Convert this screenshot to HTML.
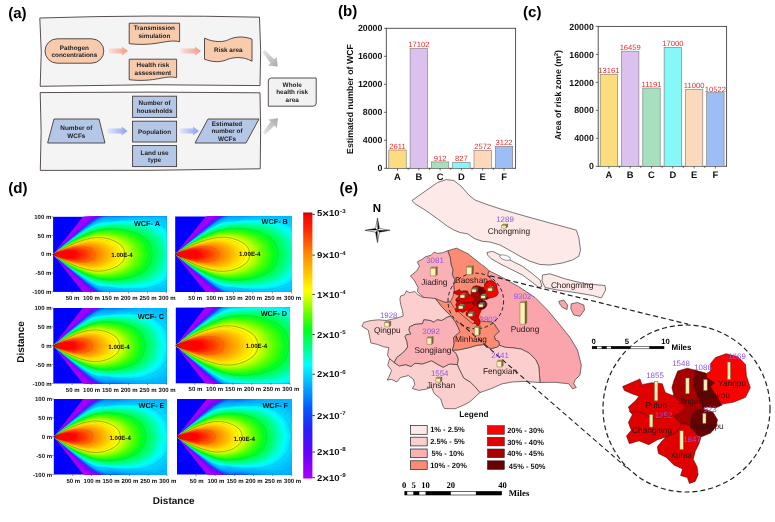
<!DOCTYPE html>
<html><head><meta charset="utf-8"><style>html,body{margin:0;padding:0;background:#fff}svg{display:block;will-change:transform;text-rendering:geometricPrecision}</style></head><body>
<svg width="775" height="522" viewBox="0 0 775 522" font-family="Liberation Sans, sans-serif">
<rect width="775" height="522" fill="#fff"/>
<path d="M412.0,200.5 425.0,191.3 437.5,182.5 446.3,179.6 453.8,180.5 461.3,186.3 468.8,195.0 475.0,200.0 485.0,203.8 500.0,208.8 512.5,212.5 530.0,217.5 550.0,223.0 565.0,227.0 576.3,230.2 578.8,237.5 580.5,250.0 578.8,256.3 572.5,260.0 562.5,263.0 550.0,265.0 540.0,264.5 530.0,261.3 520.0,256.3 510.0,250.5 500.0,245.0 490.0,242.0 482.5,241.3 475.0,238.8 467.5,233.8 460.0,232.5 453.8,230.0 447.5,226.3 437.5,218.8 425.0,210.0 415.0,203.8Z" fill="#fde9e8" stroke="#383030" stroke-width="0.65" stroke-linejoin="round"/>
<path d="M487.0,252.5 492.5,251.3 500.0,255.0 510.0,260.0 522.5,266.3 532.5,273.8 540.0,280.0 542.0,286.3 538.8,287.5 532.5,282.5 522.5,275.0 510.0,268.8 500.0,263.8 491.3,258.8 487.5,255.0Z" fill="#fde9e8" stroke="#383030" stroke-width="0.65" stroke-linejoin="round"/>
<ellipse cx="505" cy="257.6" rx="5.6" ry="2.3" transform="rotate(17 505 257.6)" fill="#fff" stroke="#3a3a3a" stroke-width="0.5"/>
<path d="M542.5,275.0 550.0,273.8 565.0,278.8 585.0,283.8 605.0,285.5 605.6,290.0 601.4,298.0 592.6,295.5 575.0,292.5 557.5,290.0 545.0,287.5 542.0,281.0Z" fill="#fde9e8" stroke="#383030" stroke-width="0.65" stroke-linejoin="round"/>
<path d="M558.8,301.3 563.8,300.0 567.5,305.0 567.0,309.5 562.5,307.5 559.5,303.8Z" fill="#f9a5ab" stroke="#383030" stroke-width="0.65" stroke-linejoin="round"/>
<path d="M571.3,303.8 577.5,302.5 583.8,305.0 584.5,310.0 580.0,316.3 573.8,315.0 570.8,308.8Z" fill="#f9a5ab" stroke="#383030" stroke-width="0.65" stroke-linejoin="round"/>
<path d="M489.0,270.8 502.5,277.5 520.0,287.5 535.0,297.5 547.5,310.0 560.0,325.0 570.0,337.5 577.5,350.0 581.3,365.0 580.0,375.0 575.0,380.0 573.8,383.8 576.3,387.5 572.5,388.8 568.8,383.8 555.0,382.3 540.0,382.5 539.4,373.6 538.7,365.9 535.5,359.4 529.0,353.0 521.3,349.1 512.3,347.8 504.5,347.2 499.4,345.2 498.7,341.4 495.5,340.1 494.2,336.2 496.8,333.6 499.4,331.0 496.8,328.5 494.8,324.6 491.6,322.0 480.0,321.3 470.0,322.0 455.0,312.0 452.0,300.0 455.0,288.0 487.7,274.0Z" fill="#f9a5ab" stroke="#383030" stroke-width="0.65" stroke-linejoin="round"/>
<path d="M445.0,300.0 452.0,288.0 472.0,298.0 484.0,322.0 472.0,327.0 455.0,314.0Z" fill="#fb8c73" />
<path d="M447.7,250.8 451.6,249.5 456.8,248.2 461.9,250.8 468.4,254.0 474.8,259.2 481.3,264.4 486.5,268.2 489.0,270.8 487.7,274.0 490.3,278.5 496.0,285.0 496.0,292.0 470.0,295.0 454.2,292.0 453.5,283.7 454.8,279.8 452.3,274.7 452.9,269.5 451.0,264.4 450.3,257.9 448.4,252.7Z" fill="#fb8c73" stroke="#383030" stroke-width="0.65" stroke-linejoin="round"/>
<path d="M447.7,250.8 442.6,252.7 437.4,253.4 434.2,252.1 431.0,255.3 425.8,256.6 421.3,259.8 417.4,261.8 419.4,266.3 416.8,270.8 412.9,274.0 410.3,276.0 413.5,279.2 416.1,283.7 418.1,287.6 417.4,291.5 420.6,294.7 424.5,297.9 431.0,298.5 436.8,299.8 438.7,301.8 445.2,302.4 450.3,301.8 452.9,296.6 454.2,290.2 453.5,283.7 454.8,279.8 452.3,274.7 452.9,269.5 451.0,264.4 450.3,257.9 448.4,252.7Z" fill="#f9b1b6" stroke="#383030" stroke-width="0.65" stroke-linejoin="round"/>
<path d="M400.6,296.0 404.5,294.7 406.4,290.8 409.6,292.7 414.8,291.5 418.0,294.7 422.5,297.3 429.0,297.9 435.4,298.5 438.0,301.8 441.9,306.9 447.0,312.1 450.9,316.0 447.0,317.3 441.9,320.5 436.7,319.8 434.1,322.4 430.3,320.5 423.8,319.8 422.5,323.7 414.8,324.4 409.6,326.9 409.0,330.2 410.9,334.0 406.4,334.7 405.1,336.6 407.0,341.8 407.7,346.9 405.7,350.0 401.9,353.6 396.8,357.5 394.2,362.6 389.7,358.8 387.5,355.0 388.8,347.6 383.8,346.9 377.4,344.4 370.9,343.0 369.6,336.6 368.3,330.2 361.9,326.3 363.8,322.4 370.9,320.5 378.6,319.8 386.4,320.5 395.4,318.5 399.3,317.3 403.2,316.0 402.5,310.8 400.6,304.4 399.9,299.2Z" fill="#fccfcf" stroke="#383030" stroke-width="0.65" stroke-linejoin="round"/>
<path d="M394.2,362.6 399.4,365.9 405.8,364.6 411.0,366.5 414.8,363.3 422.6,363.9 431.6,360.7 438.1,364.6 443.2,367.2 449.7,363.9 457.4,364.6 460.0,370.4 463.9,378.1 470.3,382.0 475.5,387.2 480.0,392.5 470.3,401.4 465.0,404.5 455.0,408.8 444.5,408.5 443.2,406.5 440.6,398.8 434.2,393.6 431.6,387.2 426.5,389.1 418.7,390.4 412.3,388.5 414.8,384.6 413.5,379.4 408.4,375.5 400.6,377.5 396.8,382.0 391.6,379.4 387.1,380.1 389.0,376.8 391.6,370.4 387.7,365.2 389.7,358.8Z" fill="#fccfcf" stroke="#383030" stroke-width="0.65" stroke-linejoin="round"/>
<path d="M452.3,350.4 459.4,349.7 468.4,347.8 477.4,345.2 483.9,344.6 486.5,347.2 491.6,348.5 496.8,347.2 499.4,345.2 504.5,347.2 512.3,347.8 521.3,349.1 529.0,353.0 535.5,359.4 538.7,365.9 539.4,373.6 540.0,382.5 523.9,381.4 512.3,382.0 501.9,383.9 491.6,388.5 480.0,392.5 475.5,387.2 470.3,382.0 463.9,378.1 460.0,370.4 457.4,364.6 458.1,358.8 456.1,353.6Z" fill="#fccfcf" stroke="#383030" stroke-width="0.65" stroke-linejoin="round"/>
<path d="M409.6,326.9 414.8,324.4 422.5,323.7 423.8,319.8 430.3,320.5 434.1,322.4 436.7,319.8 441.9,320.5 447.0,317.3 450.9,316.0 455.5,322.0 458.1,327.2 460.0,331.7 456.8,334.9 453.5,337.5 454.2,343.9 452.3,350.4 456.1,353.6 458.1,358.8 457.4,364.6 449.7,363.9 443.2,367.2 438.1,364.6 431.6,360.7 422.6,363.9 414.8,363.3 411.0,366.5 405.8,364.6 399.4,365.9 394.2,362.6 396.8,357.5 401.9,353.6 405.7,350.0 407.7,346.9 407.0,341.8 405.1,336.6 406.4,334.7 410.9,334.0 409.0,330.2Z" fill="#f9b1b6" stroke="#383030" stroke-width="0.65" stroke-linejoin="round"/>
<path d="M435.4,298.5 445.2,302.4 450.3,301.8 455.0,308.8 465.0,317.5 472.6,323.8 480.0,321.3 491.6,322.0 494.8,324.6 496.8,328.5 499.4,331.0 496.8,333.6 494.2,336.2 495.5,340.1 498.7,341.4 499.4,345.2 496.8,347.2 491.6,348.5 486.5,347.2 483.9,344.6 477.4,345.2 468.4,347.8 459.4,349.7 452.3,350.4 454.2,343.9 453.5,337.5 456.8,334.9 460.0,331.7 458.1,327.2 455.5,322.0 450.9,316.0 447.0,312.1 441.9,306.9 438.0,301.8Z" fill="#fb8c73" stroke="#383030" stroke-width="0.65" stroke-linejoin="round"/>
<defs><g id="ctr">
<path d="M622.6,386.6 631.3,382.7 640.0,378.9 641.9,384.7 651.6,382.7 662.3,383.7 665.2,392.4 671.9,395.3 673.9,395.3 679.7,401.1 685.5,406.9 677.7,414.7 668.1,416.6 658.4,418.5 648.7,416.6 639.0,411.8 630.3,411.8 628.4,406.9 635.2,401.1 639.0,396.3 631.3,393.4 624.5,390.5Z" fill="#e00000" stroke="#4a0000" stroke-width="0.55" stroke-linejoin="round" vector-effect="non-scaling-stroke"/>
<path d="M629.4,410.8 630.3,411.8 639.0,411.8 648.7,416.6 658.4,418.5 668.1,416.6 677.7,414.7 674.8,416.6 677.7,420.5 681.6,423.4 678.7,430.2 673.9,434.0 666.1,436.9 657.4,439.8 648.7,444.7 639.0,440.8 629.4,443.7 626.5,436.0 631.3,430.2 628.4,422.4 632.3,414.7Z" fill="#e00000" stroke="#4a0000" stroke-width="0.55" stroke-linejoin="round" vector-effect="non-scaling-stroke"/>
<path d="M666.1,436.9 673.9,434.0 678.7,430.2 681.6,423.4 687.4,424.4 691.3,427.3 696.1,434.0 701.0,436.9 699.0,443.7 695.2,451.4 693.2,459.2 697.1,466.9 698.1,474.7 695.2,481.4 689.4,483.4 687.4,477.6 680.6,475.6 682.6,468.9 673.9,465.0 666.1,457.3 658.4,453.4 657.4,446.6 661.3,441.8Z" fill="#e00000" stroke="#4a0000" stroke-width="0.55" stroke-linejoin="round" vector-effect="non-scaling-stroke"/>
<path d="M710.6,363.4 715.5,357.6 726.1,353.7 737.7,356.6 745.5,364.4 746.4,376.0 750.3,387.6 745.5,397.3 733.9,402.1 722.3,404.0 719.4,401.1 714.5,393.4 710.6,386.6 714.5,382.7 706.8,377.9 705.8,374.0 710.6,371.1Z" fill="#ff0000" stroke="#4a0000" stroke-width="0.55" stroke-linejoin="round" vector-effect="non-scaling-stroke"/>
<path d="M673.9,380.8 677.7,371.1 687.4,368.2 695.2,370.2 695.2,376.0 693.2,383.7 697.1,393.4 701.0,403.1 702.9,408.9 695.2,410.8 693.2,412.7 690.3,419.5 691.3,427.3 687.4,424.4 681.6,423.4 677.7,420.5 674.8,416.6 677.7,414.7 685.5,406.9 679.7,401.1 673.9,395.3 671.9,387.6Z" fill="#a60000" stroke="#4a0000" stroke-width="0.55" stroke-linejoin="round" vector-effect="non-scaling-stroke"/>
<path d="M695.2,370.2 705.8,373.1 706.8,377.9 714.5,382.7 710.6,386.6 714.5,393.4 719.4,401.1 722.3,405.0 715.5,407.9 706.8,406.9 702.9,408.9 701.0,403.1 697.1,393.4 693.2,383.7 695.2,376.0Z" fill="#6a0000" stroke="#4a0000" stroke-width="0.55" stroke-linejoin="round" vector-effect="non-scaling-stroke"/>
<path d="M695.2,410.8 702.9,408.9 712.6,411.8 717.4,419.5 716.4,426.3 710.6,433.1 701.0,436.9 696.1,434.0 691.3,427.3 690.3,419.5 693.2,412.7Z" fill="#6a0000" stroke="#4a0000" stroke-width="0.55" stroke-linejoin="round" vector-effect="non-scaling-stroke"/>
</g></defs>
<use href="#ctr" transform="translate(235.83,156.81) scale(0.35)"/>
<circle cx="475.8" cy="301" r="27.8" fill="none" stroke="#222" stroke-width="1.0" stroke-dasharray="3.6,2.6"/>
<circle cx="686.5" cy="408.5" r="83.5" fill="none" stroke="#222" stroke-width="1.2" stroke-dasharray="5.0,3.0"/>
<path d="M490,275.8 L688,324.2" fill="none" stroke="#222" stroke-width="1.2" stroke-dasharray="5.0,3.0"/>
<path d="M460,322.9 L626.5,467.6" fill="none" stroke="#222" stroke-width="1.2" stroke-dasharray="5.0,3.0"/>
<path d="M430.3,268.2 L431.90000000000003,266.9 L437.3,266.9 L435.7,268.2Z" fill="#b7a86a" stroke="#4a4220" stroke-width="0.35" stroke-linejoin="round"/>
<path d="M435.7,268.2 L437.3,266.9 L437.3,274.5 L435.7,275.8Z" fill="#7d6f38" stroke="#4a4220" stroke-width="0.35" stroke-linejoin="round"/>
<rect x="430.3" y="268.2" width="5.4" height="7.6" fill="#fdf0b6" stroke="#4a4220" stroke-width="0.35" stroke-linejoin="round"/>
<path d="M466.4,267.2 L468.0,265.9 L473.4,265.9 L471.79999999999995,267.2Z" fill="#b7a86a" stroke="#4a4220" stroke-width="0.35" stroke-linejoin="round"/>
<path d="M471.79999999999995,267.2 L473.4,265.9 L473.4,273.29999999999995 L471.79999999999995,274.59999999999997Z" fill="#7d6f38" stroke="#4a4220" stroke-width="0.35" stroke-linejoin="round"/>
<rect x="466.4" y="267.2" width="5.4" height="7.4" fill="#fdf0b6" stroke="#4a4220" stroke-width="0.35" stroke-linejoin="round"/>
<path d="M384.6,322.6 L386.20000000000005,321.3 L390.80000000000007,321.3 L389.20000000000005,322.6Z" fill="#b7a86a" stroke="#4a4220" stroke-width="0.35" stroke-linejoin="round"/>
<path d="M389.20000000000005,322.6 L390.80000000000007,321.3 L390.80000000000007,325.5 L389.20000000000005,326.8Z" fill="#7d6f38" stroke="#4a4220" stroke-width="0.35" stroke-linejoin="round"/>
<rect x="384.6" y="322.6" width="4.6" height="4.2" fill="#fdf0b6" stroke="#4a4220" stroke-width="0.35" stroke-linejoin="round"/>
<path d="M427.0,338.0 L428.6,336.7 L433.20000000000005,336.7 L431.6,338.0Z" fill="#b7a86a" stroke="#4a4220" stroke-width="0.35" stroke-linejoin="round"/>
<path d="M431.6,338.0 L433.20000000000005,336.7 L433.20000000000005,343.09999999999997 L431.6,344.4Z" fill="#7d6f38" stroke="#4a4220" stroke-width="0.35" stroke-linejoin="round"/>
<rect x="427.0" y="338.0" width="4.6" height="6.4" fill="#fdf0b6" stroke="#4a4220" stroke-width="0.35" stroke-linejoin="round"/>
<path d="M435.8,378.4 L437.40000000000003,377.09999999999997 L442.00000000000006,377.09999999999997 L440.40000000000003,378.4Z" fill="#b7a86a" stroke="#4a4220" stroke-width="0.35" stroke-linejoin="round"/>
<path d="M440.40000000000003,378.4 L442.00000000000006,377.09999999999997 L442.00000000000006,380.9 L440.40000000000003,382.2Z" fill="#7d6f38" stroke="#4a4220" stroke-width="0.35" stroke-linejoin="round"/>
<rect x="435.8" y="378.4" width="4.6" height="3.8" fill="#fdf0b6" stroke="#4a4220" stroke-width="0.35" stroke-linejoin="round"/>
<path d="M497.0,361.4 L498.6,360.09999999999997 L503.20000000000005,360.09999999999997 L501.6,361.4Z" fill="#b7a86a" stroke="#4a4220" stroke-width="0.35" stroke-linejoin="round"/>
<path d="M501.6,361.4 L503.20000000000005,360.09999999999997 L503.20000000000005,365.7 L501.6,367.0Z" fill="#7d6f38" stroke="#4a4220" stroke-width="0.35" stroke-linejoin="round"/>
<rect x="497.0" y="361.4" width="4.6" height="5.6" fill="#fdf0b6" stroke="#4a4220" stroke-width="0.35" stroke-linejoin="round"/>
<path d="M474.4,327.4 L476.0,326.09999999999997 L480.4,326.09999999999997 L478.79999999999995,327.4Z" fill="#b7a86a" stroke="#4a4220" stroke-width="0.35" stroke-linejoin="round"/>
<path d="M478.79999999999995,327.4 L480.4,326.09999999999997 L480.4,334.09999999999997 L478.79999999999995,335.4Z" fill="#7d6f38" stroke="#4a4220" stroke-width="0.35" stroke-linejoin="round"/>
<rect x="474.4" y="327.4" width="4.4" height="8.0" fill="#fdf0b6" stroke="#4a4220" stroke-width="0.35" stroke-linejoin="round"/>
<path d="M520.0,302.6 L521.8,301.20000000000005 L526.8,301.20000000000005 L525.0,302.6Z" fill="#b7a86a" stroke="#4a4220" stroke-width="0.35" stroke-linejoin="round"/>
<path d="M525.0,302.6 L526.8,301.20000000000005 L526.8,322.80000000000007 L525.0,324.20000000000005Z" fill="#7d6f38" stroke="#4a4220" stroke-width="0.35" stroke-linejoin="round"/>
<rect x="520.0" y="302.6" width="5.0" height="21.6" fill="#fdf0b6" stroke="#4a4220" stroke-width="0.35" stroke-linejoin="round"/>
<path d="M501.5,225.4 L503.1,224.1 L507.70000000000005,224.1 L506.1,225.4Z" fill="#b7a86a" stroke="#4a4220" stroke-width="0.35" stroke-linejoin="round"/>
<path d="M506.1,225.4 L507.70000000000005,224.1 L507.70000000000005,226.7 L506.1,228.0Z" fill="#7d6f38" stroke="#4a4220" stroke-width="0.35" stroke-linejoin="round"/>
<rect x="501.5" y="225.4" width="4.6" height="2.6" fill="#fdf0b6" stroke="#4a4220" stroke-width="0.35" stroke-linejoin="round"/>
<path d="M460.1,295.0 L462.1,293.2 L466.70000000000005,293.2 L464.70000000000005,295.0Z" fill="#8f8962" stroke="#4a4220" stroke-width="0.35" stroke-linejoin="round"/>
<path d="M464.70000000000005,295.0 L466.70000000000005,293.2 L466.70000000000005,296.2 L464.70000000000005,298.0Z" fill="#5e5838" stroke="#4a4220" stroke-width="0.35" stroke-linejoin="round"/>
<rect x="460.1" y="295.0" width="4.6" height="3.0" fill="#fdf0b6" stroke="#4a4220" stroke-width="0.35" stroke-linejoin="round"/>
<path d="M471.6,289.2 L473.6,287.4 L478.20000000000005,287.4 L476.20000000000005,289.2Z" fill="#8f8962" stroke="#4a4220" stroke-width="0.35" stroke-linejoin="round"/>
<path d="M476.20000000000005,289.2 L478.20000000000005,287.4 L478.20000000000005,290.4 L476.20000000000005,292.2Z" fill="#5e5838" stroke="#4a4220" stroke-width="0.35" stroke-linejoin="round"/>
<rect x="471.6" y="289.2" width="4.6" height="3.0" fill="#fdf0b6" stroke="#4a4220" stroke-width="0.35" stroke-linejoin="round"/>
<path d="M487.7,288.1 L489.7,286.3 L494.3,286.3 L492.3,288.1Z" fill="#8f8962" stroke="#4a4220" stroke-width="0.35" stroke-linejoin="round"/>
<path d="M492.3,288.1 L494.3,286.3 L494.3,289.3 L492.3,291.1Z" fill="#5e5838" stroke="#4a4220" stroke-width="0.35" stroke-linejoin="round"/>
<rect x="487.7" y="288.1" width="4.6" height="3.0" fill="#fdf0b6" stroke="#4a4220" stroke-width="0.35" stroke-linejoin="round"/>
<path d="M480.8,295.5 L482.8,293.7 L487.40000000000003,293.7 L485.40000000000003,295.5Z" fill="#8f8962" stroke="#4a4220" stroke-width="0.35" stroke-linejoin="round"/>
<path d="M485.40000000000003,295.5 L487.40000000000003,293.7 L487.40000000000003,296.7 L485.40000000000003,298.5Z" fill="#5e5838" stroke="#4a4220" stroke-width="0.35" stroke-linejoin="round"/>
<rect x="480.8" y="295.5" width="4.6" height="3.0" fill="#fdf0b6" stroke="#4a4220" stroke-width="0.35" stroke-linejoin="round"/>
<path d="M478.5,304.2 L480.5,302.4 L485.1,302.4 L483.1,304.2Z" fill="#8f8962" stroke="#4a4220" stroke-width="0.35" stroke-linejoin="round"/>
<path d="M483.1,304.2 L485.1,302.4 L485.1,305.4 L483.1,307.2Z" fill="#5e5838" stroke="#4a4220" stroke-width="0.35" stroke-linejoin="round"/>
<rect x="478.5" y="304.2" width="4.6" height="3.0" fill="#fdf0b6" stroke="#4a4220" stroke-width="0.35" stroke-linejoin="round"/>
<path d="M458.4,305.9 L460.4,304.09999999999997 L465.0,304.09999999999997 L463.0,305.9Z" fill="#8f8962" stroke="#4a4220" stroke-width="0.35" stroke-linejoin="round"/>
<path d="M463.0,305.9 L465.0,304.09999999999997 L465.0,307.09999999999997 L463.0,308.9Z" fill="#5e5838" stroke="#4a4220" stroke-width="0.35" stroke-linejoin="round"/>
<rect x="458.4" y="305.9" width="4.6" height="3.0" fill="#fdf0b6" stroke="#4a4220" stroke-width="0.35" stroke-linejoin="round"/>
<path d="M468.1,313.4 L470.1,311.59999999999997 L474.70000000000005,311.59999999999997 L472.70000000000005,313.4Z" fill="#8f8962" stroke="#4a4220" stroke-width="0.35" stroke-linejoin="round"/>
<path d="M472.70000000000005,313.4 L474.70000000000005,311.59999999999997 L474.70000000000005,314.59999999999997 L472.70000000000005,316.4Z" fill="#5e5838" stroke="#4a4220" stroke-width="0.35" stroke-linejoin="round"/>
<rect x="468.1" y="313.4" width="4.6" height="3.0" fill="#fdf0b6" stroke="#4a4220" stroke-width="0.35" stroke-linejoin="round"/>
<text x="505" y="221.73" font-size="7.9" font-weight="normal" text-anchor="middle" fill="#9155e6" font-family="Liberation Sans" >1289</text>
<text x="508.9" y="234.47" font-size="8.3" font-weight="normal" text-anchor="middle" fill="#2a1414" font-family="Liberation Sans" >Chongming</text>
<text x="572.1" y="288.47" font-size="8.3" font-weight="normal" text-anchor="middle" fill="#2a1414" font-family="Liberation Sans" >Chongming</text>
<text x="435" y="263.13" font-size="7.9" font-weight="normal" text-anchor="middle" fill="#9155e6" font-family="Liberation Sans" >3081</text>
<text x="434.3" y="284.57" font-size="8.3" font-weight="normal" text-anchor="middle" fill="#2a1414" font-family="Liberation Sans" >Jiading</text>
<text x="471.5" y="282.77" font-size="8.3" font-weight="normal" text-anchor="middle" fill="#2a1414" font-family="Liberation Sans" >Baoshan</text>
<text x="522.5" y="298.63" font-size="7.9" font-weight="normal" text-anchor="middle" fill="#9155e6" font-family="Liberation Sans" >9302</text>
<text x="525" y="331.77" font-size="8.3" font-weight="normal" text-anchor="middle" fill="#2a1414" font-family="Liberation Sans" >Pudong</text>
<text x="388.7" y="318.43" font-size="7.9" font-weight="normal" text-anchor="middle" fill="#9155e6" font-family="Liberation Sans" >1928</text>
<text x="387.3" y="333.37" font-size="8.3" font-weight="normal" text-anchor="middle" fill="#2a1414" font-family="Liberation Sans" >Qingpu</text>
<text x="431.1" y="334.33" font-size="7.9" font-weight="normal" text-anchor="middle" fill="#9155e6" font-family="Liberation Sans" >3092</text>
<text x="433" y="353.17" font-size="8.3" font-weight="normal" text-anchor="middle" fill="#2a1414" font-family="Liberation Sans" >Songjiang</text>
<text x="488.3" y="321.83" font-size="7.9" font-weight="normal" text-anchor="middle" fill="#9155e6" font-family="Liberation Sans" >3802</text>
<text x="471" y="341.77" font-size="8.3" font-weight="normal" text-anchor="middle" fill="#2a1414" font-family="Liberation Sans" >Minhang</text>
<text x="500" y="357.73" font-size="7.9" font-weight="normal" text-anchor="middle" fill="#9155e6" font-family="Liberation Sans" >2441</text>
<text x="500" y="374.47" font-size="8.3" font-weight="normal" text-anchor="middle" fill="#2a1414" font-family="Liberation Sans" >Fengxian</text>
<text x="439.7" y="375.83" font-size="7.9" font-weight="normal" text-anchor="middle" fill="#9155e6" font-family="Liberation Sans" >1554</text>
<text x="441" y="387.97" font-size="8.3" font-weight="normal" text-anchor="middle" fill="#2a1414" font-family="Liberation Sans" >Jinshan</text>
<text x="377" y="212.2" font-size="11.5" font-weight="bold" text-anchor="middle" fill="#000" font-family="Liberation Sans" >N</text>
<path d="M377.5,218.10000000000002 L379.4,228.4 L390.1,230.3 L379.4,232.20000000000002 L377.5,242.70000000000002 L375.6,232.20000000000002 L364.9,230.3 L375.6,228.4Z" fill="#fff" stroke="#000" stroke-width="0.45"/>
<path d="M377.5,218.10000000000002 L377.5,230.3 L379.4,228.4Z M390.1,230.3 L377.5,230.3 L379.4,232.20000000000002Z M377.5,242.70000000000002 L377.5,230.3 L375.6,232.20000000000002Z M364.9,230.3 L377.5,230.3 L375.6,228.4Z" fill="#000"/>
<use href="#ctr"/>
<rect x="654.3" y="381.2" width="3.6" height="19.6" fill="#fdf0b6" stroke="#7a5a30" stroke-width="0.5"/>
<rect x="649.3" y="414.5" width="3.6" height="12.6" fill="#fdf0b6" stroke="#7a5a30" stroke-width="0.5"/>
<rect x="679.8" y="430.8" width="3.6" height="18.8" fill="#fdf0b6" stroke="#7a5a30" stroke-width="0.5"/>
<rect x="702.8" y="413.2" width="3.2" height="10.2" fill="#fdf0b6" stroke="#7a5a30" stroke-width="0.5"/>
<rect x="685.6" y="378" width="3.6" height="15.8" fill="#fdf0b6" stroke="#7a5a30" stroke-width="0.5"/>
<rect x="703.6" y="379.5" width="3.6" height="11" fill="#fdf0b6" stroke="#7a5a30" stroke-width="0.5"/>
<rect x="727.3" y="362" width="3.2" height="17.6" fill="#fdf0b6" stroke="#7a5a30" stroke-width="0.5"/>
<text x="656" y="407.97" font-size="8.3" font-weight="normal" text-anchor="middle" fill="#2a1414" font-family="Liberation Sans" >Putuo</text>
<text x="652" y="432.97" font-size="8.3" font-weight="normal" text-anchor="middle" fill="#2a1414" font-family="Liberation Sans" >Changning</text>
<text x="681" y="457.97" font-size="8.3" font-weight="normal" text-anchor="middle" fill="#2a1414" font-family="Liberation Sans" >Xuhui</text>
<text x="706.8" y="429.47" font-size="8.3" font-weight="normal" text-anchor="middle" fill="#2a1414" font-family="Liberation Sans" >Huangpu</text>
<text x="691" y="404.27" font-size="8.3" font-weight="normal" text-anchor="middle" fill="#2a1414" font-family="Liberation Sans" >Jingan</text>
<text x="713.5" y="398.47" font-size="8.3" font-weight="normal" text-anchor="middle" fill="#2a1414" font-family="Liberation Sans" >Hongkou</text>
<text x="732" y="385.97" font-size="8.3" font-weight="normal" text-anchor="middle" fill="#2a1414" font-family="Liberation Sans" >Yangpu</text>
<text x="655" y="378.33" font-size="7.9" font-weight="normal" text-anchor="middle" fill="#9155e6" font-family="Liberation Sans" >1855</text>
<text x="681" y="365.83" font-size="7.9" font-weight="normal" text-anchor="middle" fill="#9155e6" font-family="Liberation Sans" >1548</text>
<text x="703" y="369.63" font-size="7.9" font-weight="normal" text-anchor="middle" fill="#9155e6" font-family="Liberation Sans" >1086</text>
<text x="737" y="358.83" font-size="7.9" font-weight="normal" text-anchor="middle" fill="#9155e6" font-family="Liberation Sans" >1669</text>
<text x="710" y="411.83" font-size="7.9" font-weight="normal" text-anchor="middle" fill="#9155e6" font-family="Liberation Sans" >923</text>
<text x="663.5" y="417.83" font-size="7.9" font-weight="normal" text-anchor="middle" fill="#9155e6" font-family="Liberation Sans" >1252</text>
<text x="692" y="442.33" font-size="7.9" font-weight="normal" text-anchor="middle" fill="#9155e6" font-family="Liberation Sans" >1847</text>
<rect x="592.2" y="346.3" width="71.8" height="2.5" fill="#fff" stroke="#000" stroke-width="0.5"/>
<rect x="592.2" y="346.3" width="4.8" height="2.5" fill="#000"/>
<rect x="601.7" y="346.3" width="5.0" height="2.5" fill="#000"/>
<rect x="611" y="346.3" width="19.7" height="2.5" fill="#000"/>
<rect x="649.3" y="346.3" width="14.7" height="2.5" fill="#000"/>
<text x="593.6" y="344.36" font-size="7.7" font-weight="bold" text-anchor="middle" fill="#000" font-family="Liberation Sans" >0</text>
<text x="626.9" y="344.36" font-size="7.7" font-weight="bold" text-anchor="middle" fill="#000" font-family="Liberation Sans" >5</text>
<text x="665.5" y="344.36" font-size="7.7" font-weight="bold" text-anchor="middle" fill="#000" font-family="Liberation Sans" >10</text>
<text x="671.5" y="350.4" font-size="8.0" font-weight="bold" text-anchor="start" fill="#000" font-family="Liberation Sans" >Miles</text>
<text x="459.3" y="417.3" font-size="8.2" font-weight="bold" text-anchor="start" fill="#111" font-family="Liberation Sans" >Legend</text>
<rect x="410.4" y="425.6" width="16.8" height="8.7" fill="#fde9e8" stroke="#222" stroke-width="0.7"/>
<text x="430.2" y="432.2" font-size="7.5" font-weight="bold" text-anchor="start" fill="#111" font-family="Liberation Sans" >1% - 2.5%</text>
<rect x="410.4" y="437.2" width="16.8" height="8.7" fill="#fccfcf" stroke="#222" stroke-width="0.7"/>
<text x="430.2" y="444.2" font-size="7.5" font-weight="bold" text-anchor="start" fill="#111" font-family="Liberation Sans" >2.5% - 5%</text>
<rect x="410.4" y="449.0" width="16.8" height="8.7" fill="#f9b1b6" stroke="#222" stroke-width="0.7"/>
<text x="431.4" y="456.2" font-size="7.5" font-weight="bold" text-anchor="start" fill="#111" font-family="Liberation Sans" >5% - 10%</text>
<rect x="410.4" y="460.8" width="16.8" height="8.7" fill="#fb8c73" stroke="#222" stroke-width="0.7"/>
<text x="430.2" y="468.2" font-size="7.5" font-weight="bold" text-anchor="start" fill="#111" font-family="Liberation Sans" >10% - 20%</text>
<rect x="487.4" y="425.6" width="17" height="8.7" fill="#ff0000" stroke="#222" stroke-width="0.5"/>
<text x="507.2" y="432.6" font-size="7.5" font-weight="bold" text-anchor="start" fill="#111" font-family="Liberation Sans" >20% - 30%</text>
<rect x="487.4" y="437.2" width="17" height="8.7" fill="#e00000" stroke="#222" stroke-width="0.5"/>
<text x="507.2" y="444.6" font-size="7.5" font-weight="bold" text-anchor="start" fill="#111" font-family="Liberation Sans" >30% - 40%</text>
<rect x="487.4" y="449.0" width="17" height="8.7" fill="#a60000" stroke="#222" stroke-width="0.5"/>
<text x="507.2" y="455.9" font-size="7.5" font-weight="bold" text-anchor="start" fill="#111" font-family="Liberation Sans" >40% - 45%</text>
<rect x="487.4" y="460.8" width="17" height="8.7" fill="#6a0000" stroke="#222" stroke-width="0.5"/>
<text x="508.8" y="468.6" font-size="7.5" font-weight="bold" text-anchor="start" fill="#111" font-family="Liberation Sans" >45% - 50%</text>
<rect x="404.8" y="491.4" width="96.8" height="3.6" fill="#fff" stroke="#000" stroke-width="0.6"/>
<rect x="404.8" y="491.4" width="2.4" height="3.6" fill="#000"/>
<rect x="413.3" y="491.4" width="6.0" height="3.6" fill="#000"/>
<rect x="425.6" y="491.4" width="25.2" height="3.6" fill="#000"/>
<rect x="475.9" y="491.4" width="25.7" height="3.6" fill="#000"/>
<text x="404.2" y="487.6" font-size="8.6" font-weight="bold" text-anchor="middle" fill="#000" font-family="Liberation Serif" >0</text>
<text x="413.6" y="487.6" font-size="8.6" font-weight="bold" text-anchor="middle" fill="#000" font-family="Liberation Serif" >5</text>
<text x="425.6" y="487.6" font-size="8.6" font-weight="bold" text-anchor="middle" fill="#000" font-family="Liberation Serif" >10</text>
<text x="450.8" y="487.6" font-size="8.6" font-weight="bold" text-anchor="middle" fill="#000" font-family="Liberation Serif" >20</text>
<text x="502.6" y="487.6" font-size="8.6" font-weight="bold" text-anchor="middle" fill="#000" font-family="Liberation Serif" >40</text>
<text x="508.8" y="496.1" font-size="8.8" font-weight="bold" text-anchor="start" fill="#000" font-family="Liberation Serif" >Miles</text>
<defs>
<linearGradient id="gr" x1="0" x2="1" y1="0" y2="0"><stop offset="0" stop-color="#fbe3dc"/><stop offset="1" stop-color="#ee9a88"/></linearGradient>
<linearGradient id="gb" x1="0" x2="1" y1="0" y2="0"><stop offset="0" stop-color="#e3e8fb"/><stop offset="1" stop-color="#8c9ff0"/></linearGradient>
<linearGradient id="gg1" x1="0" x2="1" y1="0" y2="1"><stop offset="0" stop-color="#e9e9e9"/><stop offset="1" stop-color="#a8a8a8"/></linearGradient>
<linearGradient id="gg2" x1="0" x2="1" y1="1" y2="0"><stop offset="0" stop-color="#e9e9e9"/><stop offset="1" stop-color="#a8a8a8"/></linearGradient>
</defs>
<path d="M39.8,18 Q150,14.5 259.5,17.2 Q261.5,50 260,85.6 Q150,83.5 40.2,86.3 Q42.5,52 39.8,18 Z" fill="#f4f4f4" stroke="#453c3a" stroke-width="0.9"/>
<path d="M40.2,92.6 Q150,91.5 260,92.8 Q261.2,130 260.2,168.8 Q150,171 40.3,170.4 Q42,131 40.2,92.6 Z" fill="#f4f4f4" stroke="#453c3a" stroke-width="0.9"/>
<rect x="45" y="38.8" width="58.8" height="24.4" rx="12.2" fill="#f8cbad" stroke="#453c3a" stroke-width="0.9"/>
<text x="74.4" y="49.89" font-size="6.4" font-weight="bold" text-anchor="middle" fill="#222" font-family="Liberation Sans" >Pathogen</text>
<text x="74.4" y="57.49" font-size="6.4" font-weight="bold" text-anchor="middle" fill="#222" font-family="Liberation Sans" >concentrations</text>
<path d="M108.6,48.6 L122.0,48.6 L122.0,46.5 L128.0,51 L122.0,55.5 L122.0,53.4 L108.6,53.4 Z" fill="url(#gr)"/>
<path d="M180.5,48.6 L195.0,48.6 L195.0,46.5 L201,51 L195.0,55.5 L195.0,53.4 L180.5,53.4 Z" fill="url(#gr)"/>
<path d="M107.5,128.6 L121.6,128.6 L121.6,126.5 L127.6,131 L121.6,135.5 L121.6,133.4 L107.5,133.4 Z" fill="url(#gb)"/>
<path d="M179.5,128.6 L193.0,128.6 L193.0,126.5 L199,131 L193.0,135.5 L193.0,133.4 L179.5,133.4 Z" fill="url(#gb)"/>
<path d="M129.2,23.2 L179.6,23.2 L179.6,41.7 C167.0,38.7 156.92,46.7 129.2,43.7 Z" fill="#f8cbad" stroke="#453c3a" stroke-width="0.9"/>
<text x="154.4" y="30.49" font-size="6.4" font-weight="bold" text-anchor="middle" fill="#222" font-family="Liberation Sans" >Transmission</text>
<text x="154.4" y="38.19" font-size="6.4" font-weight="bold" text-anchor="middle" fill="#222" font-family="Liberation Sans" >simulation</text>
<path d="M129.2,59.2 L176.6,59.2 L176.6,77.7 C164.75,74.7 155.26999999999998,82.7 129.2,79.7 Z" fill="#f8cbad" stroke="#453c3a" stroke-width="0.9"/>
<text x="152.9" y="66.89" font-size="6.4" font-weight="bold" text-anchor="middle" fill="#222" font-family="Liberation Sans" >Health risk</text>
<text x="152.9" y="74.59" font-size="6.4" font-weight="bold" text-anchor="middle" fill="#222" font-family="Liberation Sans" >assessment</text>
<path d="M204.5,38.2 C214.5,42.7 223.5,42.2 228.5,39.7 C235.5,36.2 244.5,36.2 252,39.2 L252,61.2 C243,56.2 234,57.2 228,59.2 C221,62.7 212,62.2 204.5,59.2 Z" fill="#f8cbad" stroke="#453c3a" stroke-width="0.9"/>
<text x="228.3" y="52.49" font-size="6.4" font-weight="bold" text-anchor="middle" fill="#222" font-family="Liberation Sans" >Risk area</text>
<path d="M262.5,52.2 L264.8,49.9 L274.2,59.3 L276.6,56.9 L277.8,66.6 L268.1,65.4 L270.5,63.0 Z" fill="url(#gg1)"/>
<path d="M262.9,132.4 L265.2,134.7 L274.4,125.5 L276.8,127.9 L278.0,118.2 L268.3,119.4 L270.7,121.8 Z" fill="url(#gg2)"/>
<path d="M271.5,78 L316.2,78 L316.2,103 Q316.2,106.2 313,106.2 L268.3,106.2 L268.3,81.2 Q268.3,78 271.5,78 Z" fill="#f2f2f2" stroke="#453c3a" stroke-width="0.9"/>
<text x="292.2" y="86.69" font-size="6.4" font-weight="bold" text-anchor="middle" fill="#222" font-family="Liberation Sans" >Whole</text>
<text x="292.2" y="94.49" font-size="6.4" font-weight="bold" text-anchor="middle" fill="#222" font-family="Liberation Sans" >health risk</text>
<text x="292.2" y="102.29" font-size="6.4" font-weight="bold" text-anchor="middle" fill="#222" font-family="Liberation Sans" >area</text>
<path d="M54,119 L99,119 L105,143 L47.6,143 Z" fill="#b4c7e7" stroke="#453c3a" stroke-width="0.9"/>
<text x="76.3" y="129.89" font-size="6.4" font-weight="bold" text-anchor="middle" fill="#222" font-family="Liberation Sans" >Number of</text>
<text x="76.3" y="137.59" font-size="6.4" font-weight="bold" text-anchor="middle" fill="#222" font-family="Liberation Sans" >WCFs</text>
<rect x="132.6" y="96.2" width="44" height="21.200000000000003" fill="#b4c7e7" stroke="#453c3a" stroke-width="0.9"/>
<text x="154.6" y="105.39" font-size="6.4" font-weight="bold" text-anchor="middle" fill="#222" font-family="Liberation Sans" >Number of</text>
<text x="154.6" y="113.09" font-size="6.4" font-weight="bold" text-anchor="middle" fill="#222" font-family="Liberation Sans" >households</text>
<rect x="132.6" y="121.2" width="44" height="20.799999999999997" fill="#b4c7e7" stroke="#453c3a" stroke-width="0.9"/>
<text x="154.6" y="134.19" font-size="6.4" font-weight="bold" text-anchor="middle" fill="#222" font-family="Liberation Sans" >Population</text>
<rect x="132.6" y="145.6" width="44" height="21.0" fill="#b4c7e7" stroke="#453c3a" stroke-width="0.9"/>
<text x="154.6" y="154.69" font-size="6.4" font-weight="bold" text-anchor="middle" fill="#222" font-family="Liberation Sans" >Land use</text>
<text x="154.6" y="162.39" font-size="6.4" font-weight="bold" text-anchor="middle" fill="#222" font-family="Liberation Sans" >type</text>
<path d="M208,119 L259,119 L246,143 L195,143 Z" fill="#b4c7e7" stroke="#453c3a" stroke-width="0.9"/>
<text x="227" y="125.79" font-size="6.4" font-weight="bold" text-anchor="middle" fill="#222" font-family="Liberation Sans" >Estimated</text>
<text x="227" y="133.49" font-size="6.4" font-weight="bold" text-anchor="middle" fill="#222" font-family="Liberation Sans" >number of</text>
<text x="227" y="141.19" font-size="6.4" font-weight="bold" text-anchor="middle" fill="#222" font-family="Liberation Sans" >WCFs</text>
<rect x="386.3" y="28.3" width="129.3" height="140.0" fill="#fff" stroke="#444" stroke-width="0.9"/>
<line x1="383.90000000000003" y1="28.3" x2="386.3" y2="28.3" stroke="#333" stroke-width="0.7"/>
<text x="382.4" y="31.45" font-size="8.8" font-weight="bold" text-anchor="end" fill="#111" font-family="Liberation Sans" >20000</text>
<line x1="383.90000000000003" y1="56.3" x2="386.3" y2="56.3" stroke="#333" stroke-width="0.7"/>
<text x="382.4" y="59.45" font-size="8.8" font-weight="bold" text-anchor="end" fill="#111" font-family="Liberation Sans" >16000</text>
<line x1="383.90000000000003" y1="84.3" x2="386.3" y2="84.3" stroke="#333" stroke-width="0.7"/>
<text x="382.4" y="87.45" font-size="8.8" font-weight="bold" text-anchor="end" fill="#111" font-family="Liberation Sans" >12000</text>
<line x1="383.90000000000003" y1="112.3" x2="386.3" y2="112.3" stroke="#333" stroke-width="0.7"/>
<text x="382.4" y="115.45" font-size="8.8" font-weight="bold" text-anchor="end" fill="#111" font-family="Liberation Sans" >8000</text>
<line x1="383.90000000000003" y1="140.3" x2="386.3" y2="140.3" stroke="#333" stroke-width="0.7"/>
<text x="382.4" y="143.45" font-size="8.8" font-weight="bold" text-anchor="end" fill="#111" font-family="Liberation Sans" >4000</text>
<line x1="383.90000000000003" y1="168.3" x2="386.3" y2="168.3" stroke="#333" stroke-width="0.7"/>
<text x="382.4" y="171.45" font-size="8.8" font-weight="bold" text-anchor="end" fill="#111" font-family="Liberation Sans" >0</text>
<rect x="388.80" y="150.02" width="17.4" height="18.28" fill="#fbdc7e" stroke="#777" stroke-width="0.6"/>
<text x="397.5" y="148.82" font-size="7.6" font-weight="normal" text-anchor="middle" fill="#e03030" font-family="Liberation Sans" >2611</text>
<text x="397.5" y="179.6" font-size="9.4" font-weight="bold" text-anchor="middle" fill="#111" font-family="Liberation Sans" >A</text>
<line x1="397.50" y1="168.3" x2="397.50" y2="170.5" stroke="#333" stroke-width="0.7"/>
<line x1="408.15" y1="168.3" x2="408.15" y2="169.9" stroke="#333" stroke-width="0.7"/>
<rect x="410.10" y="48.59" width="17.4" height="119.71" fill="#dcc0ee" stroke="#777" stroke-width="0.6"/>
<text x="418.8" y="47.39" font-size="7.6" font-weight="normal" text-anchor="middle" fill="#e03030" font-family="Liberation Sans" >17102</text>
<text x="418.8" y="179.6" font-size="9.4" font-weight="bold" text-anchor="middle" fill="#111" font-family="Liberation Sans" >B</text>
<line x1="418.80" y1="168.3" x2="418.80" y2="170.5" stroke="#333" stroke-width="0.7"/>
<line x1="429.45" y1="168.3" x2="429.45" y2="169.9" stroke="#333" stroke-width="0.7"/>
<rect x="431.40" y="161.92" width="17.4" height="6.38" fill="#a6e0bc" stroke="#777" stroke-width="0.6"/>
<text x="440.1" y="160.72" font-size="7.6" font-weight="normal" text-anchor="middle" fill="#e03030" font-family="Liberation Sans" >912</text>
<text x="440.1" y="179.6" font-size="9.4" font-weight="bold" text-anchor="middle" fill="#111" font-family="Liberation Sans" >C</text>
<line x1="440.10" y1="168.3" x2="440.10" y2="170.5" stroke="#333" stroke-width="0.7"/>
<line x1="450.75" y1="168.3" x2="450.75" y2="169.9" stroke="#333" stroke-width="0.7"/>
<rect x="452.70" y="162.51" width="17.4" height="5.79" fill="#86f8f8" stroke="#777" stroke-width="0.6"/>
<text x="461.4" y="161.31" font-size="7.6" font-weight="normal" text-anchor="middle" fill="#e03030" font-family="Liberation Sans" >827</text>
<text x="461.4" y="179.6" font-size="9.4" font-weight="bold" text-anchor="middle" fill="#111" font-family="Liberation Sans" >D</text>
<line x1="461.40" y1="168.3" x2="461.40" y2="170.5" stroke="#333" stroke-width="0.7"/>
<line x1="472.05" y1="168.3" x2="472.05" y2="169.9" stroke="#333" stroke-width="0.7"/>
<rect x="474.00" y="150.30" width="17.4" height="18.00" fill="#fdd9bb" stroke="#777" stroke-width="0.6"/>
<text x="482.7" y="149.1" font-size="7.6" font-weight="normal" text-anchor="middle" fill="#e03030" font-family="Liberation Sans" >2572</text>
<text x="482.7" y="179.6" font-size="9.4" font-weight="bold" text-anchor="middle" fill="#111" font-family="Liberation Sans" >E</text>
<line x1="482.70" y1="168.3" x2="482.70" y2="170.5" stroke="#333" stroke-width="0.7"/>
<line x1="493.35" y1="168.3" x2="493.35" y2="169.9" stroke="#333" stroke-width="0.7"/>
<rect x="495.30" y="146.45" width="17.4" height="21.85" fill="#9cbef4" stroke="#777" stroke-width="0.6"/>
<text x="504.0" y="145.25" font-size="7.6" font-weight="normal" text-anchor="middle" fill="#e03030" font-family="Liberation Sans" >3122</text>
<text x="504.0" y="179.6" font-size="9.4" font-weight="bold" text-anchor="middle" fill="#111" font-family="Liberation Sans" >F</text>
<line x1="504.00" y1="168.3" x2="504.00" y2="170.5" stroke="#333" stroke-width="0.7"/>
<text transform="translate(353.2,99) rotate(-90)" font-size="8.8" font-weight="bold" text-anchor="middle" fill="#111" font-family="Liberation Sans">Estimated number of WCF</text>
<rect x="598.2" y="26.4" width="128.39999999999998" height="139.9" fill="#fff" stroke="#444" stroke-width="0.9"/>
<line x1="595.8000000000001" y1="26.4" x2="598.2" y2="26.4" stroke="#333" stroke-width="0.7"/>
<text x="593.8" y="29.55" font-size="8.8" font-weight="bold" text-anchor="end" fill="#111" font-family="Liberation Sans" >20000</text>
<line x1="595.8000000000001" y1="54.379999999999995" x2="598.2" y2="54.379999999999995" stroke="#333" stroke-width="0.7"/>
<text x="593.8" y="57.53" font-size="8.8" font-weight="bold" text-anchor="end" fill="#111" font-family="Liberation Sans" >16000</text>
<line x1="595.8000000000001" y1="82.36" x2="598.2" y2="82.36" stroke="#333" stroke-width="0.7"/>
<text x="593.8" y="85.51" font-size="8.8" font-weight="bold" text-anchor="end" fill="#111" font-family="Liberation Sans" >12000</text>
<line x1="595.8000000000001" y1="110.34" x2="598.2" y2="110.34" stroke="#333" stroke-width="0.7"/>
<text x="593.8" y="113.49" font-size="8.8" font-weight="bold" text-anchor="end" fill="#111" font-family="Liberation Sans" >8000</text>
<line x1="595.8000000000001" y1="138.32" x2="598.2" y2="138.32" stroke="#333" stroke-width="0.7"/>
<text x="593.8" y="141.47" font-size="8.8" font-weight="bold" text-anchor="end" fill="#111" font-family="Liberation Sans" >4000</text>
<line x1="595.8000000000001" y1="166.3" x2="598.2" y2="166.3" stroke="#333" stroke-width="0.7"/>
<text x="593.8" y="169.45" font-size="8.8" font-weight="bold" text-anchor="end" fill="#111" font-family="Liberation Sans" >0</text>
<rect x="600.20" y="74.24" width="17.4" height="92.06" fill="#fbdc7e" stroke="#777" stroke-width="0.6"/>
<text x="608.9" y="73.04" font-size="7.6" font-weight="normal" text-anchor="middle" fill="#e03030" font-family="Liberation Sans" >13161</text>
<text x="608.9" y="177.6" font-size="9.4" font-weight="bold" text-anchor="middle" fill="#111" font-family="Liberation Sans" >A</text>
<line x1="608.90" y1="166.3" x2="608.90" y2="168.5" stroke="#333" stroke-width="0.7"/>
<line x1="619.55" y1="166.3" x2="619.55" y2="167.9" stroke="#333" stroke-width="0.7"/>
<rect x="621.50" y="51.17" width="17.4" height="115.13" fill="#dcc0ee" stroke="#777" stroke-width="0.6"/>
<text x="630.2" y="49.97" font-size="7.6" font-weight="normal" text-anchor="middle" fill="#e03030" font-family="Liberation Sans" >16459</text>
<text x="630.2" y="177.6" font-size="9.4" font-weight="bold" text-anchor="middle" fill="#111" font-family="Liberation Sans" >B</text>
<line x1="630.20" y1="166.3" x2="630.20" y2="168.5" stroke="#333" stroke-width="0.7"/>
<line x1="640.85" y1="166.3" x2="640.85" y2="167.9" stroke="#333" stroke-width="0.7"/>
<rect x="642.80" y="88.02" width="17.4" height="78.28" fill="#a6e0bc" stroke="#777" stroke-width="0.6"/>
<text x="651.5" y="86.82" font-size="7.6" font-weight="normal" text-anchor="middle" fill="#e03030" font-family="Liberation Sans" >11191</text>
<text x="651.5" y="177.6" font-size="9.4" font-weight="bold" text-anchor="middle" fill="#111" font-family="Liberation Sans" >C</text>
<line x1="651.50" y1="166.3" x2="651.50" y2="168.5" stroke="#333" stroke-width="0.7"/>
<line x1="662.15" y1="166.3" x2="662.15" y2="167.9" stroke="#333" stroke-width="0.7"/>
<rect x="664.10" y="47.39" width="17.4" height="118.92" fill="#86f8f8" stroke="#777" stroke-width="0.6"/>
<text x="672.8" y="46.19" font-size="7.6" font-weight="normal" text-anchor="middle" fill="#e03030" font-family="Liberation Sans" >17000</text>
<text x="672.8" y="177.6" font-size="9.4" font-weight="bold" text-anchor="middle" fill="#111" font-family="Liberation Sans" >D</text>
<line x1="672.80" y1="166.3" x2="672.80" y2="168.5" stroke="#333" stroke-width="0.7"/>
<line x1="683.45" y1="166.3" x2="683.45" y2="167.9" stroke="#333" stroke-width="0.7"/>
<rect x="685.40" y="89.36" width="17.4" height="76.95" fill="#fdd9bb" stroke="#777" stroke-width="0.6"/>
<text x="694.1" y="88.16" font-size="7.6" font-weight="normal" text-anchor="middle" fill="#e03030" font-family="Liberation Sans" >11000</text>
<text x="694.1" y="177.6" font-size="9.4" font-weight="bold" text-anchor="middle" fill="#111" font-family="Liberation Sans" >E</text>
<line x1="694.10" y1="166.3" x2="694.10" y2="168.5" stroke="#333" stroke-width="0.7"/>
<line x1="704.75" y1="166.3" x2="704.75" y2="167.9" stroke="#333" stroke-width="0.7"/>
<rect x="706.70" y="92.70" width="17.4" height="73.60" fill="#9cbef4" stroke="#777" stroke-width="0.6"/>
<text x="715.4" y="91.5" font-size="7.6" font-weight="normal" text-anchor="middle" fill="#e03030" font-family="Liberation Sans" >10522</text>
<text x="715.4" y="177.6" font-size="9.4" font-weight="bold" text-anchor="middle" fill="#111" font-family="Liberation Sans" >F</text>
<line x1="715.40" y1="166.3" x2="715.40" y2="168.5" stroke="#333" stroke-width="0.7"/>
<text transform="translate(560.7,95) rotate(-90)" font-size="8.8" font-weight="bold" text-anchor="middle" fill="#111" font-family="Liberation Sans">Area of risk zone (m<tspan font-size="5.5" dy="-3">2</tspan><tspan dy="3">)</tspan></text>
<defs><g id="plume">
<path d="M0.0,0.0 0.5,-0.6 5.4,-6.9 10.4,-13.2 15.3,-19.5 20.2,-25.8 25.2,-32.0 30.1,-38.3 35.1,-44.6 40.0,-50.8 52.2,-66.3 64.4,-81.7 76.6,-97.0 88.8,-112.4 101.0,-127.7 113.2,-137.2 125.4,-135.8 137.6,-135.2 149.8,-135.3 162.0,-136.5 174.2,-140.4 186.4,-145.8 198.6,-150.5 210.8,-154.9 223.0,-160.1 235.2,-168.5 247.4,-181.7 259.6,-200.4 271.8,-247.8 284.0,-340.6 296.2,-409.6 308.4,-429.3 320.6,-446.2 332.8,-463.1 345.0,-480.0 345.0,480.0 332.8,463.1 320.6,446.2 308.4,429.3 296.2,409.6 284.0,340.6 271.8,247.8 259.6,200.4 247.4,181.7 235.2,168.5 223.0,160.1 210.8,154.9 198.6,150.5 186.4,145.8 174.2,140.4 162.0,136.5 149.8,135.3 137.6,135.2 125.4,135.8 113.2,137.2 101.0,127.7 88.8,112.4 76.6,97.0 64.4,81.7 52.2,66.3 40.0,50.8 35.1,44.6 30.1,38.3 25.2,32.0 20.2,25.8 15.3,19.5 10.4,13.2 5.4,6.9 0.5,0.6Z" fill="#ab00fa"/>
<path d="M0.0,0.0 0.5,-0.6 5.4,-6.8 10.4,-12.9 15.3,-19.0 20.2,-25.2 25.2,-31.3 30.1,-37.4 35.1,-43.5 40.0,-49.6 52.2,-64.6 64.4,-79.6 76.6,-94.5 88.8,-109.4 101.0,-124.2 113.2,-132.1 125.4,-132.6 137.6,-132.8 149.8,-133.5 162.0,-134.9 174.2,-139.5 186.4,-144.9 198.6,-149.2 210.8,-153.5 223.0,-158.4 235.2,-166.6 247.4,-179.6 259.6,-198.0 271.8,-222.4 284.0,-320.4 296.2,-401.1 308.4,-420.6 320.6,-437.1 332.8,-453.6 345.0,-470.2 345.0,470.2 332.8,453.6 320.6,437.1 308.4,420.6 296.2,401.1 284.0,320.4 271.8,222.4 259.6,198.0 247.4,179.6 235.2,166.6 223.0,158.4 210.8,153.5 198.6,149.2 186.4,144.9 174.2,139.5 162.0,134.9 149.8,133.5 137.6,132.8 125.4,132.6 113.2,132.1 101.0,124.2 88.8,109.4 76.6,94.5 64.4,79.6 52.2,64.6 40.0,49.6 35.1,43.5 30.1,37.4 25.2,31.3 20.2,25.2 15.3,19.0 10.4,12.9 5.4,6.8 0.5,0.6Z" fill="#a800fb"/>
<path d="M0.0,0.0 0.5,-0.6 5.4,-6.6 10.4,-12.5 15.3,-18.5 20.2,-24.4 25.2,-30.3 30.1,-36.2 35.1,-42.1 40.0,-48.0 52.2,-62.5 64.4,-76.9 76.6,-91.3 88.8,-105.6 101.0,-119.8 113.2,-127.4 125.4,-129.6 137.6,-130.6 149.8,-131.9 162.0,-133.7 174.2,-138.6 186.4,-143.8 198.6,-147.9 210.8,-151.9 223.0,-156.7 235.2,-164.6 247.4,-177.4 259.6,-195.6 271.8,-218.6 284.0,-305.5 296.2,-391.7 308.4,-411.0 320.6,-427.1 332.8,-443.2 345.0,-459.3 345.0,459.3 332.8,443.2 320.6,427.1 308.4,411.0 296.2,391.7 284.0,305.5 271.8,218.6 259.6,195.6 247.4,177.4 235.2,164.6 223.0,156.7 210.8,151.9 198.6,147.9 186.4,143.8 174.2,138.6 162.0,133.7 149.8,131.9 137.6,130.6 125.4,129.6 113.2,127.4 101.0,119.8 88.8,105.6 76.6,91.3 64.4,76.9 52.2,62.5 40.0,48.0 35.1,42.1 30.1,36.2 25.2,30.3 20.2,24.4 15.3,18.5 10.4,12.5 5.4,6.6 0.5,0.6Z" fill="#a500fc"/>
<path d="M0.0,0.0 0.5,-0.6 5.4,-6.3 10.4,-12.1 15.3,-17.8 20.2,-23.5 25.2,-29.2 30.1,-34.9 35.1,-40.6 40.0,-46.2 52.2,-60.2 64.4,-74.1 76.6,-87.9 88.8,-101.7 101.0,-115.3 113.2,-123.6 125.4,-127.0 137.6,-128.5 149.8,-130.4 162.0,-132.6 174.2,-137.8 186.4,-142.7 198.6,-146.5 210.8,-150.4 223.0,-154.8 235.2,-162.6 247.4,-175.1 259.6,-193.1 271.8,-215.9 284.0,-293.4 296.2,-380.2 308.4,-399.7 320.6,-415.3 332.8,-430.9 345.0,-446.4 345.0,446.4 332.8,430.9 320.6,415.3 308.4,399.7 296.2,380.2 284.0,293.4 271.8,215.9 259.6,193.1 247.4,175.1 235.2,162.6 223.0,154.8 210.8,150.4 198.6,146.5 186.4,142.7 174.2,137.8 162.0,132.6 149.8,130.4 137.6,128.5 125.4,127.0 113.2,123.6 101.0,115.3 88.8,101.7 76.6,87.9 64.4,74.1 52.2,60.2 40.0,46.2 35.1,40.6 30.1,34.9 25.2,29.2 20.2,23.5 15.3,17.8 10.4,12.1 5.4,6.3 0.5,0.6Z" fill="#a200fc"/>
<path d="M0.0,0.0 0.5,-0.6 5.4,-6.1 10.4,-11.7 15.3,-17.2 20.2,-22.7 25.2,-28.2 30.1,-33.7 35.1,-39.2 40.0,-44.7 52.2,-58.2 64.4,-71.7 76.6,-85.0 88.8,-98.4 101.0,-111.6 113.2,-120.5 125.4,-124.5 137.6,-126.6 149.8,-128.7 162.0,-131.6 174.2,-136.9 186.4,-141.5 198.6,-145.1 210.8,-148.7 223.0,-153.0 235.2,-160.5 247.4,-172.8 259.6,-190.5 271.8,-213.4 284.0,-282.8 296.2,-363.0 308.4,-383.9 320.6,-398.6 332.8,-413.3 345.0,-428.0 345.0,428.0 332.8,413.3 320.6,398.6 308.4,383.9 296.2,363.0 284.0,282.8 271.8,213.4 259.6,190.5 247.4,172.8 235.2,160.5 223.0,153.0 210.8,148.7 198.6,145.1 186.4,141.5 174.2,136.9 162.0,131.6 149.8,128.7 137.6,126.6 125.4,124.5 113.2,120.5 101.0,111.6 88.8,98.4 76.6,85.0 64.4,71.7 52.2,58.2 40.0,44.7 35.1,39.2 30.1,33.7 25.2,28.2 20.2,22.7 15.3,17.2 10.4,11.7 5.4,6.1 0.5,0.6Z" fill="#9f00fd"/>
<path d="M0.0,0.0 0.5,-0.5 5.4,-6.0 10.4,-11.3 15.3,-16.7 20.2,-22.1 25.2,-27.5 30.1,-32.8 35.1,-38.2 40.0,-43.5 52.2,-56.7 64.4,-69.7 76.6,-82.8 88.8,-95.7 101.0,-108.6 113.2,-117.7 125.4,-122.2 137.6,-124.6 149.8,-127.0 162.0,-130.7 174.2,-136.1 186.4,-140.2 198.6,-143.7 210.8,-147.1 223.0,-151.0 235.2,-158.3 247.4,-170.3 259.6,-187.9 271.8,-210.8 284.0,-272.8 296.2,-338.7 308.4,-359.3 320.6,-372.7 332.8,-386.1 345.0,-399.4 345.0,399.4 332.8,386.1 320.6,372.7 308.4,359.3 296.2,338.7 284.0,272.8 271.8,210.8 259.6,187.9 247.4,170.3 235.2,158.3 223.0,151.0 210.8,147.1 198.6,143.7 186.4,140.2 174.2,136.1 162.0,130.7 149.8,127.0 137.6,124.6 125.4,122.2 113.2,117.7 101.0,108.6 88.8,95.7 76.6,82.8 64.4,69.7 52.2,56.7 40.0,43.5 35.1,38.2 30.1,32.8 25.2,27.5 20.2,22.1 15.3,16.7 10.4,11.3 5.4,6.0 0.5,0.5Z" fill="#9d00fe"/>
<path d="M0.0,0.0 0.5,-0.5 5.4,-5.8 10.4,-11.1 15.3,-16.3 20.2,-21.6 25.2,-26.8 30.1,-32.1 35.1,-37.3 40.0,-42.5 52.2,-55.3 64.4,-68.1 76.6,-80.8 88.8,-93.4 101.0,-106.0 113.2,-115.2 125.4,-120.0 137.6,-122.9 149.8,-125.4 162.0,-129.9 174.2,-135.1 186.4,-139.0 198.6,-142.2 210.8,-145.3 223.0,-149.0 235.2,-155.9 247.4,-167.7 259.6,-185.1 271.8,-207.7 284.0,-263.0 296.2,-319.7 308.4,-337.1 320.6,-349.7 332.8,-362.3 345.0,-374.8 345.0,374.8 332.8,362.3 320.6,349.7 308.4,337.1 296.2,319.7 284.0,263.0 271.8,207.7 259.6,185.1 247.4,167.7 235.2,155.9 223.0,149.0 210.8,145.3 198.6,142.2 186.4,139.0 174.2,135.1 162.0,129.9 149.8,125.4 137.6,122.9 125.4,120.0 113.2,115.2 101.0,106.0 88.8,93.4 76.6,80.8 64.4,68.1 52.2,55.3 40.0,42.5 35.1,37.3 30.1,32.1 25.2,26.8 20.2,21.6 15.3,16.3 10.4,11.1 5.4,5.8 0.5,0.5Z" fill="#9a00fe"/>
<path d="M0.0,0.0 0.5,-0.5 5.4,-5.7 10.4,-10.8 15.3,-16.0 20.2,-21.1 25.2,-26.3 30.1,-31.4 35.1,-36.5 40.0,-41.6 52.2,-54.1 64.4,-66.6 76.6,-79.0 88.8,-91.4 101.0,-103.7 113.2,-112.9 125.4,-118.0 137.6,-121.4 149.8,-124.1 162.0,-129.1 174.2,-134.0 186.4,-137.7 198.6,-140.7 210.8,-143.5 223.0,-146.8 235.2,-153.3 247.4,-165.1 259.6,-182.2 271.8,-204.6 284.0,-229.8 296.2,-305.1 308.4,-320.8 320.6,-332.7 332.8,-344.6 345.0,-279.5 345.0,279.5 332.8,344.6 320.6,332.7 308.4,320.8 296.2,305.1 284.0,229.8 271.8,204.6 259.6,182.2 247.4,165.1 235.2,153.3 223.0,146.8 210.8,143.5 198.6,140.7 186.4,137.7 174.2,134.0 162.0,129.1 149.8,124.1 137.6,121.4 125.4,118.0 113.2,112.9 101.0,103.7 88.8,91.4 76.6,79.0 64.4,66.6 52.2,54.1 40.0,41.6 35.1,36.5 30.1,31.4 25.2,26.3 20.2,21.1 15.3,16.0 10.4,10.8 5.4,5.7 0.5,0.5Z" fill="#9700ff"/>
<path d="M0.0,0.0 0.5,-0.5 5.4,-5.6 10.4,-10.6 15.3,-15.7 20.2,-20.7 25.2,-25.7 30.1,-30.8 35.1,-35.8 40.0,-40.8 52.2,-53.1 64.4,-65.3 76.6,-77.4 88.8,-89.5 101.0,-101.5 113.2,-110.7 125.4,-116.1 137.6,-119.9 149.8,-123.0 162.0,-128.3 174.2,-132.9 186.4,-136.3 198.6,-139.0 210.8,-141.6 223.0,-144.4 235.2,-150.5 247.4,-162.1 259.6,-179.1 271.8,-201.3 284.0,-225.9 296.2,-292.3 308.4,-306.9 320.6,-318.0 332.8,-267.3 345.0,-272.2 345.0,272.2 332.8,267.3 320.6,318.0 308.4,306.9 296.2,292.3 284.0,225.9 271.8,201.3 259.6,179.1 247.4,162.1 235.2,150.5 223.0,144.4 210.8,141.6 198.6,139.0 186.4,136.3 174.2,132.9 162.0,128.3 149.8,123.0 137.6,119.9 125.4,116.1 113.2,110.7 101.0,101.5 88.8,89.5 76.6,77.4 64.4,65.3 52.2,53.1 40.0,40.8 35.1,35.8 30.1,30.8 25.2,25.7 20.2,20.7 15.3,15.7 10.4,10.6 5.4,5.6 0.5,0.5Z" fill="#9201ff"/>
<path d="M0.0,0.0 0.5,-0.5 5.4,-5.5 10.4,-10.4 15.3,-15.4 20.2,-20.3 25.2,-25.3 30.1,-30.2 35.1,-35.1 40.0,-40.0 52.2,-52.1 64.4,-64.1 76.6,-76.0 88.8,-87.8 101.0,-99.6 113.2,-108.7 125.4,-114.3 137.6,-118.4 149.8,-122.0 162.0,-127.4 174.2,-131.7 186.4,-134.9 198.6,-137.4 210.8,-139.7 223.0,-141.8 235.2,-147.5 247.4,-158.7 259.6,-175.9 271.8,-197.9 284.0,-222.5 296.2,-280.2 308.4,-251.8 320.6,-256.1 332.8,-261.6 345.0,-266.7 345.0,266.7 332.8,261.6 320.6,256.1 308.4,251.8 296.2,280.2 284.0,222.5 271.8,197.9 259.6,175.9 247.4,158.7 235.2,147.5 223.0,141.8 210.8,139.7 198.6,137.4 186.4,134.9 174.2,131.7 162.0,127.4 149.8,122.0 137.6,118.4 125.4,114.3 113.2,108.7 101.0,99.6 88.8,87.8 76.6,76.0 64.4,64.1 52.2,52.1 40.0,40.0 35.1,35.1 30.1,30.2 25.2,25.3 20.2,20.3 15.3,15.4 10.4,10.4 5.4,5.5 0.5,0.5Z" fill="#8d01ff"/>
<path d="M0.0,0.0 0.5,-0.5 5.4,-5.4 10.4,-10.3 15.3,-15.1 20.2,-20.0 25.2,-24.8 30.1,-29.7 35.1,-34.5 40.0,-39.3 52.2,-51.2 64.4,-62.9 76.6,-74.6 88.8,-86.2 101.0,-97.7 113.2,-106.8 125.4,-112.6 137.6,-116.8 149.8,-121.2 162.0,-126.6 174.2,-130.5 186.4,-133.5 198.6,-135.7 210.8,-137.4 223.0,-139.2 235.2,-144.7 247.4,-155.2 259.6,-172.5 271.8,-194.4 284.0,-218.9 296.2,-238.2 308.4,-245.3 320.6,-251.1 332.8,-256.3 345.0,-260.5 345.0,260.5 332.8,256.3 320.6,251.1 308.4,245.3 296.2,238.2 284.0,218.9 271.8,194.4 259.6,172.5 247.4,155.2 235.2,144.7 223.0,139.2 210.8,137.4 198.6,135.7 186.4,133.5 174.2,130.5 162.0,126.6 149.8,121.2 137.6,116.8 125.4,112.6 113.2,106.8 101.0,97.7 88.8,86.2 76.6,74.6 64.4,62.9 52.2,51.2 40.0,39.3 35.1,34.5 30.1,29.7 25.2,24.8 20.2,20.0 15.3,15.1 10.4,10.3 5.4,5.4 0.5,0.5Z" fill="#8802ff"/>
<path d="M0.0,0.0 0.5,-0.5 5.4,-5.3 10.4,-10.1 15.3,-14.9 20.2,-19.7 25.2,-24.5 30.1,-29.2 35.1,-34.0 40.0,-38.7 52.2,-50.3 64.4,-61.9 76.6,-73.4 88.8,-84.7 101.0,-96.0 113.2,-105.1 125.4,-111.1 137.6,-115.4 149.8,-120.3 162.0,-125.6 174.2,-129.2 186.4,-132.0 198.6,-133.9 210.8,-135.0 223.0,-136.7 235.2,-142.1 247.4,-151.9 259.6,-168.6 271.8,-190.6 284.0,-214.8 296.2,-233.7 308.4,-240.7 320.6,-246.0 332.8,-250.4 345.0,-254.1 345.0,254.1 332.8,250.4 320.6,246.0 308.4,240.7 296.2,233.7 284.0,214.8 271.8,190.6 259.6,168.6 247.4,151.9 235.2,142.1 223.0,136.7 210.8,135.0 198.6,133.9 186.4,132.0 174.2,129.2 162.0,125.6 149.8,120.3 137.6,115.4 125.4,111.1 113.2,105.1 101.0,96.0 88.8,84.7 76.6,73.4 64.4,61.9 52.2,50.3 40.0,38.7 35.1,34.0 30.1,29.2 25.2,24.5 20.2,19.7 15.3,14.9 10.4,10.1 5.4,5.3 0.5,0.5Z" fill="#8303ff"/>
<path d="M0.0,0.0 0.5,-0.5 5.4,-5.2 10.4,-10.0 15.3,-14.7 20.2,-19.4 25.2,-24.1 30.1,-28.8 35.1,-33.4 40.0,-38.1 52.2,-49.6 64.4,-60.9 76.6,-72.2 88.8,-83.4 101.0,-94.4 113.2,-103.4 125.4,-109.8 137.6,-114.1 149.8,-119.5 162.0,-124.6 174.2,-127.9 186.4,-130.4 198.6,-132.0 210.8,-132.5 223.0,-134.4 235.2,-139.8 247.4,-148.9 259.6,-164.3 271.8,-186.6 284.0,-210.6 296.2,-229.5 308.4,-235.8 320.6,-240.4 332.8,-244.3 345.0,-247.5 345.0,247.5 332.8,244.3 320.6,240.4 308.4,235.8 296.2,229.5 284.0,210.6 271.8,186.6 259.6,164.3 247.4,148.9 235.2,139.8 223.0,134.4 210.8,132.5 198.6,132.0 186.4,130.4 174.2,127.9 162.0,124.6 149.8,119.5 137.6,114.1 125.4,109.8 113.2,103.4 101.0,94.4 88.8,83.4 76.6,72.2 64.4,60.9 52.2,49.6 40.0,38.1 35.1,33.4 30.1,28.8 25.2,24.1 20.2,19.4 15.3,14.7 10.4,10.0 5.4,5.2 0.5,0.5Z" fill="#7d04ff"/>
<path d="M0.0,0.0 0.5,-0.5 5.4,-5.2 10.4,-9.8 15.3,-14.5 20.2,-19.1 25.2,-23.8 30.1,-28.4 35.1,-33.0 40.0,-37.6 52.2,-48.9 64.4,-60.0 76.6,-71.1 88.8,-82.1 101.0,-93.0 113.2,-101.9 125.4,-108.5 137.6,-113.1 149.8,-118.7 162.0,-123.4 174.2,-126.6 186.4,-128.8 198.6,-130.0 210.8,-130.1 223.0,-132.4 235.2,-137.7 247.4,-146.2 259.6,-160.0 271.8,-182.3 284.0,-206.1 296.2,-224.6 308.4,-230.4 320.6,-234.5 332.8,-237.9 345.0,-240.4 345.0,240.4 332.8,237.9 320.6,234.5 308.4,230.4 296.2,224.6 284.0,206.1 271.8,182.3 259.6,160.0 247.4,146.2 235.2,137.7 223.0,132.4 210.8,130.1 198.6,130.0 186.4,128.8 174.2,126.6 162.0,123.4 149.8,118.7 137.6,113.1 125.4,108.5 113.2,101.9 101.0,93.0 88.8,82.1 76.6,71.1 64.4,60.0 52.2,48.9 40.0,37.6 35.1,33.0 30.1,28.4 25.2,23.8 20.2,19.1 15.3,14.5 10.4,9.8 5.4,5.2 0.5,0.5Z" fill="#7805ff"/>
<path d="M0.0,0.0 0.5,-0.5 5.4,-5.1 10.4,-9.7 15.3,-14.3 20.2,-18.9 25.2,-23.5 30.1,-28.0 35.1,-32.6 40.0,-37.1 52.2,-48.2 64.4,-59.2 76.6,-70.2 88.8,-80.9 101.0,-91.6 113.2,-100.5 125.4,-107.1 137.6,-112.2 149.8,-117.9 162.0,-122.3 174.2,-125.2 186.4,-127.2 198.6,-127.7 210.8,-127.9 223.0,-130.5 235.2,-135.7 247.4,-143.8 259.6,-156.2 271.8,-177.5 284.0,-201.4 296.2,-219.5 308.4,-224.8 320.6,-228.3 332.8,-231.0 345.0,-232.7 345.0,232.7 332.8,231.0 320.6,228.3 308.4,224.8 296.2,219.5 284.0,201.4 271.8,177.5 259.6,156.2 247.4,143.8 235.2,135.7 223.0,130.5 210.8,127.9 198.6,127.7 186.4,127.2 174.2,125.2 162.0,122.3 149.8,117.9 137.6,112.2 125.4,107.1 113.2,100.5 101.0,91.6 88.8,80.9 76.6,70.2 64.4,59.2 52.2,48.2 40.0,37.1 35.1,32.6 30.1,28.0 25.2,23.5 20.2,18.9 15.3,14.3 10.4,9.7 5.4,5.1 0.5,0.5Z" fill="#6b0dff"/>
<path d="M0.0,0.0 0.5,-0.5 5.4,-5.0 10.4,-9.6 15.3,-14.1 20.2,-18.7 25.2,-23.2 30.1,-27.7 35.1,-32.2 40.0,-36.6 52.2,-47.6 64.4,-58.5 76.6,-69.2 88.8,-79.8 101.0,-90.3 113.2,-99.4 125.4,-105.8 137.6,-111.3 149.8,-117.1 162.0,-121.1 174.2,-123.8 186.4,-125.4 198.6,-125.3 210.8,-125.9 223.0,-128.7 235.2,-133.8 247.4,-141.5 259.6,-152.9 271.8,-172.0 284.0,-196.3 296.2,-214.1 308.4,-218.9 320.6,-221.7 332.8,-223.5 345.0,-223.8 345.0,223.8 332.8,223.5 320.6,221.7 308.4,218.9 296.2,214.1 284.0,196.3 271.8,172.0 259.6,152.9 247.4,141.5 235.2,133.8 223.0,128.7 210.8,125.9 198.6,125.3 186.4,125.4 174.2,123.8 162.0,121.1 149.8,117.1 137.6,111.3 125.4,105.8 113.2,99.4 101.0,90.3 88.8,79.8 76.6,69.2 64.4,58.5 52.2,47.6 40.0,36.6 35.1,32.2 30.1,27.7 25.2,23.2 20.2,18.7 15.3,14.1 10.4,9.6 5.4,5.0 0.5,0.5Z" fill="#5f15ff"/>
<path d="M0.0,0.0 0.5,-0.5 5.4,-5.0 10.4,-9.5 15.3,-14.0 20.2,-18.5 25.2,-22.9 30.1,-27.4 35.1,-31.8 40.0,-36.2 52.2,-47.1 64.4,-57.8 76.6,-68.4 88.8,-78.9 101.0,-89.3 113.2,-98.3 125.4,-104.6 137.6,-110.6 149.8,-116.2 162.0,-119.9 174.2,-122.3 186.4,-123.6 198.6,-122.9 210.8,-124.0 223.0,-127.0 235.2,-131.9 247.4,-139.3 259.6,-149.9 271.8,-166.5 284.0,-190.9 296.2,-208.3 308.4,-212.4 320.6,-214.4 332.8,-214.8 345.0,-213.6 345.0,213.6 332.8,214.8 320.6,214.4 308.4,212.4 296.2,208.3 284.0,190.9 271.8,166.5 259.6,149.9 247.4,139.3 235.2,131.9 223.0,127.0 210.8,124.0 198.6,122.9 186.4,123.6 174.2,122.3 162.0,119.9 149.8,116.2 137.6,110.6 125.4,104.6 113.2,98.3 101.0,89.3 88.8,78.9 76.6,68.4 64.4,57.8 52.2,47.1 40.0,36.2 35.1,31.8 30.1,27.4 25.2,22.9 20.2,18.5 15.3,14.0 10.4,9.5 5.4,5.0 0.5,0.5Z" fill="#521dff"/>
<path d="M0.0,0.0 0.5,-0.5 5.4,-4.9 10.4,-9.4 15.3,-13.8 20.2,-18.3 25.2,-22.7 30.1,-27.1 35.1,-31.5 40.0,-35.8 52.2,-46.6 64.4,-57.2 76.6,-67.7 88.8,-78.1 101.0,-88.4 113.2,-97.1 125.4,-103.6 137.6,-109.8 149.8,-115.2 162.0,-118.6 174.2,-120.7 186.4,-121.6 198.6,-120.8 210.8,-122.3 223.0,-125.3 235.2,-130.1 247.4,-137.1 259.6,-147.1 271.8,-161.8 284.0,-184.7 296.2,-202.1 308.4,-205.4 320.6,-205.8 332.8,-204.9 345.0,-204.8 345.0,204.8 332.8,204.9 320.6,205.8 308.4,205.4 296.2,202.1 284.0,184.7 271.8,161.8 259.6,147.1 247.4,137.1 235.2,130.1 223.0,125.3 210.8,122.3 198.6,120.8 186.4,121.6 174.2,120.7 162.0,118.6 149.8,115.2 137.6,109.8 125.4,103.6 113.2,97.1 101.0,88.4 88.8,78.1 76.6,67.7 64.4,57.2 52.2,46.6 40.0,35.8 35.1,31.5 30.1,27.1 25.2,22.7 20.2,18.3 15.3,13.8 10.4,9.4 5.4,4.9 0.5,0.5Z" fill="#4525ff"/>
<path d="M0.0,0.0 0.5,-0.4 5.4,-4.9 10.4,-9.3 15.3,-13.7 20.2,-18.1 25.2,-22.5 30.1,-26.8 35.1,-31.2 40.0,-35.5 52.2,-46.2 64.4,-56.7 76.6,-67.2 88.8,-77.4 101.0,-87.5 113.2,-96.0 125.4,-102.7 137.6,-109.0 149.8,-114.1 162.0,-117.3 174.2,-119.1 186.4,-119.3 198.6,-118.8 210.8,-120.7 223.0,-123.7 235.2,-128.3 247.4,-135.0 259.6,-144.4 271.8,-157.8 284.0,-177.5 296.2,-195.2 308.4,-196.9 320.6,-196.4 332.8,-196.7 345.0,-197.7 345.0,197.7 332.8,196.7 320.6,196.4 308.4,196.9 296.2,195.2 284.0,177.5 271.8,157.8 259.6,144.4 247.4,135.0 235.2,128.3 223.0,123.7 210.8,120.7 198.6,118.8 186.4,119.3 174.2,119.1 162.0,117.3 149.8,114.1 137.6,109.0 125.4,102.7 113.2,96.0 101.0,87.5 88.8,77.4 76.6,67.2 64.4,56.7 52.2,46.2 40.0,35.5 35.1,31.2 30.1,26.8 25.2,22.5 20.2,18.1 15.3,13.7 10.4,9.3 5.4,4.9 0.5,0.4Z" fill="#3930ff"/>
<path d="M0.0,0.0 0.5,-0.4 5.4,-4.8 10.4,-9.2 15.3,-13.6 20.2,-18.0 25.2,-22.3 30.1,-26.6 35.1,-31.0 40.0,-35.3 52.2,-45.8 64.4,-56.3 76.6,-66.6 88.8,-76.7 101.0,-86.6 113.2,-94.9 125.4,-101.9 137.6,-108.3 149.8,-112.9 162.0,-115.9 174.2,-117.4 186.4,-117.0 198.6,-117.0 210.8,-119.1 223.0,-122.1 235.2,-126.5 247.4,-132.9 259.6,-141.7 271.8,-154.2 284.0,-170.8 296.2,-186.8 308.4,-188.0 320.6,-188.8 332.8,-190.0 345.0,-191.3 345.0,191.3 332.8,190.0 320.6,188.8 308.4,188.0 296.2,186.8 284.0,170.8 271.8,154.2 259.6,141.7 247.4,132.9 235.2,126.5 223.0,122.1 210.8,119.1 198.6,117.0 186.4,117.0 174.2,117.4 162.0,115.9 149.8,112.9 137.6,108.3 125.4,101.9 113.2,94.9 101.0,86.6 88.8,76.7 76.6,66.6 64.4,56.3 52.2,45.8 40.0,35.3 35.1,31.0 30.1,26.6 25.2,22.3 20.2,18.0 15.3,13.6 10.4,9.2 5.4,4.8 0.5,0.4Z" fill="#2c3dff"/>
<path d="M0.0,0.0 0.5,-0.4 5.4,-4.8 10.4,-9.2 15.3,-13.5 20.2,-17.8 25.2,-22.2 30.1,-26.5 35.1,-30.8 40.0,-35.0 52.2,-45.5 64.4,-55.9 76.6,-66.1 88.8,-76.0 101.0,-85.7 113.2,-94.0 125.4,-101.1 137.6,-107.4 149.8,-111.8 162.0,-114.5 174.2,-115.6 186.4,-114.7 198.6,-115.4 210.8,-117.5 223.0,-120.5 235.2,-124.7 247.4,-130.7 259.6,-139.1 271.8,-150.7 284.0,-165.5 296.2,-178.6 308.4,-180.8 320.6,-182.4 332.8,-183.9 345.0,-185.0 345.0,185.0 332.8,183.9 320.6,182.4 308.4,180.8 296.2,178.6 284.0,165.5 271.8,150.7 259.6,139.1 247.4,130.7 235.2,124.7 223.0,120.5 210.8,117.5 198.6,115.4 186.4,114.7 174.2,115.6 162.0,114.5 149.8,111.8 137.6,107.4 125.4,101.1 113.2,94.0 101.0,85.7 88.8,76.0 76.6,66.1 64.4,55.9 52.2,45.5 40.0,35.0 35.1,30.8 30.1,26.5 25.2,22.2 20.2,17.8 15.3,13.5 10.4,9.2 5.4,4.8 0.5,0.4Z" fill="#1f4aff"/>
<path d="M0.0,0.0 0.5,-0.4 5.4,-4.8 10.4,-9.1 15.3,-13.4 20.2,-17.7 25.2,-22.0 30.1,-26.3 35.1,-30.6 40.0,-34.8 52.2,-45.2 64.4,-55.5 76.6,-65.5 88.8,-75.4 101.0,-84.8 113.2,-93.2 125.4,-100.4 137.6,-106.6 149.8,-110.6 162.0,-113.0 174.2,-113.7 186.4,-112.7 198.6,-113.8 210.8,-116.0 223.0,-118.9 235.2,-122.9 247.4,-128.5 259.6,-136.4 271.8,-147.3 284.0,-160.7 296.2,-172.2 308.4,-174.8 320.6,-176.5 332.8,-177.8 345.0,-178.7 345.0,178.7 332.8,177.8 320.6,176.5 308.4,174.8 296.2,172.2 284.0,160.7 271.8,147.3 259.6,136.4 247.4,128.5 235.2,122.9 223.0,118.9 210.8,116.0 198.6,113.8 186.4,112.7 174.2,113.7 162.0,113.0 149.8,110.6 137.6,106.6 125.4,100.4 113.2,93.2 101.0,84.8 88.8,75.4 76.6,65.5 64.4,55.5 52.2,45.2 40.0,34.8 35.1,30.6 30.1,26.3 25.2,22.0 20.2,17.7 15.3,13.4 10.4,9.1 5.4,4.8 0.5,0.4Z" fill="#1257ff"/>
<path d="M0.0,0.0 0.5,-0.4 5.4,-4.8 10.4,-9.1 15.3,-13.4 20.2,-17.6 25.2,-21.9 30.1,-26.1 35.1,-30.4 40.0,-34.6 52.2,-44.9 64.4,-55.1 76.6,-65.0 88.8,-74.7 101.0,-84.1 113.2,-92.4 125.4,-99.7 137.6,-105.5 149.8,-109.3 162.0,-111.4 174.2,-111.5 186.4,-110.8 198.6,-112.2 210.8,-114.5 223.0,-117.3 235.2,-121.0 247.4,-126.3 259.6,-133.6 271.8,-143.8 284.0,-156.3 296.2,-166.6 308.4,-169.2 320.6,-170.7 332.8,-171.7 345.0,-171.7 345.0,171.7 332.8,171.7 320.6,170.7 308.4,169.2 296.2,166.6 284.0,156.3 271.8,143.8 259.6,133.6 247.4,126.3 235.2,121.0 223.0,117.3 210.8,114.5 198.6,112.2 186.4,110.8 174.2,111.5 162.0,111.4 149.8,109.3 137.6,105.5 125.4,99.7 113.2,92.4 101.0,84.1 88.8,74.7 76.6,65.0 64.4,55.1 52.2,44.9 40.0,34.6 35.1,30.4 30.1,26.1 25.2,21.9 20.2,17.6 15.3,13.4 10.4,9.1 5.4,4.8 0.5,0.4Z" fill="#0963ff"/>
<path d="M0.0,0.0 0.5,-0.4 5.4,-4.7 10.4,-9.0 15.3,-13.3 20.2,-17.5 25.2,-21.8 30.1,-26.0 35.1,-30.2 40.0,-34.4 52.2,-44.6 64.4,-54.7 76.6,-64.5 88.8,-74.1 101.0,-83.4 113.2,-91.7 125.4,-99.0 137.6,-104.5 149.8,-108.0 162.0,-109.8 174.2,-109.2 186.4,-109.2 198.6,-110.8 210.8,-113.0 223.0,-115.6 235.2,-119.1 247.4,-123.9 259.6,-130.7 271.8,-140.3 284.0,-151.8 296.2,-161.3 308.4,-163.6 320.6,-164.7 332.8,-164.9 345.0,-164.3 345.0,164.3 332.8,164.9 320.6,164.7 308.4,163.6 296.2,161.3 284.0,151.8 271.8,140.3 259.6,130.7 247.4,123.9 235.2,119.1 223.0,115.6 210.8,113.0 198.6,110.8 186.4,109.2 174.2,109.2 162.0,109.8 149.8,108.0 137.6,104.5 125.4,99.0 113.2,91.7 101.0,83.4 88.8,74.1 76.6,64.5 64.4,54.7 52.2,44.6 40.0,34.4 35.1,30.2 30.1,26.0 25.2,21.8 20.2,17.5 15.3,13.3 10.4,9.0 5.4,4.7 0.5,0.4Z" fill="#076fff"/>
<path d="M0.0,0.0 0.5,-0.4 5.4,-4.7 10.4,-9.0 15.3,-13.2 20.2,-17.4 25.2,-21.7 30.1,-25.9 35.1,-30.0 40.0,-34.2 52.2,-44.4 64.4,-54.3 76.6,-64.1 88.8,-73.5 101.0,-82.7 113.2,-91.0 125.4,-98.2 137.6,-103.4 149.8,-106.6 162.0,-108.1 174.2,-107.0 186.4,-107.6 198.6,-109.3 210.8,-111.4 223.0,-113.9 235.2,-117.0 247.4,-121.3 259.6,-127.6 271.8,-136.5 284.0,-147.3 296.2,-156.0 308.4,-157.8 320.6,-158.1 332.8,-157.7 345.0,-156.6 345.0,156.6 332.8,157.7 320.6,158.1 308.4,157.8 296.2,156.0 284.0,147.3 271.8,136.5 259.6,127.6 247.4,121.3 235.2,117.0 223.0,113.9 210.8,111.4 198.6,109.3 186.4,107.6 174.2,107.0 162.0,108.1 149.8,106.6 137.6,103.4 125.4,98.2 113.2,91.0 101.0,82.7 88.8,73.5 76.6,64.1 64.4,54.3 52.2,44.4 40.0,34.2 35.1,30.0 30.1,25.9 25.2,21.7 20.2,17.4 15.3,13.2 10.4,9.0 5.4,4.7 0.5,0.4Z" fill="#057aff"/>
<path d="M0.0,0.0 0.5,-0.4 5.4,-4.7 10.4,-8.9 15.3,-13.1 20.2,-17.4 25.2,-21.5 30.1,-25.7 35.1,-29.9 40.0,-34.0 52.2,-44.1 64.4,-54.0 76.6,-63.6 88.8,-73.0 101.0,-82.1 113.2,-90.4 125.4,-97.4 137.6,-102.2 149.8,-105.2 162.0,-106.2 174.2,-105.0 186.4,-106.1 198.6,-107.8 210.8,-109.9 223.0,-112.1 235.2,-114.9 247.4,-118.8 259.6,-124.4 271.8,-132.4 284.0,-142.4 296.2,-150.4 308.4,-151.4 320.6,-151.2 332.8,-150.2 345.0,-148.5 345.0,148.5 332.8,150.2 320.6,151.2 308.4,151.4 296.2,150.4 284.0,142.4 271.8,132.4 259.6,124.4 247.4,118.8 235.2,114.9 223.0,112.1 210.8,109.9 198.6,107.8 186.4,106.1 174.2,105.0 162.0,106.2 149.8,105.2 137.6,102.2 125.4,97.4 113.2,90.4 101.0,82.1 88.8,73.0 76.6,63.6 64.4,54.0 52.2,44.1 40.0,34.0 35.1,29.9 30.1,25.7 25.2,21.5 20.2,17.4 15.3,13.1 10.4,8.9 5.4,4.7 0.5,0.4Z" fill="#0386ff"/>
<path d="M0.0,0.0 0.5,-0.4 5.4,-4.7 10.4,-8.9 15.3,-13.1 20.2,-17.3 25.2,-21.4 30.1,-25.6 35.1,-29.7 40.0,-33.8 52.2,-43.8 64.4,-53.6 76.6,-63.2 88.8,-72.5 101.0,-81.5 113.2,-89.7 125.4,-96.5 137.6,-101.0 149.8,-103.7 162.0,-104.1 174.2,-103.3 186.4,-104.6 198.6,-106.4 210.8,-108.3 223.0,-110.2 235.2,-112.7 247.4,-116.2 259.6,-121.2 271.8,-128.3 284.0,-137.2 296.2,-144.2 308.4,-144.7 320.6,-143.9 332.8,-142.4 345.0,-139.9 345.0,139.9 332.8,142.4 320.6,143.9 308.4,144.7 296.2,144.2 284.0,137.2 271.8,128.3 259.6,121.2 247.4,116.2 235.2,112.7 223.0,110.2 210.8,108.3 198.6,106.4 186.4,104.6 174.2,103.3 162.0,104.1 149.8,103.7 137.6,101.0 125.4,96.5 113.2,89.7 101.0,81.5 88.8,72.5 76.6,63.2 64.4,53.6 52.2,43.8 40.0,33.8 35.1,29.7 30.1,25.6 25.2,21.4 20.2,17.3 15.3,13.1 10.4,8.9 5.4,4.7 0.5,0.4Z" fill="#0192ff"/>
<path d="M0.0,0.0 0.5,-0.4 5.4,-4.6 10.4,-8.8 15.3,-13.0 20.2,-17.2 25.2,-21.3 30.1,-25.4 35.1,-29.5 40.0,-33.6 52.2,-43.6 64.4,-53.3 76.6,-62.8 88.8,-72.0 101.0,-81.0 113.2,-89.1 125.4,-95.5 137.6,-99.8 149.8,-102.1 162.0,-101.9 174.2,-101.7 186.4,-103.2 198.6,-104.9 210.8,-106.6 223.0,-108.3 235.2,-110.5 247.4,-113.6 259.6,-117.9 271.8,-124.1 284.0,-131.8 296.2,-137.8 308.4,-137.7 320.6,-136.3 332.8,-134.0 345.0,-130.7 345.0,130.7 332.8,134.0 320.6,136.3 308.4,137.7 296.2,137.8 284.0,131.8 271.8,124.1 259.6,117.9 247.4,113.6 235.2,110.5 223.0,108.3 210.8,106.6 198.6,104.9 186.4,103.2 174.2,101.7 162.0,101.9 149.8,102.1 137.6,99.8 125.4,95.5 113.2,89.1 101.0,81.0 88.8,72.0 76.6,62.8 64.4,53.3 52.2,43.6 40.0,33.6 35.1,29.5 30.1,25.4 25.2,21.3 20.2,17.2 15.3,13.0 10.4,8.8 5.4,4.6 0.5,0.4Z" fill="#009bff"/>
<path d="M0.0,0.0 0.5,-0.4 5.4,-4.6 10.4,-8.8 15.3,-13.0 20.2,-17.1 25.2,-21.2 30.1,-25.3 35.1,-29.4 40.0,-33.4 52.2,-43.3 64.4,-53.0 76.6,-62.4 88.8,-71.5 101.0,-80.4 113.2,-88.4 125.4,-94.4 137.6,-98.5 149.8,-100.5 162.0,-99.7 174.2,-100.1 186.4,-101.8 198.6,-103.4 210.8,-104.8 223.0,-106.4 235.2,-108.3 247.4,-110.9 259.6,-114.5 271.8,-119.7 284.0,-126.2 296.2,-131.1 308.4,-130.3 320.6,-128.2 332.8,-125.1 345.0,-120.9 345.0,120.9 332.8,125.1 320.6,128.2 308.4,130.3 296.2,131.1 284.0,126.2 271.8,119.7 259.6,114.5 247.4,110.9 235.2,108.3 223.0,106.4 210.8,104.8 198.6,103.4 186.4,101.8 174.2,100.1 162.0,99.7 149.8,100.5 137.6,98.5 125.4,94.4 113.2,88.4 101.0,80.4 88.8,71.5 76.6,62.4 64.4,53.0 52.2,43.3 40.0,33.4 35.1,29.4 30.1,25.3 25.2,21.2 20.2,17.1 15.3,13.0 10.4,8.8 5.4,4.6 0.5,0.4Z" fill="#00a3ff"/>
<path d="M0.0,0.0 0.5,-0.4 5.4,-4.6 10.4,-8.8 15.3,-12.9 20.2,-17.0 25.2,-21.1 30.1,-25.2 35.1,-29.2 40.0,-33.3 52.2,-43.1 64.4,-52.6 76.6,-62.0 88.8,-71.1 101.0,-79.8 113.2,-87.6 125.4,-93.3 137.6,-97.1 149.8,-98.8 162.0,-97.8 174.2,-98.7 186.4,-100.4 198.6,-101.8 210.8,-103.0 223.0,-104.4 235.2,-106.1 247.4,-108.1 259.6,-111.0 271.8,-115.1 284.0,-120.3 296.2,-124.0 308.4,-122.5 320.6,-119.5 332.8,-115.6 345.0,-110.3 345.0,110.3 332.8,115.6 320.6,119.5 308.4,122.5 296.2,124.0 284.0,120.3 271.8,115.1 259.6,111.0 247.4,108.1 235.2,106.1 223.0,104.4 210.8,103.0 198.6,101.8 186.4,100.4 174.2,98.7 162.0,97.8 149.8,98.8 137.6,97.1 125.4,93.3 113.2,87.6 101.0,79.8 88.8,71.1 76.6,62.0 64.4,52.6 52.2,43.1 40.0,33.3 35.1,29.2 30.1,25.2 25.2,21.1 20.2,17.0 15.3,12.9 10.4,8.8 5.4,4.6 0.5,0.4Z" fill="#00acff"/>
<path d="M0.0,0.0 0.5,-0.4 5.4,-4.6 10.4,-8.7 15.3,-12.8 20.2,-16.9 25.2,-21.0 30.1,-25.1 35.1,-29.1 40.0,-33.1 52.2,-42.8 64.4,-52.3 76.6,-61.6 88.8,-70.6 101.0,-79.2 113.2,-86.7 125.4,-92.2 137.6,-95.7 149.8,-96.8 162.0,-96.0 174.2,-97.3 186.4,-98.9 198.6,-100.2 210.8,-101.2 223.0,-102.4 235.2,-103.7 247.4,-105.3 259.6,-107.3 271.8,-110.3 284.0,-114.1 296.2,-116.4 308.4,-114.1 320.6,-110.3 332.8,-105.2 345.0,-98.3 345.0,98.3 332.8,105.2 320.6,110.3 308.4,114.1 296.2,116.4 284.0,114.1 271.8,110.3 259.6,107.3 247.4,105.3 235.2,103.7 223.0,102.4 210.8,101.2 198.6,100.2 186.4,98.9 174.2,97.3 162.0,96.0 149.8,96.8 137.6,95.7 125.4,92.2 113.2,86.7 101.0,79.2 88.8,70.6 76.6,61.6 64.4,52.3 52.2,42.8 40.0,33.1 35.1,29.1 30.1,25.1 25.2,21.0 20.2,16.9 15.3,12.8 10.4,8.7 5.4,4.6 0.5,0.4Z" fill="#00b4ff"/>
<path d="M0.0,0.0 0.5,-0.4 5.4,-4.6 10.4,-8.7 15.3,-12.8 20.2,-16.9 25.2,-20.9 30.1,-24.9 35.1,-28.9 40.0,-32.9 52.2,-42.6 64.4,-52.0 76.6,-61.2 88.8,-70.1 101.0,-78.6 113.2,-85.7 125.4,-91.0 137.6,-94.2 149.8,-94.6 162.0,-94.4 174.2,-95.9 186.4,-97.5 198.6,-98.5 210.8,-99.4 223.0,-100.4 235.2,-101.4 247.4,-102.3 259.6,-103.5 271.8,-105.3 284.0,-107.5 296.2,-108.4 308.4,-105.2 320.6,-100.2 332.8,-93.5 345.0,-85.0 345.0,85.0 332.8,93.5 320.6,100.2 308.4,105.2 296.2,108.4 284.0,107.5 271.8,105.3 259.6,103.5 247.4,102.3 235.2,101.4 223.0,100.4 210.8,99.4 198.6,98.5 186.4,97.5 174.2,95.9 162.0,94.4 149.8,94.6 137.6,94.2 125.4,91.0 113.2,85.7 101.0,78.6 88.8,70.1 76.6,61.2 64.4,52.0 52.2,42.6 40.0,32.9 35.1,28.9 30.1,24.9 25.2,20.9 20.2,16.9 15.3,12.8 10.4,8.7 5.4,4.6 0.5,0.4Z" fill="#00b3ff"/>
<path d="M0.0,0.0 0.5,-0.4 5.4,-4.5 10.4,-8.6 15.3,-12.7 20.2,-16.8 25.2,-20.8 30.1,-24.8 35.1,-28.8 40.0,-32.7 52.2,-42.3 64.4,-51.7 76.6,-60.8 88.8,-69.6 101.0,-77.8 113.2,-84.8 125.4,-89.8 137.6,-92.7 149.8,-92.5 162.0,-93.0 174.2,-94.5 186.4,-96.0 198.6,-96.8 210.8,-97.5 223.0,-98.3 235.2,-99.0 247.4,-99.3 259.6,-99.6 271.8,-100.0 284.0,-100.6 296.2,-99.8 308.4,-95.3 320.6,-88.8 332.8,-80.5 345.0,-68.8 345.0,68.8 332.8,80.5 320.6,88.8 308.4,95.3 296.2,99.8 284.0,100.6 271.8,100.0 259.6,99.6 247.4,99.3 235.2,99.0 223.0,98.3 210.8,97.5 198.6,96.8 186.4,96.0 174.2,94.5 162.0,93.0 149.8,92.5 137.6,92.7 125.4,89.8 113.2,84.8 101.0,77.8 88.8,69.6 76.6,60.8 64.4,51.7 52.2,42.3 40.0,32.7 35.1,28.8 30.1,24.8 25.2,20.8 20.2,16.8 15.3,12.7 10.4,8.6 5.4,4.5 0.5,0.4Z" fill="#00bfff"/>
<path d="M0.0,0.0 0.5,-0.4 5.4,-4.5 10.4,-8.6 15.3,-12.7 20.2,-16.7 25.2,-20.7 30.1,-24.7 35.1,-28.6 40.0,-32.6 52.2,-42.1 64.4,-51.4 76.6,-60.4 88.8,-69.0 101.0,-77.0 113.2,-83.7 125.4,-88.5 137.6,-91.0 149.8,-90.5 162.0,-91.5 174.2,-93.1 186.4,-94.4 198.6,-95.0 210.8,-95.6 223.0,-96.2 235.2,-96.4 247.4,-96.2 259.6,-95.5 271.8,-94.6 284.0,-93.2 296.2,-90.3 308.4,-84.2 320.6,-76.1 332.8,-64.5 345.0,-48.3 345.0,48.3 332.8,64.5 320.6,76.1 308.4,84.2 296.2,90.3 284.0,93.2 271.8,94.6 259.6,95.5 247.4,96.2 235.2,96.4 223.0,96.2 210.8,95.6 198.6,95.0 186.4,94.4 174.2,93.1 162.0,91.5 149.8,90.5 137.6,91.0 125.4,88.5 113.2,83.7 101.0,77.0 88.8,69.0 76.6,60.4 64.4,51.4 52.2,42.1 40.0,32.6 35.1,28.6 30.1,24.7 25.2,20.7 20.2,16.7 15.3,12.7 10.4,8.6 5.4,4.5 0.5,0.4Z" fill="#00cbff"/>
<path d="M0.0,0.0 0.5,-0.4 5.4,-4.5 10.4,-8.6 15.3,-12.6 20.2,-16.6 25.2,-20.6 30.1,-24.6 35.1,-28.5 40.0,-32.4 52.2,-41.8 64.3,-51.0 76.5,-59.9 88.6,-68.3 100.8,-76.0 112.9,-82.6 125.1,-87.1 137.3,-89.1 149.4,-88.8 161.6,-90.1 173.7,-91.6 185.9,-92.8 198.1,-93.2 210.2,-93.6 222.4,-94.0 234.5,-93.9 246.7,-93.0 258.8,-91.4 271.0,-89.0 283.2,-85.3 295.3,-80.1 307.5,-72.5 319.6,-61.3 331.8,-45.7 344.0,-0.0 344.0,0.0 331.8,45.7 319.6,61.3 307.5,72.5 295.3,80.1 283.2,85.3 271.0,89.0 258.8,91.4 246.7,93.0 234.5,93.9 222.4,94.0 210.2,93.6 198.1,93.2 185.9,92.8 173.7,91.6 161.6,90.1 149.4,88.8 137.3,89.1 125.1,87.1 112.9,82.6 100.8,76.0 88.6,68.3 76.5,59.9 64.3,51.0 52.2,41.8 40.0,32.4 35.1,28.5 30.1,24.6 25.2,20.6 20.2,16.6 15.3,12.6 10.4,8.6 5.4,4.5 0.5,0.4Z" fill="#00d7ff"/>
<path d="M0.0,0.0 0.5,-0.4 5.4,-4.5 10.4,-8.5 15.3,-12.5 20.2,-16.5 25.2,-20.5 30.1,-24.4 35.1,-28.3 40.0,-32.2 51.8,-41.3 63.6,-50.1 75.3,-58.6 87.1,-66.5 98.9,-74.0 110.7,-80.4 122.4,-84.9 134.2,-87.1 146.0,-86.9 157.8,-88.2 169.5,-89.7 181.3,-90.8 193.1,-91.3 204.9,-91.5 216.6,-91.7 228.4,-91.7 240.2,-90.8 252.0,-89.2 263.8,-86.5 275.5,-82.4 287.3,-76.8 299.1,-69.4 310.9,-58.6 322.6,-43.8 334.4,-0.0 334.4,0.0 322.6,43.8 310.9,58.6 299.1,69.4 287.3,76.8 275.5,82.4 263.8,86.5 252.0,89.2 240.2,90.8 228.4,91.7 216.6,91.7 204.9,91.5 193.1,91.3 181.3,90.8 169.5,89.7 157.8,88.2 146.0,86.9 134.2,87.1 122.4,84.9 110.7,80.4 98.9,74.0 87.1,66.5 75.3,58.6 63.6,50.1 51.8,41.3 40.0,32.2 35.1,28.3 30.1,24.4 25.2,20.5 20.2,16.5 15.3,12.5 10.4,8.5 5.4,4.5 0.5,0.4Z" fill="#00e3ff"/>
<path d="M0.0,0.0 0.5,-0.4 5.4,-4.5 10.4,-8.5 15.3,-12.5 20.2,-16.5 25.2,-20.4 30.1,-24.3 35.1,-28.2 40.0,-32.0 51.6,-40.9 63.1,-49.4 74.7,-57.6 86.2,-65.3 97.8,-72.4 109.3,-78.7 120.9,-83.1 132.5,-85.0 144.0,-85.2 155.6,-86.6 167.1,-88.1 178.7,-89.0 190.3,-89.5 201.8,-89.6 213.4,-89.6 224.9,-89.4 236.5,-88.6 248.0,-87.0 259.6,-84.3 271.2,-80.3 282.7,-74.9 294.3,-67.7 305.8,-57.2 317.4,-42.7 329.0,-0.0 329.0,0.0 317.4,42.7 305.8,57.2 294.3,67.7 282.7,74.9 271.2,80.3 259.6,84.3 248.0,87.0 236.5,88.6 224.9,89.4 213.4,89.6 201.8,89.6 190.3,89.5 178.7,89.0 167.1,88.1 155.6,86.6 144.0,85.2 132.5,85.0 120.9,83.1 109.3,78.7 97.8,72.4 86.2,65.3 74.7,57.6 63.1,49.4 51.6,40.9 40.0,32.0 35.1,28.2 30.1,24.3 25.2,20.4 20.2,16.5 15.3,12.5 10.4,8.5 5.4,4.5 0.5,0.4Z" fill="#00efff"/>
<path d="M0.0,0.0 0.5,-0.4 5.4,-4.4 10.4,-8.4 15.3,-12.4 20.2,-16.4 25.2,-20.3 30.1,-24.2 35.1,-28.0 40.0,-31.8 51.3,-40.4 62.7,-48.7 74.0,-56.6 85.4,-64.0 96.7,-70.9 108.0,-76.9 119.4,-81.2 130.7,-82.9 142.1,-83.4 153.4,-84.9 164.7,-86.4 176.1,-87.3 187.4,-87.7 198.8,-87.7 210.1,-87.5 221.4,-87.2 232.8,-86.4 244.1,-84.8 255.5,-82.2 266.8,-78.2 278.1,-73.0 289.5,-66.0 300.8,-55.7 312.2,-41.6 323.5,-0.0 323.5,0.0 312.2,41.6 300.8,55.7 289.5,66.0 278.1,73.0 266.8,78.2 255.5,82.2 244.1,84.8 232.8,86.4 221.4,87.2 210.1,87.5 198.8,87.7 187.4,87.7 176.1,87.3 164.7,86.4 153.4,84.9 142.1,83.4 130.7,82.9 119.4,81.2 108.0,76.9 96.7,70.9 85.4,64.0 74.0,56.6 62.7,48.7 51.3,40.4 40.0,31.8 35.1,28.0 30.1,24.2 25.2,20.3 20.2,16.4 15.3,12.4 10.4,8.4 5.4,4.4 0.5,0.4Z" fill="#00fbff"/>
<path d="M0.0,0.0 0.5,-0.4 5.4,-4.4 10.4,-8.4 15.3,-12.4 20.2,-16.3 25.2,-20.2 30.1,-24.1 35.1,-27.9 40.0,-31.7 51.1,-40.0 62.2,-48.0 73.4,-55.5 84.5,-62.7 95.6,-69.3 106.7,-75.1 117.9,-79.3 129.0,-80.9 140.1,-81.7 151.2,-83.3 162.3,-84.7 173.5,-85.5 184.6,-85.9 195.7,-85.8 206.8,-85.5 217.9,-85.0 229.1,-84.2 240.2,-82.6 251.3,-80.1 262.4,-76.2 273.6,-71.1 284.7,-64.2 295.8,-54.2 306.9,-40.5 318.0,-0.0 318.0,0.0 306.9,40.5 295.8,54.2 284.7,64.2 273.6,71.1 262.4,76.2 251.3,80.1 240.2,82.6 229.1,84.2 217.9,85.0 206.8,85.5 195.7,85.8 184.6,85.9 173.5,85.5 162.3,84.7 151.2,83.3 140.1,81.7 129.0,80.9 117.9,79.3 106.7,75.1 95.6,69.3 84.5,62.7 73.4,55.5 62.2,48.0 51.1,40.0 40.0,31.7 35.1,27.9 30.1,24.1 25.2,20.2 20.2,16.3 15.3,12.4 10.4,8.4 5.4,4.4 0.5,0.4Z" fill="#00fff1"/>
<path d="M0.0,0.0 0.5,-0.4 5.4,-4.4 10.4,-8.4 15.3,-12.3 20.2,-16.2 25.2,-20.1 30.1,-23.9 35.1,-27.7 40.0,-31.5 50.9,-39.5 61.8,-47.2 72.7,-54.5 83.6,-61.4 94.5,-67.7 105.4,-73.3 116.3,-77.4 127.2,-78.8 138.1,-80.0 149.0,-81.7 159.9,-83.1 170.8,-83.8 181.7,-84.1 192.6,-84.0 203.6,-83.5 214.5,-82.8 225.4,-82.0 236.3,-80.5 247.2,-78.0 258.1,-74.2 269.0,-69.2 279.9,-62.5 290.8,-52.8 301.7,-39.5 312.6,-0.0 312.6,0.0 301.7,39.5 290.8,52.8 279.9,62.5 269.0,69.2 258.1,74.2 247.2,78.0 236.3,80.5 225.4,82.0 214.5,82.8 203.6,83.5 192.6,84.0 181.7,84.1 170.8,83.8 159.9,83.1 149.0,81.7 138.1,80.0 127.2,78.8 116.3,77.4 105.4,73.3 94.5,67.7 83.6,61.4 72.7,54.5 61.8,47.2 50.9,39.5 40.0,31.5 35.1,27.7 30.1,23.9 25.2,20.1 20.2,16.2 15.3,12.3 10.4,8.4 5.4,4.4 0.5,0.4Z" fill="#00ffdd"/>
<path d="M0.0,0.0 0.5,-0.4 5.4,-4.4 10.4,-8.3 15.3,-12.2 20.2,-16.1 25.2,-20.0 30.1,-23.8 35.1,-27.5 40.0,-31.2 50.7,-39.0 61.4,-46.4 72.1,-53.5 82.7,-60.0 93.4,-66.1 104.1,-71.5 114.8,-75.4 125.5,-76.8 136.2,-78.3 146.9,-80.0 157.5,-81.4 168.2,-82.0 178.9,-82.3 189.6,-82.2 200.3,-81.6 211.0,-80.8 221.6,-79.9 232.3,-78.4 243.0,-75.9 253.7,-72.2 264.4,-67.4 275.1,-60.9 285.8,-51.3 296.4,-38.4 307.1,-0.0 307.1,0.0 296.4,38.4 285.8,51.3 275.1,60.9 264.4,67.4 253.7,72.2 243.0,75.9 232.3,78.4 221.6,79.9 211.0,80.8 200.3,81.6 189.6,82.2 178.9,82.3 168.2,82.0 157.5,81.4 146.9,80.0 136.2,78.3 125.5,76.8 114.8,75.4 104.1,71.5 93.4,66.1 82.7,60.0 72.1,53.5 61.4,46.4 50.7,39.0 40.0,31.2 35.1,27.5 30.1,23.8 25.2,20.0 20.2,16.1 15.3,12.2 10.4,8.3 5.4,4.4 0.5,0.4Z" fill="#00ffc9"/>
<path d="M0.0,0.0 0.5,-0.4 5.4,-4.4 10.4,-8.3 15.3,-12.2 20.2,-16.0 25.2,-19.8 30.1,-23.6 35.1,-27.3 40.0,-31.0 50.5,-38.5 60.9,-45.6 71.4,-52.4 81.9,-58.7 92.3,-64.5 102.8,-69.7 113.3,-73.3 123.7,-74.8 134.2,-76.6 144.7,-78.4 155.1,-79.7 165.6,-80.3 176.1,-80.5 186.5,-80.4 197.0,-79.8 207.5,-78.8 217.9,-77.7 228.4,-76.2 238.9,-73.8 249.3,-70.2 259.8,-65.5 270.3,-59.2 280.7,-49.9 291.2,-37.4 301.7,-0.0 301.7,0.0 291.2,37.4 280.7,49.9 270.3,59.2 259.8,65.5 249.3,70.2 238.9,73.8 228.4,76.2 217.9,77.7 207.5,78.8 197.0,79.8 186.5,80.4 176.1,80.5 165.6,80.3 155.1,79.7 144.7,78.4 134.2,76.6 123.7,74.8 113.3,73.3 102.8,69.7 92.3,64.5 81.9,58.7 71.4,52.4 60.9,45.6 50.5,38.5 40.0,31.0 35.1,27.3 30.1,23.6 25.2,19.8 20.2,16.0 15.3,12.2 10.4,8.3 5.4,4.4 0.5,0.4Z" fill="#00ffb5"/>
<path d="M0.0,0.0 0.5,-0.4 5.4,-4.3 10.4,-8.2 15.3,-12.1 20.2,-15.9 25.2,-19.7 30.1,-23.5 35.1,-27.1 40.0,-30.7 50.2,-37.9 60.5,-44.8 70.7,-51.3 81.0,-57.3 91.2,-62.9 101.5,-67.8 111.7,-71.1 122.0,-72.9 132.2,-74.9 142.5,-76.7 152.7,-78.0 163.0,-78.6 173.2,-78.7 183.5,-78.6 193.7,-77.9 204.0,-76.9 214.2,-75.7 224.5,-74.1 234.7,-71.8 245.0,-68.3 255.2,-63.7 265.5,-57.5 275.7,-48.5 286.0,-36.3 296.2,-0.0 296.2,0.0 286.0,36.3 275.7,48.5 265.5,57.5 255.2,63.7 245.0,68.3 234.7,71.8 224.5,74.1 214.2,75.7 204.0,76.9 193.7,77.9 183.5,78.6 173.2,78.7 163.0,78.6 152.7,78.0 142.5,76.7 132.2,74.9 122.0,72.9 111.7,71.1 101.5,67.8 91.2,62.9 81.0,57.3 70.7,51.3 60.5,44.8 50.2,37.9 40.0,30.7 35.1,27.1 30.1,23.5 25.2,19.7 20.2,15.9 15.3,12.1 10.4,8.2 5.4,4.3 0.5,0.4Z" fill="#00ffa0"/>
<path d="M0.0,0.0 0.5,-0.4 5.4,-4.3 10.4,-8.2 15.3,-12.0 20.2,-15.8 25.2,-19.6 30.1,-23.3 35.1,-26.9 40.0,-30.4 50.0,-37.4 60.1,-44.0 70.1,-50.2 80.1,-56.0 90.2,-61.2 100.2,-65.8 110.2,-68.9 120.2,-71.1 130.3,-73.2 140.3,-75.1 150.3,-76.3 160.4,-76.8 170.4,-77.0 180.4,-76.8 190.5,-76.2 200.5,-75.0 210.5,-73.7 220.6,-72.1 230.6,-69.7 240.6,-66.3 250.6,-61.9 260.7,-55.9 270.7,-47.2 280.7,-35.3 290.8,-0.0 290.8,0.0 280.7,35.3 270.7,47.2 260.7,55.9 250.6,61.9 240.6,66.3 230.6,69.7 220.6,72.1 210.5,73.7 200.5,75.0 190.5,76.2 180.4,76.8 170.4,77.0 160.4,76.8 150.3,76.3 140.3,75.1 130.3,73.2 120.2,71.1 110.2,68.9 100.2,65.8 90.2,61.2 80.1,56.0 70.1,50.2 60.1,44.0 50.0,37.4 40.0,30.4 35.1,26.9 30.1,23.3 25.2,19.6 20.2,15.8 15.3,12.0 10.4,8.2 5.4,4.3 0.5,0.4Z" fill="#00ff8c"/>
<path d="M0.0,0.0 0.5,-0.4 5.4,-4.3 10.4,-8.1 15.3,-12.0 20.2,-15.7 25.2,-19.4 30.1,-23.0 35.1,-26.6 40.0,-30.1 49.8,-36.8 59.6,-43.1 69.4,-49.1 79.2,-54.6 89.1,-59.5 98.9,-63.7 108.7,-66.8 118.5,-69.3 128.3,-71.5 138.1,-73.4 147.9,-74.6 157.7,-75.1 167.6,-75.2 177.4,-75.0 187.2,-74.4 197.0,-73.2 206.8,-71.8 216.6,-70.0 226.4,-67.7 236.2,-64.4 246.1,-60.1 255.9,-54.2 265.7,-45.8 275.5,-34.3 285.3,-0.0 285.3,0.0 275.5,34.3 265.7,45.8 255.9,54.2 246.1,60.1 236.2,64.4 226.4,67.7 216.6,70.0 206.8,71.8 197.0,73.2 187.2,74.4 177.4,75.0 167.6,75.2 157.7,75.1 147.9,74.6 138.1,73.4 128.3,71.5 118.5,69.3 108.7,66.8 98.9,63.7 89.1,59.5 79.2,54.6 69.4,49.1 59.6,43.1 49.8,36.8 40.0,30.1 35.1,26.6 30.1,23.0 25.2,19.4 20.2,15.7 15.3,12.0 10.4,8.1 5.4,4.3 0.5,0.4Z" fill="#00ff7a"/>
<path d="M0.0,0.0 0.5,-0.4 5.4,-4.3 10.4,-8.1 15.3,-11.9 20.2,-15.6 25.2,-19.2 30.1,-22.8 35.1,-26.3 40.0,-29.8 49.6,-36.2 59.2,-42.3 68.8,-47.9 78.4,-53.1 88.0,-57.8 97.6,-61.6 107.2,-64.8 116.8,-67.5 126.3,-69.9 135.9,-71.7 145.5,-72.9 155.1,-73.4 164.7,-73.5 174.3,-73.2 183.9,-72.5 193.5,-71.4 203.1,-70.0 212.7,-68.1 222.3,-65.7 231.9,-62.5 241.5,-58.4 251.1,-52.6 260.7,-44.4 270.3,-33.3 279.9,-0.0 279.9,0.0 270.3,33.3 260.7,44.4 251.1,52.6 241.5,58.4 231.9,62.5 222.3,65.7 212.7,68.1 203.1,70.0 193.5,71.4 183.9,72.5 174.3,73.2 164.7,73.5 155.1,73.4 145.5,72.9 135.9,71.7 126.3,69.9 116.8,67.5 107.2,64.8 97.6,61.6 88.0,57.8 78.4,53.1 68.8,47.9 59.2,42.3 49.6,36.2 40.0,29.8 35.1,26.3 30.1,22.8 25.2,19.2 20.2,15.6 15.3,11.9 10.4,8.1 5.4,4.3 0.5,0.4Z" fill="#00ff67"/>
<path d="M0.0,0.0 0.5,-0.4 5.4,-4.2 10.4,-8.0 15.3,-11.8 20.2,-15.4 25.2,-19.0 30.1,-22.6 35.1,-26.0 40.0,-29.4 49.4,-35.6 58.8,-41.4 68.1,-46.8 77.5,-51.7 86.9,-56.0 96.3,-59.5 105.6,-62.9 115.0,-65.8 124.4,-68.2 133.8,-70.1 143.1,-71.2 152.5,-71.7 161.9,-71.8 171.3,-71.4 180.6,-70.7 190.0,-69.7 199.4,-68.2 208.8,-66.2 218.1,-63.7 227.5,-60.7 236.9,-56.6 246.3,-51.0 255.6,-43.1 265.0,-32.2 274.4,-0.0 274.4,0.0 265.0,32.2 255.6,43.1 246.3,51.0 236.9,56.6 227.5,60.7 218.1,63.7 208.8,66.2 199.4,68.2 190.0,69.7 180.6,70.7 171.3,71.4 161.9,71.8 152.5,71.7 143.1,71.2 133.8,70.1 124.4,68.2 115.0,65.8 105.6,62.9 96.3,59.5 86.9,56.0 77.5,51.7 68.1,46.8 58.8,41.4 49.4,35.6 40.0,29.4 35.1,26.0 30.1,22.6 25.2,19.0 20.2,15.4 15.3,11.8 10.4,8.0 5.4,4.2 0.5,0.4Z" fill="#00ff55"/>
<path d="M0.0,0.0 0.5,-0.4 5.4,-4.2 10.4,-8.0 15.3,-11.7 20.2,-15.3 25.2,-18.9 30.1,-22.3 35.1,-25.7 40.0,-29.1 49.2,-35.0 58.3,-40.5 67.5,-45.6 76.6,-50.2 85.8,-54.1 94.9,-57.6 104.1,-61.1 113.3,-64.0 122.4,-66.5 131.6,-68.4 140.7,-69.5 149.9,-70.0 159.1,-70.0 168.2,-69.7 177.4,-68.9 186.5,-68.0 195.7,-66.4 204.8,-64.4 214.0,-61.8 223.2,-58.8 232.3,-54.9 241.5,-49.4 250.6,-41.8 259.8,-31.2 268.9,-0.0 268.9,0.0 259.8,31.2 250.6,41.8 241.5,49.4 232.3,54.9 223.2,58.8 214.0,61.8 204.8,64.4 195.7,66.4 186.5,68.0 177.4,68.9 168.2,69.7 159.1,70.0 149.9,70.0 140.7,69.5 131.6,68.4 122.4,66.5 113.3,64.0 104.1,61.1 94.9,57.6 85.8,54.1 76.6,50.2 67.5,45.6 58.3,40.5 49.2,35.0 40.0,29.1 35.1,25.7 30.1,22.3 25.2,18.9 20.2,15.3 15.3,11.7 10.4,8.0 5.4,4.2 0.5,0.4Z" fill="#00ff43"/>
<path d="M0.0,0.0 0.5,-0.4 5.4,-4.2 10.4,-7.9 15.3,-11.5 20.2,-15.1 25.2,-18.6 30.1,-22.1 35.1,-25.4 40.0,-28.7 48.9,-34.3 57.9,-39.6 66.8,-44.4 75.8,-48.6 84.7,-52.3 93.6,-55.8 102.6,-59.3 111.5,-62.3 120.5,-64.8 129.4,-66.7 138.3,-67.7 147.3,-68.2 156.2,-68.3 165.2,-67.9 174.1,-67.2 183.0,-66.2 192.0,-64.7 200.9,-62.6 209.9,-60.0 218.8,-57.0 227.7,-53.2 236.7,-47.8 245.6,-40.5 254.5,-30.2 263.5,-0.0 263.5,0.0 254.5,30.2 245.6,40.5 236.7,47.8 227.7,53.2 218.8,57.0 209.9,60.0 200.9,62.6 192.0,64.7 183.0,66.2 174.1,67.2 165.2,67.9 156.2,68.3 147.3,68.2 138.3,67.7 129.4,66.7 120.5,64.8 111.5,62.3 102.6,59.3 93.6,55.8 84.7,52.3 75.8,48.6 66.8,44.4 57.9,39.6 48.9,34.3 40.0,28.7 35.1,25.4 30.1,22.1 25.2,18.6 20.2,15.1 15.3,11.5 10.4,7.9 5.4,4.2 0.5,0.4Z" fill="#00ff30"/>
<path d="M0.0,0.0 0.5,-0.4 5.4,-4.1 10.4,-7.8 15.3,-11.4 20.2,-15.0 25.2,-18.4 30.1,-21.8 35.1,-25.1 40.0,-28.3 48.7,-33.6 57.4,-38.6 66.2,-43.1 74.9,-47.0 83.6,-50.6 92.3,-54.1 101.0,-57.6 109.8,-60.7 118.5,-63.1 127.2,-65.0 135.9,-66.0 144.7,-66.5 153.4,-66.6 162.1,-66.2 170.8,-65.4 179.5,-64.4 188.3,-63.0 197.0,-60.9 205.7,-58.3 214.4,-55.2 223.1,-51.5 231.9,-46.2 240.6,-39.2 249.3,-29.3 258.0,-0.0 258.0,0.0 249.3,29.3 240.6,39.2 231.9,46.2 223.1,51.5 214.4,55.2 205.7,58.3 197.0,60.9 188.3,63.0 179.5,64.4 170.8,65.4 162.1,66.2 153.4,66.6 144.7,66.5 135.9,66.0 127.2,65.0 118.5,63.1 109.8,60.7 101.0,57.6 92.3,54.1 83.6,50.6 74.9,47.0 66.2,43.1 57.4,38.6 48.7,33.6 40.0,28.3 35.1,25.1 30.1,21.8 25.2,18.4 20.2,15.0 15.3,11.4 10.4,7.8 5.4,4.1 0.5,0.4Z" fill="#00ff1e"/>
<path d="M0.0,0.0 0.5,-0.4 5.4,-4.1 10.4,-7.7 15.3,-11.3 20.2,-14.8 25.2,-18.2 30.1,-21.5 35.1,-24.7 40.0,-27.8 48.5,-32.9 57.0,-37.6 65.5,-41.8 74.0,-45.4 82.5,-49.0 91.0,-52.6 99.5,-55.9 108.0,-59.0 116.5,-61.4 125.0,-63.2 133.5,-64.2 142.0,-64.8 150.5,-64.8 159.0,-64.4 167.5,-63.7 176.1,-62.6 184.6,-61.2 193.1,-59.3 201.6,-56.6 210.1,-53.6 218.6,-49.8 227.1,-44.6 235.6,-37.9 244.1,-28.3 252.6,-0.0 252.6,0.0 244.1,28.3 235.6,37.9 227.1,44.6 218.6,49.8 210.1,53.6 201.6,56.6 193.1,59.3 184.6,61.2 176.1,62.6 167.5,63.7 159.0,64.4 150.5,64.8 142.0,64.8 133.5,64.2 125.0,63.2 116.5,61.4 108.0,59.0 99.5,55.9 91.0,52.6 82.5,49.0 74.0,45.4 65.5,41.8 57.0,37.6 48.5,32.9 40.0,27.8 35.1,24.7 30.1,21.5 25.2,18.2 20.2,14.8 15.3,11.3 10.4,7.7 5.4,4.1 0.5,0.4Z" fill="#12ff18"/>
<path d="M0.0,0.0 0.5,-0.4 5.4,-4.1 10.4,-7.7 15.3,-11.2 20.2,-14.6 25.2,-18.0 30.1,-21.2 35.1,-24.4 40.0,-27.4 48.3,-32.2 56.6,-36.6 64.9,-40.4 73.1,-44.0 81.4,-47.6 89.7,-51.0 98.0,-54.3 106.3,-57.3 114.6,-59.7 122.8,-61.4 131.1,-62.5 139.4,-63.0 147.7,-63.1 156.0,-62.7 164.3,-61.9 172.6,-60.9 180.8,-59.5 189.1,-57.6 197.4,-55.0 205.7,-51.9 214.0,-48.2 222.3,-43.1 230.6,-36.7 238.8,-27.3 247.1,-0.0 247.1,0.0 238.8,27.3 230.6,36.7 222.3,43.1 214.0,48.2 205.7,51.9 197.4,55.0 189.1,57.6 180.8,59.5 172.6,60.9 164.3,61.9 156.0,62.7 147.7,63.1 139.4,63.0 131.1,62.5 122.8,61.4 114.6,59.7 106.3,57.3 98.0,54.3 89.7,51.0 81.4,47.6 73.1,44.0 64.9,40.4 56.6,36.6 48.3,32.2 40.0,27.4 35.1,24.4 30.1,21.2 25.2,18.0 20.2,14.6 15.3,11.2 10.4,7.7 5.4,4.1 0.5,0.4Z" fill="#24ff12"/>
<path d="M0.0,0.0 0.5,-0.4 5.4,-4.0 10.4,-7.6 15.3,-11.0 20.2,-14.4 25.2,-17.7 30.1,-20.9 35.1,-24.0 40.0,-26.9 48.1,-31.4 56.1,-35.4 64.2,-39.1 72.3,-42.7 80.3,-46.2 88.4,-49.5 96.5,-52.7 104.5,-55.6 112.6,-58.0 120.7,-59.7 128.7,-60.7 136.8,-61.3 144.9,-61.3 152.9,-61.0 161.0,-60.2 169.1,-59.1 177.1,-57.7 185.2,-55.9 193.3,-53.4 201.3,-50.4 209.4,-46.6 217.5,-41.6 225.5,-35.4 233.6,-26.3 241.7,-0.0 241.7,0.0 233.6,26.3 225.5,35.4 217.5,41.6 209.4,46.6 201.3,50.4 193.3,53.4 185.2,55.9 177.1,57.7 169.1,59.1 161.0,60.2 152.9,61.0 144.9,61.3 136.8,61.3 128.7,60.7 120.7,59.7 112.6,58.0 104.5,55.6 96.5,52.7 88.4,49.5 80.3,46.2 72.3,42.7 64.2,39.1 56.1,35.4 48.1,31.4 40.0,26.9 35.1,24.0 30.1,20.9 25.2,17.7 20.2,14.4 15.3,11.0 10.4,7.6 5.4,4.0 0.5,0.4Z" fill="#36ff0c"/>
<path d="M0.0,0.0 0.5,-0.4 5.4,-4.0 10.4,-7.5 15.3,-10.9 20.2,-14.2 25.2,-17.4 30.1,-20.5 35.1,-23.5 40.0,-26.4 47.8,-30.6 55.7,-34.3 63.5,-37.9 71.4,-41.4 79.2,-44.8 87.1,-48.1 94.9,-51.2 102.8,-54.0 110.6,-56.3 118.5,-57.9 126.3,-58.9 134.2,-59.5 142.0,-59.6 149.9,-59.2 157.7,-58.5 165.6,-57.4 173.4,-56.0 181.3,-54.2 189.1,-51.9 197.0,-48.9 204.8,-45.1 212.7,-40.2 220.5,-34.2 228.4,-25.3 236.2,-0.0 236.2,0.0 228.4,25.3 220.5,34.2 212.7,40.2 204.8,45.1 197.0,48.9 189.1,51.9 181.3,54.2 173.4,56.0 165.6,57.4 157.7,58.5 149.9,59.2 142.0,59.6 134.2,59.5 126.3,58.9 118.5,57.9 110.6,56.3 102.8,54.0 94.9,51.2 87.1,48.1 79.2,44.8 71.4,41.4 63.5,37.9 55.7,34.3 47.8,30.6 40.0,26.4 35.1,23.5 30.1,20.5 25.2,17.4 20.2,14.2 15.3,10.9 10.4,7.5 5.4,4.0 0.5,0.4Z" fill="#48ff06"/>
<path d="M0.0,0.0 0.5,-0.4 5.4,-3.9 10.4,-7.4 15.3,-10.7 20.2,-14.0 25.2,-17.1 30.1,-20.2 35.1,-23.1 40.0,-25.8 47.6,-29.7 55.3,-33.3 62.9,-36.9 70.5,-40.3 78.2,-43.6 85.8,-46.7 93.4,-49.6 101.0,-52.3 108.7,-54.5 116.3,-56.1 123.9,-57.1 131.6,-57.7 139.2,-57.8 146.8,-57.5 154.5,-56.8 162.1,-55.7 169.7,-54.3 177.3,-52.4 185.0,-50.2 192.6,-47.4 200.2,-43.7 207.9,-38.8 215.5,-33.0 223.1,-24.4 230.8,-0.0 230.8,0.0 223.1,24.4 215.5,33.0 207.9,38.8 200.2,43.7 192.6,47.4 185.0,50.2 177.3,52.4 169.7,54.3 162.1,55.7 154.5,56.8 146.8,57.5 139.2,57.8 131.6,57.7 123.9,57.1 116.3,56.1 108.7,54.5 101.0,52.3 93.4,49.6 85.8,46.7 78.2,43.6 70.5,40.3 62.9,36.9 55.3,33.3 47.6,29.7 40.0,25.8 35.1,23.1 30.1,20.2 25.2,17.1 20.2,14.0 15.3,10.7 10.4,7.4 5.4,3.9 0.5,0.4Z" fill="#5aff00"/>
<path d="M0.0,0.0 0.5,-0.4 5.4,-3.9 10.4,-7.3 15.3,-10.6 20.2,-13.8 25.2,-16.8 30.1,-19.8 35.1,-22.6 40.0,-25.2 47.4,-28.9 54.8,-32.4 62.2,-35.9 69.6,-39.2 77.1,-42.3 84.5,-45.3 91.9,-48.1 99.3,-50.6 106.7,-52.7 114.1,-54.3 121.5,-55.3 128.9,-55.9 136.4,-56.0 143.8,-55.7 151.2,-55.0 158.6,-54.0 166.0,-52.6 173.4,-50.7 180.8,-48.5 188.2,-46.0 195.7,-42.3 203.1,-37.5 210.5,-31.9 217.9,-23.4 225.3,-0.0 225.3,0.0 217.9,23.4 210.5,31.9 203.1,37.5 195.7,42.3 188.2,46.0 180.8,48.5 173.4,50.7 166.0,52.6 158.6,54.0 151.2,55.0 143.8,55.7 136.4,56.0 128.9,55.9 121.5,55.3 114.1,54.3 106.7,52.7 99.3,50.6 91.9,48.1 84.5,45.3 77.1,42.3 69.6,39.2 62.2,35.9 54.8,32.4 47.4,28.9 40.0,25.2 35.1,22.6 30.1,19.8 25.2,16.8 20.2,13.8 15.3,10.6 10.4,7.3 5.4,3.9 0.5,0.4Z" fill="#6fff00"/>
<path d="M0.0,0.0 0.5,-0.4 5.4,-3.8 10.4,-7.2 15.3,-10.4 20.2,-13.5 25.2,-16.5 30.1,-19.3 35.1,-22.0 40.0,-24.5 47.2,-28.1 54.4,-31.6 61.6,-34.9 68.8,-38.1 76.0,-41.1 83.2,-43.9 90.4,-46.5 97.6,-48.9 104.7,-50.9 111.9,-52.5 119.1,-53.5 126.3,-54.1 133.5,-54.3 140.7,-53.9 147.9,-53.3 155.1,-52.3 162.3,-50.9 169.5,-49.0 176.7,-46.9 183.9,-44.3 191.1,-41.0 198.3,-36.3 205.5,-30.8 212.7,-22.5 219.8,-0.0 219.8,0.0 212.7,22.5 205.5,30.8 198.3,36.3 191.1,41.0 183.9,44.3 176.7,46.9 169.5,49.0 162.3,50.9 155.1,52.3 147.9,53.3 140.7,53.9 133.5,54.3 126.3,54.1 119.1,53.5 111.9,52.5 104.7,50.9 97.6,48.9 90.4,46.5 83.2,43.9 76.0,41.1 68.8,38.1 61.6,34.9 54.4,31.6 47.2,28.1 40.0,24.5 35.1,22.0 30.1,19.3 25.2,16.5 20.2,13.5 15.3,10.4 10.4,7.2 5.4,3.8 0.5,0.4Z" fill="#85ff00"/>
<path d="M0.0,0.0 0.5,-0.4 5.4,-3.8 10.4,-7.1 15.3,-10.2 20.2,-13.3 25.2,-16.1 30.1,-18.9 35.1,-21.5 40.0,-24.0 47.0,-27.5 54.0,-30.8 60.9,-34.0 67.9,-37.0 74.9,-39.8 81.9,-42.5 88.8,-45.0 95.8,-47.2 102.8,-49.1 109.8,-50.7 116.7,-51.7 123.7,-52.3 130.7,-52.5 137.7,-52.2 144.6,-51.6 151.6,-50.6 158.6,-49.2 165.6,-47.4 172.5,-45.2 179.5,-42.7 186.5,-39.6 193.5,-35.1 200.4,-29.7 207.4,-21.6 214.4,-0.0 214.4,0.0 207.4,21.6 200.4,29.7 193.5,35.1 186.5,39.6 179.5,42.7 172.5,45.2 165.6,47.4 158.6,49.2 151.6,50.6 144.6,51.6 137.7,52.2 130.7,52.5 123.7,52.3 116.7,51.7 109.8,50.7 102.8,49.1 95.8,47.2 88.8,45.0 81.9,42.5 74.9,39.8 67.9,37.0 60.9,34.0 54.0,30.8 47.0,27.5 40.0,24.0 35.1,21.5 30.1,18.9 25.2,16.1 20.2,13.3 15.3,10.2 10.4,7.1 5.4,3.8 0.5,0.4Z" fill="#9aff00"/>
<path d="M0.0,0.0 0.5,-0.3 5.4,-3.7 10.4,-6.9 15.3,-10.0 20.2,-13.0 25.2,-15.7 30.1,-18.4 35.1,-21.0 40.0,-23.5 46.8,-26.8 53.5,-30.0 60.3,-33.1 67.0,-35.9 73.8,-38.6 80.5,-41.2 87.3,-43.5 94.1,-45.5 100.8,-47.4 107.6,-48.8 114.3,-49.9 121.1,-50.5 127.8,-50.6 134.6,-50.4 141.4,-49.8 148.1,-48.9 154.9,-47.5 161.6,-45.7 168.4,-43.6 175.1,-41.1 181.9,-38.0 188.7,-33.9 195.4,-28.7 202.2,-20.8 208.9,-0.0 208.9,0.0 202.2,20.8 195.4,28.7 188.7,33.9 181.9,38.0 175.1,41.1 168.4,43.6 161.6,45.7 154.9,47.5 148.1,48.9 141.4,49.8 134.6,50.4 127.8,50.6 121.1,50.5 114.3,49.9 107.6,48.8 100.8,47.4 94.1,45.5 87.3,43.5 80.5,41.2 73.8,38.6 67.0,35.9 60.3,33.1 53.5,30.0 46.8,26.8 40.0,23.5 35.1,21.0 30.1,18.4 25.2,15.7 20.2,13.0 15.3,10.0 10.4,6.9 5.4,3.7 0.5,0.3Z" fill="#b0ff00"/>
<path d="M0.0,0.0 0.5,-0.3 5.4,-3.6 10.4,-6.8 15.3,-9.8 20.2,-12.6 25.2,-15.4 30.1,-18.0 35.1,-20.6 40.0,-23.1 46.5,-26.2 53.1,-29.3 59.6,-32.2 66.2,-34.9 72.7,-37.4 79.2,-39.8 85.8,-41.9 92.3,-43.8 98.9,-45.6 105.4,-47.0 111.9,-48.0 118.5,-48.6 125.0,-48.8 131.5,-48.6 138.1,-48.0 144.6,-47.1 151.2,-45.8 157.7,-44.0 164.2,-42.0 170.8,-39.5 177.3,-36.4 183.9,-32.5 190.4,-27.7 196.9,-20.0 203.5,-0.0 203.5,0.0 196.9,20.0 190.4,27.7 183.9,32.5 177.3,36.4 170.8,39.5 164.2,42.0 157.7,44.0 151.2,45.8 144.6,47.1 138.1,48.0 131.5,48.6 125.0,48.8 118.5,48.6 111.9,48.0 105.4,47.0 98.9,45.6 92.3,43.8 85.8,41.9 79.2,39.8 72.7,37.4 66.2,34.9 59.6,32.2 53.1,29.3 46.5,26.2 40.0,23.1 35.1,20.6 30.1,18.0 25.2,15.4 20.2,12.6 15.3,9.8 10.4,6.8 5.4,3.6 0.5,0.3Z" fill="#c4ff00"/>
<path d="M0.0,0.0 0.5,-0.3 5.4,-3.6 10.4,-6.7 15.3,-9.6 20.2,-12.3 25.2,-15.0 30.1,-17.7 35.1,-20.2 40.0,-22.7 46.3,-25.7 52.6,-28.6 59.0,-31.3 65.3,-33.8 71.6,-36.2 77.9,-38.4 84.2,-40.4 90.6,-42.2 96.9,-43.8 103.2,-45.2 109.5,-46.2 115.9,-46.8 122.2,-47.0 128.5,-46.8 134.8,-46.3 141.1,-45.4 147.5,-44.1 153.8,-42.4 160.1,-40.4 166.4,-38.0 172.7,-34.8 179.1,-31.0 185.4,-26.6 191.7,-19.2 198.0,-0.0 198.0,0.0 191.7,19.2 185.4,26.6 179.1,31.0 172.7,34.8 166.4,38.0 160.1,40.4 153.8,42.4 147.5,44.1 141.1,45.4 134.8,46.3 128.5,46.8 122.2,47.0 115.9,46.8 109.5,46.2 103.2,45.2 96.9,43.8 90.6,42.2 84.2,40.4 77.9,38.4 71.6,36.2 65.3,33.8 59.0,31.3 52.6,28.6 46.3,25.7 40.0,22.7 35.1,20.2 30.1,17.7 25.2,15.0 20.2,12.3 15.3,9.6 10.4,6.7 5.4,3.6 0.5,0.3Z" fill="#d8ff00"/>
<path d="M0.0,0.0 0.5,-0.3 5.4,-3.5 10.4,-6.5 15.3,-9.3 20.2,-12.1 25.2,-14.7 30.1,-17.3 35.1,-19.8 40.0,-22.2 46.1,-25.1 52.2,-27.8 58.3,-30.4 64.4,-32.8 70.5,-35.0 76.6,-37.0 82.7,-38.9 88.8,-40.6 94.9,-42.1 101.0,-43.4 107.1,-44.3 113.2,-44.9 119.3,-45.1 125.4,-45.0 131.5,-44.5 137.6,-43.6 143.7,-42.3 149.9,-40.7 156.0,-38.8 162.1,-36.4 168.2,-33.3 174.3,-29.5 180.4,-25.2 186.5,-18.2 192.6,-0.0 192.6,0.0 186.5,18.2 180.4,25.2 174.3,29.5 168.2,33.3 162.1,36.4 156.0,38.8 149.9,40.7 143.7,42.3 137.6,43.6 131.5,44.5 125.4,45.0 119.3,45.1 113.2,44.9 107.1,44.3 101.0,43.4 94.9,42.1 88.8,40.6 82.7,38.9 76.6,37.0 70.5,35.0 64.4,32.8 58.3,30.4 52.2,27.8 46.1,25.1 40.0,22.2 35.1,19.8 30.1,17.3 25.2,14.7 20.2,12.1 15.3,9.3 10.4,6.5 5.4,3.5 0.5,0.3Z" fill="#ecff00"/>
<path d="M0.0,0.0 0.5,-0.3 5.4,-3.4 10.4,-6.4 15.3,-9.2 20.2,-11.9 25.2,-14.5 30.1,-17.0 35.1,-19.5 40.0,-21.9 45.9,-24.6 51.8,-27.1 57.6,-29.5 63.5,-31.7 69.4,-33.7 75.3,-35.6 81.2,-37.4 87.0,-38.9 92.9,-40.3 98.8,-41.5 104.7,-42.5 110.6,-43.0 116.5,-43.3 122.3,-43.1 128.2,-42.7 134.1,-41.9 140.0,-40.6 145.9,-39.1 151.7,-37.2 157.6,-34.8 163.5,-31.7 169.4,-28.2 175.3,-23.8 181.1,-16.6 187.0,-0.0 187.0,0.0 181.1,16.6 175.3,23.8 169.4,28.2 163.5,31.7 157.6,34.8 151.7,37.2 145.9,39.1 140.0,40.6 134.1,41.9 128.2,42.7 122.3,43.1 116.5,43.3 110.6,43.0 104.7,42.5 98.8,41.5 92.9,40.3 87.0,38.9 81.2,37.4 75.3,35.6 69.4,33.7 63.5,31.7 57.6,29.5 51.8,27.1 45.9,24.6 40.0,21.9 35.1,19.5 30.1,17.0 25.2,14.5 20.2,11.9 15.3,9.2 10.4,6.4 5.4,3.4 0.5,0.3Z" fill="#ffff00"/>
<path d="M0.0,0.0 0.5,-0.3 5.4,-3.3 10.4,-6.2 15.3,-9.0 20.2,-11.7 25.2,-14.2 30.1,-16.7 35.1,-19.1 40.0,-21.5 45.6,-24.0 51.3,-26.4 56.9,-28.6 62.6,-30.6 68.2,-32.5 73.8,-34.2 79.5,-35.8 85.1,-37.3 90.8,-38.6 96.4,-39.7 102.1,-40.6 107.7,-41.1 113.3,-41.4 119.0,-41.3 124.6,-40.9 130.3,-40.1 135.9,-39.0 141.5,-37.5 147.2,-35.7 152.8,-33.4 158.5,-30.5 164.1,-27.0 169.7,-22.9 175.4,-15.9 181.0,-0.0 181.0,0.0 175.4,15.9 169.7,22.9 164.1,27.0 158.5,30.5 152.8,33.4 147.2,35.7 141.5,37.5 135.9,39.0 130.3,40.1 124.6,40.9 119.0,41.3 113.3,41.4 107.7,41.1 102.1,40.6 96.4,39.7 90.8,38.6 85.1,37.3 79.5,35.8 73.8,34.2 68.2,32.5 62.6,30.6 56.9,28.6 51.3,26.4 45.6,24.0 40.0,21.5 35.1,19.1 30.1,16.7 25.2,14.2 20.2,11.7 15.3,9.0 10.4,6.2 5.4,3.3 0.5,0.3Z" fill="#fff400"/>
<path d="M0.0,0.0 0.5,-0.3 5.4,-3.3 10.4,-6.1 15.3,-8.8 20.2,-11.5 25.2,-14.0 30.1,-16.4 35.1,-18.8 40.0,-21.1 45.4,-23.4 50.8,-25.6 56.2,-27.7 61.6,-29.6 67.0,-31.3 72.4,-32.9 77.8,-34.3 83.2,-35.7 88.6,-36.9 94.0,-37.9 99.4,-38.7 104.8,-39.2 110.2,-39.5 115.6,-39.5 121.0,-39.1 126.4,-38.4 131.8,-37.3 137.2,-35.9 142.6,-34.2 148.0,-32.1 153.4,-29.2 158.8,-25.9 164.2,-21.9 169.6,-15.2 175.0,-0.0 175.0,0.0 169.6,15.2 164.2,21.9 158.8,25.9 153.4,29.2 148.0,32.1 142.6,34.2 137.2,35.9 131.8,37.3 126.4,38.4 121.0,39.1 115.6,39.5 110.2,39.5 104.8,39.2 99.4,38.7 94.0,37.9 88.6,36.9 83.2,35.7 77.8,34.3 72.4,32.9 67.0,31.3 61.6,29.6 56.2,27.7 50.8,25.6 45.4,23.4 40.0,21.1 35.1,18.8 30.1,16.4 25.2,14.0 20.2,11.5 15.3,8.8 10.4,6.1 5.4,3.3 0.5,0.3Z" fill="#ffe900"/>
<path d="M0.0,0.0 0.5,-0.3 5.4,-3.2 10.4,-6.0 15.3,-8.7 20.2,-11.3 25.2,-13.7 30.1,-16.1 35.1,-18.5 40.0,-20.7 45.2,-22.8 50.3,-24.8 55.5,-26.7 60.6,-28.5 65.8,-30.1 71.0,-31.5 76.1,-32.8 81.3,-34.1 86.4,-35.2 91.6,-36.1 96.8,-36.8 101.9,-37.3 107.1,-37.6 112.3,-37.6 117.4,-37.3 122.6,-36.6 127.7,-35.6 132.9,-34.3 138.1,-32.7 143.2,-30.6 148.4,-27.9 153.5,-24.8 158.7,-21.0 163.9,-14.5 169.0,-0.0 169.0,0.0 163.9,14.5 158.7,21.0 153.5,24.8 148.4,27.9 143.2,30.6 138.1,32.7 132.9,34.3 127.7,35.6 122.6,36.6 117.4,37.3 112.3,37.6 107.1,37.6 101.9,37.3 96.8,36.8 91.6,36.1 86.4,35.2 81.3,34.1 76.1,32.8 71.0,31.5 65.8,30.1 60.6,28.5 55.5,26.7 50.3,24.8 45.2,22.8 40.0,20.7 35.1,18.5 30.1,16.1 25.2,13.7 20.2,11.3 15.3,8.7 10.4,6.0 5.4,3.2 0.5,0.3Z" fill="#ffde00"/>
<path d="M0.0,0.0 0.5,-0.3 5.4,-3.2 10.4,-5.9 15.3,-8.5 20.2,-11.1 25.2,-13.5 30.1,-15.9 35.1,-18.1 40.0,-20.2 44.9,-22.2 49.8,-24.1 54.8,-25.8 59.7,-27.4 64.6,-28.9 69.5,-30.2 74.4,-31.4 79.4,-32.5 84.3,-33.5 89.2,-34.3 94.1,-34.9 99.1,-35.4 104.0,-35.7 108.9,-35.7 113.8,-35.4 118.7,-34.8 123.7,-33.9 128.6,-32.7 133.5,-31.2 138.4,-29.2 143.3,-26.6 148.3,-23.7 153.2,-20.1 158.1,-13.8 163.0,-0.0 163.0,0.0 158.1,13.8 153.2,20.1 148.3,23.7 143.3,26.6 138.4,29.2 133.5,31.2 128.6,32.7 123.7,33.9 118.7,34.8 113.8,35.4 108.9,35.7 104.0,35.7 99.1,35.4 94.1,34.9 89.2,34.3 84.3,33.5 79.4,32.5 74.4,31.4 69.5,30.2 64.6,28.9 59.7,27.4 54.8,25.8 49.8,24.1 44.9,22.2 40.0,20.2 35.1,18.1 30.1,15.9 25.2,13.5 20.2,11.1 15.3,8.5 10.4,5.9 5.4,3.2 0.5,0.3Z" fill="#ffd300"/>
<path d="M0.0,0.0 0.5,-0.3 5.4,-3.1 10.4,-5.8 15.3,-8.4 20.2,-10.9 25.2,-13.3 30.1,-15.6 35.1,-17.7 40.0,-19.8 44.7,-21.6 49.4,-23.3 54.0,-24.9 58.7,-26.4 63.4,-27.7 68.1,-28.9 72.8,-29.9 77.4,-30.9 82.1,-31.8 86.8,-32.5 91.5,-33.1 96.2,-33.6 100.9,-33.8 105.5,-33.9 110.2,-33.6 114.9,-33.0 119.6,-32.2 124.3,-31.1 128.9,-29.7 133.6,-27.8 138.3,-25.4 143.0,-22.6 147.7,-19.1 152.3,-13.1 157.0,-0.0 157.0,0.0 152.3,13.1 147.7,19.1 143.0,22.6 138.3,25.4 133.6,27.8 128.9,29.7 124.3,31.1 119.6,32.2 114.9,33.0 110.2,33.6 105.5,33.9 100.9,33.8 96.2,33.6 91.5,33.1 86.8,32.5 82.1,31.8 77.4,30.9 72.8,29.9 68.1,28.9 63.4,27.7 58.7,26.4 54.0,24.9 49.4,23.3 44.7,21.6 40.0,19.8 35.1,17.7 30.1,15.6 25.2,13.3 20.2,10.9 15.3,8.4 10.4,5.8 5.4,3.1 0.5,0.3Z" fill="#ffc700"/>
<path d="M0.0,0.0 0.5,-0.3 5.4,-3.1 10.4,-5.7 15.3,-8.3 20.2,-10.7 25.2,-13.0 30.1,-15.2 35.1,-17.3 40.0,-19.3 44.4,-21.0 48.9,-22.5 53.3,-24.0 57.8,-25.3 62.2,-26.5 66.6,-27.6 71.1,-28.5 75.5,-29.3 80.0,-30.1 84.4,-30.8 88.8,-31.3 93.3,-31.7 97.7,-31.9 102.2,-32.0 106.6,-31.7 111.1,-31.2 115.5,-30.5 119.9,-29.5 124.4,-28.1 128.8,-26.3 133.3,-24.1 137.7,-21.5 142.1,-18.2 146.6,-12.4 151.0,-0.0 151.0,0.0 146.6,12.4 142.1,18.2 137.7,21.5 133.3,24.1 128.8,26.3 124.4,28.1 119.9,29.5 115.5,30.5 111.1,31.2 106.6,31.7 102.2,32.0 97.7,31.9 93.3,31.7 88.8,31.3 84.4,30.8 80.0,30.1 75.5,29.3 71.1,28.5 66.6,27.6 62.2,26.5 57.8,25.3 53.3,24.0 48.9,22.5 44.4,21.0 40.0,19.3 35.1,17.3 30.1,15.2 25.2,13.0 20.2,10.7 15.3,8.3 10.4,5.7 5.4,3.1 0.5,0.3Z" fill="#ffbb00"/>
<path d="M0.0,0.0 0.5,-0.3 5.4,-3.0 10.4,-5.6 15.3,-8.1 20.2,-10.5 25.2,-12.8 30.1,-14.9 35.1,-16.9 40.0,-18.8 44.2,-20.4 48.4,-21.8 52.6,-23.1 56.8,-24.3 61.0,-25.4 65.2,-26.3 69.4,-27.1 73.6,-27.8 77.8,-28.5 82.0,-29.1 86.2,-29.6 90.4,-29.9 94.6,-30.1 98.8,-30.1 103.0,-29.8 107.2,-29.4 111.4,-28.7 115.6,-27.8 119.8,-26.5 124.0,-24.8 128.2,-22.8 132.4,-20.3 136.6,-17.2 140.8,-11.7 145.0,-0.0 145.0,0.0 140.8,11.7 136.6,17.2 132.4,20.3 128.2,22.8 124.0,24.8 119.8,26.5 115.6,27.8 111.4,28.7 107.2,29.4 103.0,29.8 98.8,30.1 94.6,30.1 90.4,29.9 86.2,29.6 82.0,29.1 77.8,28.5 73.6,27.8 69.4,27.1 65.2,26.3 61.0,25.4 56.8,24.3 52.6,23.1 48.4,21.8 44.2,20.4 40.0,18.8 35.1,16.9 30.1,14.9 25.2,12.8 20.2,10.5 15.3,8.1 10.4,5.6 5.4,3.0 0.5,0.3Z" fill="#ffb000"/>
<path d="M0.0,0.0 0.5,-0.3 5.4,-3.0 10.4,-5.5 15.3,-8.0 20.2,-10.3 25.2,-12.5 30.1,-14.6 35.1,-16.5 40.0,-18.4 44.0,-19.7 47.9,-21.0 51.9,-22.2 55.8,-23.3 59.8,-24.2 63.8,-25.1 67.7,-25.8 71.7,-26.4 75.6,-26.9 79.6,-27.5 83.6,-27.9 87.5,-28.1 91.5,-28.2 95.5,-28.2 99.4,-28.0 103.4,-27.6 107.3,-27.0 111.3,-26.1 115.3,-24.9 119.2,-23.3 123.2,-21.4 127.1,-19.2 131.1,-16.2 135.1,-11.0 139.0,-0.0 139.0,0.0 135.1,11.0 131.1,16.2 127.1,19.2 123.2,21.4 119.2,23.3 115.3,24.9 111.3,26.1 107.3,27.0 103.4,27.6 99.4,28.0 95.5,28.2 91.5,28.2 87.5,28.1 83.6,27.9 79.6,27.5 75.6,26.9 71.7,26.4 67.7,25.8 63.8,25.1 59.8,24.2 55.8,23.3 51.9,22.2 47.9,21.0 44.0,19.7 40.0,18.4 35.1,16.5 30.1,14.6 25.2,12.5 20.2,10.3 15.3,8.0 10.4,5.5 5.4,3.0 0.5,0.3Z" fill="#ffa400"/>
<path d="M0.0,0.0 0.5,-0.3 5.4,-2.9 10.4,-5.4 15.3,-7.8 20.2,-10.1 25.2,-12.2 30.1,-14.2 35.1,-16.1 40.0,-17.9 43.7,-19.1 47.4,-20.2 51.2,-21.3 54.9,-22.2 58.6,-23.1 62.3,-23.8 66.0,-24.5 69.8,-25.0 73.5,-25.4 77.2,-25.8 80.9,-26.1 84.6,-26.4 88.4,-26.4 92.1,-26.3 95.8,-26.1 99.5,-25.8 103.3,-25.2 107.0,-24.4 110.7,-23.3 114.4,-21.8 118.1,-20.1 121.9,-18.0 125.6,-15.2 129.3,-10.3 133.0,-0.0 133.0,0.0 129.3,10.3 125.6,15.2 121.9,18.0 118.1,20.1 114.4,21.8 110.7,23.3 107.0,24.4 103.3,25.2 99.5,25.8 95.8,26.1 92.1,26.3 88.4,26.4 84.6,26.4 80.9,26.1 77.2,25.8 73.5,25.4 69.8,25.0 66.0,24.5 62.3,23.8 58.6,23.1 54.9,22.2 51.2,21.3 47.4,20.2 43.7,19.1 40.0,17.9 35.1,16.1 30.1,14.2 25.2,12.2 20.2,10.1 15.3,7.8 10.4,5.4 5.4,2.9 0.5,0.3Z" fill="#ff9800"/>
<path d="M0.0,0.0 0.5,-0.3 5.4,-2.9 10.4,-5.3 15.3,-7.7 20.2,-9.9 25.2,-11.9 30.1,-13.9 35.1,-15.7 40.0,-17.4 43.5,-18.5 47.0,-19.5 50.4,-20.4 53.9,-21.2 57.4,-22.0 60.9,-22.6 64.4,-23.2 67.8,-23.6 71.3,-24.0 74.8,-24.2 78.3,-24.5 81.8,-24.6 85.2,-24.6 88.7,-24.5 92.2,-24.3 95.7,-24.0 99.2,-23.5 102.7,-22.7 106.1,-21.7 109.6,-20.3 113.1,-18.7 116.6,-16.8 120.1,-14.2 123.5,-9.6 127.0,-0.0 127.0,0.0 123.5,9.6 120.1,14.2 116.6,16.8 113.1,18.7 109.6,20.3 106.1,21.7 102.7,22.7 99.2,23.5 95.7,24.0 92.2,24.3 88.7,24.5 85.2,24.6 81.8,24.6 78.3,24.5 74.8,24.2 71.3,24.0 67.8,23.6 64.4,23.2 60.9,22.6 57.4,22.0 53.9,21.2 50.4,20.4 47.0,19.5 43.5,18.5 40.0,17.4 35.1,15.7 30.1,13.9 25.2,11.9 20.2,9.9 15.3,7.7 10.4,5.3 5.4,2.9 0.5,0.3Z" fill="#ff8d00"/>
<path d="M0.0,0.0 0.5,-0.3 5.4,-2.8 10.4,-5.3 15.3,-7.5 20.2,-9.7 25.2,-11.7 30.1,-13.5 35.1,-15.3 40.0,-16.9 43.2,-17.8 46.5,-18.7 49.7,-19.5 53.0,-20.2 56.2,-20.9 59.4,-21.5 62.7,-21.9 65.9,-22.3 69.2,-22.6 72.4,-22.7 75.6,-22.8 78.9,-22.9 82.1,-22.9 85.4,-22.8 88.6,-22.6 91.9,-22.2 95.1,-21.7 98.3,-21.0 101.6,-20.0 104.8,-18.8 108.1,-17.4 111.3,-15.6 114.5,-13.2 117.8,-8.8 121.0,-0.0 121.0,0.0 117.8,8.8 114.5,13.2 111.3,15.6 108.1,17.4 104.8,18.8 101.6,20.0 98.3,21.0 95.1,21.7 91.9,22.2 88.6,22.6 85.4,22.8 82.1,22.9 78.9,22.9 75.6,22.8 72.4,22.7 69.2,22.6 65.9,22.3 62.7,21.9 59.4,21.5 56.2,20.9 53.0,20.2 49.7,19.5 46.5,18.7 43.2,17.8 40.0,16.9 35.1,15.3 30.1,13.5 25.2,11.7 20.2,9.7 15.3,7.5 10.4,5.3 5.4,2.8 0.5,0.3Z" fill="#ff7f00"/>
<path d="M0.0,0.0 0.5,-0.3 5.4,-2.8 10.4,-5.1 15.3,-7.4 20.2,-9.4 25.2,-11.4 30.1,-13.2 35.1,-14.8 40.0,-16.3 43.0,-17.2 46.0,-17.9 49.0,-18.6 52.0,-19.3 55.0,-19.8 58.0,-20.3 61.0,-20.7 64.0,-21.0 67.0,-21.2 70.0,-21.3 73.0,-21.2 76.0,-21.2 79.0,-21.2 82.0,-21.1 85.0,-20.9 88.0,-20.5 91.0,-20.0 94.0,-19.3 97.0,-18.4 100.0,-17.3 103.0,-16.0 106.0,-14.4 109.0,-12.1 112.0,-8.1 115.0,-0.0 115.0,0.0 112.0,8.1 109.0,12.1 106.0,14.4 103.0,16.0 100.0,17.3 97.0,18.4 94.0,19.3 91.0,20.0 88.0,20.5 85.0,20.9 82.0,21.1 79.0,21.2 76.0,21.2 73.0,21.2 70.0,21.3 67.0,21.2 64.0,21.0 61.0,20.7 58.0,20.3 55.0,19.8 52.0,19.3 49.0,18.6 46.0,17.9 43.0,17.2 40.0,16.3 35.1,14.8 30.1,13.2 25.2,11.4 20.2,9.4 15.3,7.4 10.4,5.1 5.4,2.8 0.5,0.3Z" fill="#ff7100"/>
<path d="M0.0,0.0 0.5,-0.3 5.4,-2.7 10.4,-5.0 15.3,-7.2 20.2,-9.2 25.2,-11.1 30.1,-12.8 35.1,-14.4 40.0,-15.8 42.8,-16.5 45.5,-17.2 48.3,-17.8 51.0,-18.3 53.8,-18.8 56.6,-19.2 59.3,-19.5 62.1,-19.7 64.8,-19.9 67.6,-19.9 70.4,-19.8 73.1,-19.7 75.9,-19.5 78.6,-19.4 81.4,-19.2 84.2,-18.8 86.9,-18.3 89.7,-17.6 92.5,-16.8 95.2,-15.8 98.0,-14.7 100.7,-13.2 103.5,-11.0 106.3,-7.3 109.0,-0.0 109.0,0.0 106.3,7.3 103.5,11.0 100.7,13.2 98.0,14.7 95.2,15.8 92.5,16.8 89.7,17.6 86.9,18.3 84.2,18.8 81.4,19.2 78.6,19.4 75.9,19.5 73.1,19.7 70.4,19.8 67.6,19.9 64.8,19.9 62.1,19.7 59.3,19.5 56.6,19.2 53.8,18.8 51.0,18.3 48.3,17.8 45.5,17.2 42.8,16.5 40.0,15.8 35.1,14.4 30.1,12.8 25.2,11.1 20.2,9.2 15.3,7.2 10.4,5.0 5.4,2.7 0.5,0.3Z" fill="#ff6300"/>
<path d="M0.0,0.0 0.5,-0.3 5.4,-2.7 10.4,-4.9 15.3,-7.0 20.2,-9.0 25.2,-10.8 30.1,-12.4 35.1,-13.9 40.0,-15.2 42.5,-15.8 45.0,-16.4 47.6,-16.9 50.1,-17.3 52.6,-17.7 55.1,-18.0 57.6,-18.3 60.2,-18.5 62.7,-18.6 65.2,-18.6 67.7,-18.5 70.2,-18.3 72.8,-18.1 75.3,-17.8 77.8,-17.5 80.3,-17.2 82.8,-16.6 85.4,-16.0 87.9,-15.3 90.4,-14.4 92.9,-13.3 95.5,-12.0 98.0,-9.9 100.5,-6.6 103.0,-0.0 103.0,0.0 100.5,6.6 98.0,9.9 95.5,12.0 92.9,13.3 90.4,14.4 87.9,15.3 85.4,16.0 82.8,16.6 80.3,17.2 77.8,17.5 75.3,17.8 72.8,18.1 70.2,18.3 67.7,18.5 65.2,18.6 62.7,18.6 60.2,18.5 57.6,18.3 55.1,18.0 52.6,17.7 50.1,17.3 47.6,16.9 45.0,16.4 42.5,15.8 40.0,15.2 35.1,13.9 30.1,12.4 25.2,10.8 20.2,9.0 15.3,7.0 10.4,4.9 5.4,2.7 0.5,0.3Z" fill="#ff5400"/>
<path d="M0.0,0.0 0.5,-0.3 5.4,-2.6 10.4,-4.8 15.3,-6.9 20.2,-8.8 25.2,-10.5 30.1,-12.0 35.1,-13.4 40.0,-14.7 42.3,-15.2 44.6,-15.6 46.8,-16.0 49.1,-16.4 51.4,-16.7 53.7,-16.9 56.0,-17.1 58.2,-17.2 60.5,-17.3 62.8,-17.3 65.1,-17.2 67.4,-17.0 69.6,-16.8 71.9,-16.4 74.2,-15.9 76.5,-15.5 78.8,-15.0 81.0,-14.4 83.3,-13.8 85.6,-13.0 87.9,-12.0 90.2,-10.8 92.5,-8.7 94.7,-5.9 97.0,-0.0 97.0,0.0 94.7,5.9 92.5,8.7 90.2,10.8 87.9,12.0 85.6,13.0 83.3,13.8 81.0,14.4 78.8,15.0 76.5,15.5 74.2,15.9 71.9,16.4 69.6,16.8 67.4,17.0 65.1,17.2 62.8,17.3 60.5,17.3 58.2,17.2 56.0,17.1 53.7,16.9 51.4,16.7 49.1,16.4 46.8,16.0 44.6,15.6 42.3,15.2 40.0,14.7 35.1,13.4 30.1,12.0 25.2,10.5 20.2,8.8 15.3,6.9 10.4,4.8 5.4,2.6 0.5,0.3Z" fill="#ff4600"/>
<path d="M0.0,0.0 0.5,-0.2 5.4,-2.6 10.4,-4.7 15.3,-6.7 20.2,-8.5 25.2,-10.2 30.1,-11.6 35.1,-13.0 40.0,-14.1 42.0,-14.5 44.1,-14.9 46.1,-15.2 48.2,-15.5 50.2,-15.7 52.2,-15.9 54.3,-16.0 56.3,-16.1 58.4,-16.1 60.4,-16.1 62.4,-16.0 64.5,-15.8 66.5,-15.6 68.6,-15.2 70.6,-14.8 72.6,-14.1 74.7,-13.5 76.7,-13.0 78.8,-12.4 80.8,-11.7 82.9,-10.8 84.9,-9.6 86.9,-7.6 89.0,-5.2 91.0,-0.0 91.0,0.0 89.0,5.2 86.9,7.6 84.9,9.6 82.9,10.8 80.8,11.7 78.8,12.4 76.7,13.0 74.7,13.5 72.6,14.1 70.6,14.8 68.6,15.2 66.5,15.6 64.5,15.8 62.4,16.0 60.4,16.1 58.4,16.1 56.3,16.1 54.3,16.0 52.2,15.9 50.2,15.7 48.2,15.5 46.1,15.2 44.1,14.9 42.0,14.5 40.0,14.1 35.1,13.0 30.1,11.6 25.2,10.2 20.2,8.5 15.3,6.7 10.4,4.7 5.4,2.6 0.5,0.2Z" fill="#ff3800"/>
<path d="M0.0,0.0 0.5,-0.2 5.4,-2.5 10.4,-4.6 15.3,-6.5 20.2,-8.3 25.2,-9.8 30.1,-11.2 35.1,-12.5 40.0,-13.5 41.8,-13.8 43.6,-14.1 45.4,-14.3 47.2,-14.5 49.0,-14.7 50.8,-14.8 52.6,-14.9 54.4,-14.9 56.2,-14.9 58.0,-14.9 59.8,-14.8 61.6,-14.6 63.4,-14.4 65.2,-14.1 67.0,-13.7 68.8,-13.1 70.6,-12.5 72.4,-11.9 74.2,-11.0 76.0,-10.3 77.8,-9.5 79.6,-8.4 81.4,-6.6 83.2,-4.5 85.0,-0.0 85.0,0.0 83.2,4.5 81.4,6.6 79.6,8.4 77.8,9.5 76.0,10.3 74.2,11.0 72.4,11.9 70.6,12.5 68.8,13.1 67.0,13.7 65.2,14.1 63.4,14.4 61.6,14.6 59.8,14.8 58.0,14.9 56.2,14.9 54.4,14.9 52.6,14.9 50.8,14.8 49.0,14.7 47.2,14.5 45.4,14.3 43.6,14.1 41.8,13.8 40.0,13.5 35.1,12.5 30.1,11.2 25.2,9.8 20.2,8.3 15.3,6.5 10.4,4.6 5.4,2.5 0.5,0.2Z" fill="#ff2c00"/>
<path d="M0.0,0.0 0.5,-0.2 5.4,-2.5 10.4,-4.5 15.3,-6.4 20.2,-8.0 25.2,-9.5 30.1,-10.8 35.1,-12.0 40.0,-12.9 41.6,-13.1 43.1,-13.3 44.7,-13.5 46.2,-13.6 47.8,-13.7 49.4,-13.8 50.9,-13.8 52.5,-13.8 54.0,-13.8 55.6,-13.8 57.2,-13.7 58.7,-13.5 60.3,-13.3 61.8,-13.0 63.4,-12.7 65.0,-12.2 66.5,-11.7 68.1,-11.2 69.6,-10.5 71.2,-9.7 72.8,-8.7 74.3,-7.2 75.9,-5.6 77.5,-3.9 79.0,-0.0 79.0,0.0 77.5,3.9 75.9,5.6 74.3,7.2 72.8,8.7 71.2,9.7 69.6,10.5 68.1,11.2 66.5,11.7 65.0,12.2 63.4,12.7 61.8,13.0 60.3,13.3 58.7,13.5 57.2,13.7 55.6,13.8 54.0,13.8 52.5,13.8 50.9,13.8 49.4,13.8 47.8,13.7 46.2,13.6 44.7,13.5 43.1,13.3 41.6,13.1 40.0,12.9 35.1,12.0 30.1,10.8 25.2,9.5 20.2,8.0 15.3,6.4 10.4,4.5 5.4,2.5 0.5,0.2Z" fill="#ff2300"/>
<path d="M0.0,0.0 0.5,-0.2 5.4,-2.4 10.4,-4.4 15.3,-6.2 20.2,-7.8 25.2,-9.2 30.1,-10.4 35.1,-11.4 40.0,-12.2 41.3,-12.3 42.7,-12.5 44.0,-12.6 45.4,-12.7 46.7,-12.7 48.0,-12.8 49.4,-12.8 50.7,-12.8 52.0,-12.8 53.4,-12.7 54.7,-12.6 56.1,-12.4 57.4,-12.3 58.7,-12.0 60.1,-11.7 61.4,-11.3 62.8,-10.9 64.1,-10.5 65.4,-10.0 66.8,-9.3 68.1,-8.6 69.4,-7.5 70.8,-6.0 72.1,-4.0 73.5,-0.0 73.5,0.0 72.1,4.0 70.8,6.0 69.4,7.5 68.1,8.6 66.8,9.3 65.4,10.0 64.1,10.5 62.8,10.9 61.4,11.3 60.1,11.7 58.7,12.0 57.4,12.3 56.1,12.4 54.7,12.6 53.4,12.7 52.0,12.8 50.7,12.8 49.4,12.8 48.0,12.8 46.7,12.7 45.4,12.7 44.0,12.6 42.7,12.5 41.3,12.3 40.0,12.2 35.1,11.4 30.1,10.4 25.2,9.2 20.2,7.8 15.3,6.2 10.4,4.4 5.4,2.4 0.5,0.2Z" fill="#ff1a00"/>
<path d="M0.0,0.0 0.5,-0.2 5.4,-2.4 10.4,-4.3 15.3,-6.0 20.2,-7.5 25.2,-8.8 30.1,-10.0 35.1,-10.9 40.0,-11.5 41.2,-11.6 42.3,-11.7 43.5,-11.7 44.7,-11.8 45.9,-11.8 47.0,-11.8 48.2,-11.8 49.4,-11.8 50.6,-11.7 51.7,-11.6 52.9,-11.5 54.1,-11.3 55.3,-11.1 56.4,-10.8 57.6,-10.6 58.8,-10.2 60.0,-9.9 61.1,-9.5 62.3,-9.0 63.5,-8.4 64.7,-7.7 65.8,-6.7 67.0,-5.3 68.2,-3.6 69.4,-0.0 69.4,0.0 68.2,3.6 67.0,5.3 65.8,6.7 64.7,7.7 63.5,8.4 62.3,9.0 61.1,9.5 60.0,9.9 58.8,10.2 57.6,10.6 56.4,10.8 55.3,11.1 54.1,11.3 52.9,11.5 51.7,11.6 50.6,11.7 49.4,11.8 48.2,11.8 47.0,11.8 45.9,11.8 44.7,11.8 43.5,11.7 42.3,11.7 41.2,11.6 40.0,11.5 35.1,10.9 30.1,10.0 25.2,8.8 20.2,7.5 15.3,6.0 10.4,4.3 5.4,2.4 0.5,0.2Z" fill="#ff1100"/>
<path d="M0.0,0.0 0.5,-0.2 5.4,-2.3 10.4,-4.2 15.3,-5.8 20.2,-7.3 25.2,-8.5 30.1,-9.5 35.1,-10.3 40.0,-10.8 41.0,-10.8 42.0,-10.9 43.1,-10.9 44.1,-10.9 45.1,-10.9 46.1,-10.9 47.1,-10.8 48.1,-10.8 49.2,-10.7 50.2,-10.5 51.2,-10.4 52.2,-10.2 53.2,-10.0 54.3,-9.7 55.3,-9.5 56.3,-9.2 57.3,-8.9 58.3,-8.5 59.3,-8.0 60.4,-7.5 61.4,-6.8 62.4,-5.8 63.4,-4.6 64.4,-3.2 65.4,-0.0 65.4,0.0 64.4,3.2 63.4,4.6 62.4,5.8 61.4,6.8 60.4,7.5 59.3,8.0 58.3,8.5 57.3,8.9 56.3,9.2 55.3,9.5 54.3,9.7 53.2,10.0 52.2,10.2 51.2,10.4 50.2,10.5 49.2,10.7 48.1,10.8 47.1,10.8 46.1,10.9 45.1,10.9 44.1,10.9 43.1,10.9 42.0,10.9 41.0,10.8 40.0,10.8 35.1,10.3 30.1,9.5 25.2,8.5 20.2,7.3 15.3,5.8 10.4,4.2 5.4,2.3 0.5,0.2Z" fill="#ff0800"/>
<path d="M0.0,0.0 0.5,-0.2 5.4,-2.3 10.4,-4.1 15.3,-5.7 20.2,-7.0 25.2,-8.1 30.1,-9.0 35.1,-9.7 40.0,-10.0 40.9,-10.0 41.7,-10.0 42.6,-10.0 43.5,-10.0 44.3,-10.0 45.2,-9.9 46.1,-9.8 46.9,-9.7 47.8,-9.6 48.7,-9.4 49.5,-9.3 50.4,-9.1 51.3,-8.9 52.1,-8.7 53.0,-8.4 53.9,-8.2 54.7,-7.9 55.6,-7.5 56.5,-7.1 57.3,-6.6 58.2,-5.9 59.1,-5.0 59.9,-4.0 60.8,-2.7 61.7,-0.0 61.7,0.0 60.8,2.7 59.9,4.0 59.1,5.0 58.2,5.9 57.3,6.6 56.5,7.1 55.6,7.5 54.7,7.9 53.9,8.2 53.0,8.4 52.1,8.7 51.3,8.9 50.4,9.1 49.5,9.3 48.7,9.4 47.8,9.6 46.9,9.7 46.1,9.8 45.2,9.9 44.3,10.0 43.5,10.0 42.6,10.0 41.7,10.0 40.9,10.0 40.0,10.0 35.1,9.7 30.1,9.0 25.2,8.1 20.2,7.0 15.3,5.7 10.4,4.1 5.4,2.3 0.5,0.2Z" fill="#ff0200"/>
<path d="M0.0,0.0 0.5,-0.2 5.4,-2.2 10.4,-4.0 15.3,-5.5 20.2,-6.7 25.2,-7.8 30.1,-8.5 35.1,-9.0 40.0,-9.2 40.7,-9.2 41.4,-9.1 42.2,-9.1 42.9,-9.0 43.6,-9.0 44.3,-8.9 45.0,-8.8 45.8,-8.6 46.5,-8.5 47.2,-8.4 47.9,-8.2 48.6,-8.1 49.4,-7.9 50.1,-7.7 50.8,-7.5 51.5,-7.2 52.2,-6.9 53.0,-6.6 53.7,-6.2 54.4,-5.6 55.1,-5.0 55.8,-4.2 56.6,-3.4 57.3,-2.3 58.0,-0.0 58.0,0.0 57.3,2.3 56.6,3.4 55.8,4.2 55.1,5.0 54.4,5.6 53.7,6.2 53.0,6.6 52.2,6.9 51.5,7.2 50.8,7.5 50.1,7.7 49.4,7.9 48.6,8.1 47.9,8.2 47.2,8.4 46.5,8.5 45.8,8.6 45.0,8.8 44.3,8.9 43.6,9.0 42.9,9.0 42.2,9.1 41.4,9.1 40.7,9.2 40.0,9.2 35.1,9.0 30.1,8.5 25.2,7.8 20.2,6.7 15.3,5.5 10.4,4.0 5.4,2.2 0.5,0.2Z" fill="#ff0200"/>
<path d="M0.0,0.0 0.5,-0.2 5.4,-2.2 10.4,-3.9 15.3,-5.3 20.2,-6.5 25.2,-7.4 30.1,-8.0 35.1,-8.4 40.0,-8.3 40.6,-8.2 41.2,-8.2 41.7,-8.1 42.3,-8.0 42.9,-7.9 43.5,-7.8 44.0,-7.7 44.6,-7.6 45.2,-7.5 45.8,-7.4 46.3,-7.2 46.9,-7.1 47.5,-6.9 48.1,-6.7 48.6,-6.5 49.2,-6.2 49.8,-6.0 50.4,-5.6 51.0,-5.2 51.5,-4.7 52.1,-4.1 52.7,-3.5 53.3,-2.8 53.8,-1.9 54.4,-0.0 54.4,0.0 53.8,1.9 53.3,2.8 52.7,3.5 52.1,4.1 51.5,4.7 51.0,5.2 50.4,5.6 49.8,6.0 49.2,6.2 48.6,6.5 48.1,6.7 47.5,6.9 46.9,7.1 46.3,7.2 45.8,7.4 45.2,7.5 44.6,7.6 44.0,7.7 43.5,7.8 42.9,7.9 42.3,8.0 41.7,8.1 41.2,8.2 40.6,8.2 40.0,8.3 35.1,8.4 30.1,8.0 25.2,7.4 20.2,6.5 15.3,5.3 10.4,3.9 5.4,2.2 0.5,0.2Z" fill="#ff0200"/>
<path d="M0.0,0.0 0.5,-0.3 4.1,-2.1 7.7,-3.8 11.3,-5.5 14.9,-7.1 18.5,-8.6 22.0,-10.0 25.6,-11.4 29.2,-12.7 32.8,-13.9 36.4,-15.0 40.0,-16.1 41.7,-16.6 43.4,-17.0 45.0,-17.4 46.7,-17.8 48.4,-18.2 50.1,-18.5 51.8,-18.8 53.4,-19.2 55.1,-19.4 56.8,-19.7 58.5,-19.9 60.2,-20.1 61.8,-20.3 63.5,-20.4 65.2,-20.5 66.9,-20.6 68.6,-20.6 70.2,-20.6 71.9,-20.6 73.6,-20.5 75.3,-20.4 76.9,-20.4 78.6,-20.4 80.3,-20.3 82.0,-20.2 83.7,-20.0 85.3,-19.8 87.0,-19.6 88.7,-19.3 90.4,-18.9 92.1,-18.5 93.7,-18.0 95.4,-17.4 97.1,-16.9 98.8,-16.2 100.5,-15.5 102.1,-14.7 103.8,-13.7 105.5,-12.5 107.2,-10.7 108.9,-8.4 110.5,-5.7 112.2,-0.0 112.2,0.0 110.5,5.7 108.9,8.4 107.2,10.7 105.5,12.5 103.8,13.7 102.1,14.7 100.5,15.5 98.8,16.2 97.1,16.9 95.4,17.4 93.7,18.0 92.1,18.5 90.4,18.9 88.7,19.3 87.0,19.6 85.3,19.8 83.7,20.0 82.0,20.2 80.3,20.3 78.6,20.4 76.9,20.4 75.3,20.4 73.6,20.5 71.9,20.6 70.2,20.6 68.6,20.6 66.9,20.6 65.2,20.5 63.5,20.4 61.8,20.3 60.2,20.1 58.5,19.9 56.8,19.7 55.1,19.4 53.4,19.2 51.8,18.8 50.1,18.5 48.4,18.2 46.7,17.8 45.0,17.4 43.4,17.0 41.7,16.6 40.0,16.1 36.4,15.0 32.8,13.9 29.2,12.7 25.6,11.4 22.0,10.0 18.5,8.6 14.9,7.1 11.3,5.5 7.7,3.8 4.1,2.1 0.5,0.3Z" fill="none" stroke="#223" stroke-opacity="0.55" stroke-width="0.35" stroke-dasharray="0.6,0.6" vector-effect="non-scaling-stroke"/>
<path d="M0.0,0.0 0.5,-0.3 4.1,-2.5 7.7,-4.7 11.3,-6.7 14.9,-8.7 18.5,-10.7 22.0,-12.6 25.6,-14.4 29.2,-16.2 32.8,-18.0 36.4,-19.7 40.0,-21.4 43.3,-22.9 46.5,-24.3 49.8,-25.7 53.0,-27.0 56.3,-28.2 59.5,-29.4 62.8,-30.6 66.1,-31.7 69.3,-32.7 72.6,-33.7 75.8,-34.6 79.1,-35.5 82.3,-36.4 85.6,-37.2 88.8,-38.0 92.1,-38.7 95.4,-39.3 98.6,-39.8 101.9,-40.3 105.1,-40.6 108.4,-40.9 111.6,-41.0 114.9,-41.1 118.2,-41.0 121.4,-40.8 124.7,-40.5 127.9,-40.1 131.2,-39.6 134.4,-38.9 137.7,-38.1 140.9,-37.2 144.2,-36.2 147.5,-35.1 150.7,-33.8 154.0,-32.3 157.2,-30.5 160.5,-28.6 163.7,-26.5 167.0,-24.2 170.3,-21.4 173.5,-17.4 176.8,-11.5 180.0,-0.0 180.0,0.0 176.8,11.5 173.5,17.4 170.3,21.4 167.0,24.2 163.7,26.5 160.5,28.6 157.2,30.5 154.0,32.3 150.7,33.8 147.5,35.1 144.2,36.2 140.9,37.2 137.7,38.1 134.4,38.9 131.2,39.6 127.9,40.1 124.7,40.5 121.4,40.8 118.2,41.0 114.9,41.1 111.6,41.0 108.4,40.9 105.1,40.6 101.9,40.3 98.6,39.8 95.4,39.3 92.1,38.7 88.8,38.0 85.6,37.2 82.3,36.4 79.1,35.5 75.8,34.6 72.6,33.7 69.3,32.7 66.1,31.7 62.8,30.6 59.5,29.4 56.3,28.2 53.0,27.0 49.8,25.7 46.5,24.3 43.3,22.9 40.0,21.4 36.4,19.7 32.8,18.0 29.2,16.2 25.6,14.4 22.0,12.6 18.5,10.7 14.9,8.7 11.3,6.7 7.7,4.7 4.1,2.5 0.5,0.3Z" fill="none" stroke="#223" stroke-opacity="0.55" stroke-width="0.35" stroke-dasharray="0.6,0.6" vector-effect="non-scaling-stroke"/>
<path d="M0.0,0.0 0.5,-0.3 4.1,-2.6 7.7,-4.9 11.3,-7.0 14.9,-9.0 18.5,-11.1 22.0,-13.0 25.6,-14.9 29.2,-16.8 32.8,-18.6 36.4,-20.4 40.0,-22.2 43.5,-23.8 47.0,-25.4 50.6,-27.0 54.1,-28.5 57.6,-30.0 61.1,-31.4 64.6,-32.7 68.1,-34.0 71.7,-35.2 75.2,-36.3 78.7,-37.4 82.2,-38.5 85.7,-39.5 89.3,-40.4 92.8,-41.3 96.3,-42.1 99.8,-42.8 103.3,-43.4 106.9,-43.9 110.4,-44.3 113.9,-44.5 117.4,-44.7 120.9,-44.7 124.4,-44.6 128.0,-44.3 131.5,-44.0 135.0,-43.5 138.5,-42.9 142.0,-42.1 145.6,-41.3 149.1,-40.3 152.6,-39.2 156.1,-38.0 159.6,-36.6 163.1,-35.0 166.7,-33.1 170.2,-31.1 173.7,-28.8 177.2,-26.4 180.7,-23.5 184.3,-19.4 187.8,-13.1 191.3,-0.0 191.3,0.0 187.8,13.1 184.3,19.4 180.7,23.5 177.2,26.4 173.7,28.8 170.2,31.1 166.7,33.1 163.1,35.0 159.6,36.6 156.1,38.0 152.6,39.2 149.1,40.3 145.6,41.3 142.0,42.1 138.5,42.9 135.0,43.5 131.5,44.0 128.0,44.3 124.4,44.6 120.9,44.7 117.4,44.7 113.9,44.5 110.4,44.3 106.9,43.9 103.3,43.4 99.8,42.8 96.3,42.1 92.8,41.3 89.3,40.4 85.7,39.5 82.2,38.5 78.7,37.4 75.2,36.3 71.7,35.2 68.1,34.0 64.6,32.7 61.1,31.4 57.6,30.0 54.1,28.5 50.6,27.0 47.0,25.4 43.5,23.8 40.0,22.2 36.4,20.4 32.8,18.6 29.2,16.8 25.6,14.9 22.0,13.0 18.5,11.1 14.9,9.0 11.3,7.0 7.7,4.9 4.1,2.6 0.5,0.3Z" fill="none" stroke="#222" stroke-opacity="0.8" stroke-width="0.45" vector-effect="non-scaling-stroke"/>
<path d="M0.0,0.0 0.5,-0.4 4.1,-3.1 7.7,-5.9 11.3,-8.6 14.9,-11.2 18.5,-13.8 22.0,-16.4 25.6,-19.0 29.2,-21.5 32.8,-23.9 36.4,-26.3 40.0,-28.7 45.2,-32.0 50.4,-35.2 55.6,-38.3 60.8,-41.2 66.0,-44.0 71.2,-46.5 76.4,-48.9 81.6,-51.0 86.8,-53.1 92.0,-55.1 97.2,-57.2 102.4,-59.2 107.6,-61.1 112.8,-62.7 118.0,-64.2 123.2,-65.4 128.4,-66.5 133.6,-67.3 138.8,-67.8 143.9,-68.1 149.1,-68.3 154.3,-68.3 159.5,-68.2 164.7,-68.0 169.9,-67.6 175.1,-67.1 180.3,-66.5 185.5,-65.8 190.7,-65.0 195.9,-63.8 201.1,-62.6 206.3,-61.1 211.5,-59.5 216.7,-57.7 221.9,-55.8 227.1,-53.5 232.3,-50.7 237.5,-47.2 242.7,-43.0 247.9,-38.3 253.1,-32.4 258.3,-22.2 263.5,-0.0 263.5,0.0 258.3,22.2 253.1,32.4 247.9,38.3 242.7,43.0 237.5,47.2 232.3,50.7 227.1,53.5 221.9,55.8 216.7,57.7 211.5,59.5 206.3,61.1 201.1,62.6 195.9,63.8 190.7,65.0 185.5,65.8 180.3,66.5 175.1,67.1 169.9,67.6 164.7,68.0 159.5,68.2 154.3,68.3 149.1,68.3 143.9,68.1 138.8,67.8 133.6,67.3 128.4,66.5 123.2,65.4 118.0,64.2 112.8,62.7 107.6,61.1 102.4,59.2 97.2,57.2 92.0,55.1 86.8,53.1 81.6,51.0 76.4,48.9 71.2,46.5 66.0,44.0 60.8,41.2 55.6,38.3 50.4,35.2 45.2,32.0 40.0,28.7 36.4,26.3 32.8,23.9 29.2,21.5 25.6,19.0 22.0,16.4 18.5,13.8 14.9,11.2 11.3,8.6 7.7,5.9 4.1,3.1 0.5,0.4Z" fill="none" stroke="#223" stroke-opacity="0.55" stroke-width="0.35" stroke-dasharray="0.6,0.6" vector-effect="non-scaling-stroke"/>
<path d="M0.0,0.0 0.5,-0.4 4.1,-3.4 7.7,-6.3 11.3,-9.3 14.9,-12.2 18.5,-15.1 22.0,-18.0 25.6,-20.9 29.2,-23.8 32.8,-26.6 36.4,-29.4 40.0,-32.3 46.9,-37.6 53.8,-42.9 60.6,-48.0 67.5,-53.1 74.4,-58.0 81.3,-62.8 88.2,-67.4 95.0,-71.8 101.9,-76.0 108.8,-79.8 115.7,-82.9 122.6,-85.3 129.4,-87.0 136.3,-87.6 143.2,-87.3 150.1,-87.7 157.0,-88.5 163.8,-89.4 170.7,-90.2 177.6,-91.0 184.5,-91.5 191.4,-91.7 198.3,-91.9 205.1,-92.0 212.0,-92.2 218.9,-92.3 225.8,-92.4 232.7,-92.1 239.5,-91.6 246.4,-90.8 253.3,-89.7 260.2,-88.3 267.1,-86.4 273.9,-84.0 280.8,-81.1 287.7,-77.8 294.6,-73.8 301.5,-69.1 308.3,-63.1 315.2,-55.7 322.1,-47.0 329.0,-33.8 335.9,-0.0 335.9,0.0 329.0,33.8 322.1,47.0 315.2,55.7 308.3,63.1 301.5,69.1 294.6,73.8 287.7,77.8 280.8,81.1 273.9,84.0 267.1,86.4 260.2,88.3 253.3,89.7 246.4,90.8 239.5,91.6 232.7,92.1 225.8,92.4 218.9,92.3 212.0,92.2 205.1,92.0 198.3,91.9 191.4,91.7 184.5,91.5 177.6,91.0 170.7,90.2 163.8,89.4 157.0,88.5 150.1,87.7 143.2,87.3 136.3,87.6 129.4,87.0 122.6,85.3 115.7,82.9 108.8,79.8 101.9,76.0 95.0,71.8 88.2,67.4 81.3,62.8 74.4,58.0 67.5,53.1 60.6,48.0 53.8,42.9 46.9,37.6 40.0,32.3 36.4,29.4 32.8,26.6 29.2,23.8 25.6,20.9 22.0,18.0 18.5,15.1 14.9,12.2 11.3,9.3 7.7,6.3 4.1,3.4 0.5,0.4Z" fill="none" stroke="#223" stroke-opacity="0.55" stroke-width="0.35" stroke-dasharray="0.6,0.6" vector-effect="non-scaling-stroke"/>
</g></defs>
<clipPath id="cp0"><rect x="53.1" y="216.8" width="113.20000000000002" height="75.09999999999997"/></clipPath>
<rect x="53.1" y="216.8" width="113.20000000000002" height="75.09999999999997" fill="#0000ff"/>
<g clip-path="url(#cp0)"><use href="#plume" transform="translate(53.1,254.35) scale(0.3773,0.3755)"/></g>
<text x="160.0" y="225.6" font-size="7.3" font-weight="bold" text-anchor="end" fill="#111" font-family="Liberation Sans" >WCF- A</text>
<text x="122" y="257.18" font-size="6.1" font-weight="bold" text-anchor="middle" fill="#111" font-family="Liberation Sans" >1.00E-4</text>
<text x="51.3" y="218.8" font-size="6.0" font-weight="bold" text-anchor="end" fill="#111" font-family="Liberation Sans" >100 m</text>
<line x1="51.5" y1="216.8" x2="53.1" y2="216.8" stroke="#222" stroke-width="0.5"/>
<text x="51.3" y="237.6" font-size="6.0" font-weight="bold" text-anchor="end" fill="#111" font-family="Liberation Sans" >50 m</text>
<line x1="51.5" y1="235.6" x2="53.1" y2="235.6" stroke="#222" stroke-width="0.5"/>
<text x="51.3" y="256.4" font-size="6.0" font-weight="bold" text-anchor="end" fill="#111" font-family="Liberation Sans" >0 m</text>
<line x1="51.5" y1="254.3" x2="53.1" y2="254.3" stroke="#222" stroke-width="0.5"/>
<text x="51.3" y="275.1" font-size="6.0" font-weight="bold" text-anchor="end" fill="#111" font-family="Liberation Sans" >-50 m</text>
<line x1="51.5" y1="273.1" x2="53.1" y2="273.1" stroke="#222" stroke-width="0.5"/>
<text x="51.3" y="293.9" font-size="6.0" font-weight="bold" text-anchor="end" fill="#111" font-family="Liberation Sans" >-100 m</text>
<line x1="51.5" y1="291.9" x2="53.1" y2="291.9" stroke="#222" stroke-width="0.5"/>
<text x="72.6" y="300.0" font-size="6.0" font-weight="bold" text-anchor="middle" fill="#111" font-family="Liberation Sans" >50 m</text>
<line x1="72.0" y1="291.9" x2="72.0" y2="293.4" stroke="#222" stroke-width="0.5"/>
<text x="91.4" y="300.0" font-size="6.0" font-weight="bold" text-anchor="middle" fill="#111" font-family="Liberation Sans" >100 m</text>
<line x1="90.8" y1="291.9" x2="90.8" y2="293.4" stroke="#222" stroke-width="0.5"/>
<text x="110.3" y="300.0" font-size="6.0" font-weight="bold" text-anchor="middle" fill="#111" font-family="Liberation Sans" >150 m</text>
<line x1="109.7" y1="291.9" x2="109.7" y2="293.4" stroke="#222" stroke-width="0.5"/>
<text x="129.2" y="300.0" font-size="6.0" font-weight="bold" text-anchor="middle" fill="#111" font-family="Liberation Sans" >200 m</text>
<line x1="128.6" y1="291.9" x2="128.6" y2="293.4" stroke="#222" stroke-width="0.5"/>
<text x="148.0" y="300.0" font-size="6.0" font-weight="bold" text-anchor="middle" fill="#111" font-family="Liberation Sans" >250 m</text>
<line x1="147.4" y1="291.9" x2="147.4" y2="293.4" stroke="#222" stroke-width="0.5"/>
<text x="167.1" y="300.0" font-size="6.0" font-weight="bold" text-anchor="middle" fill="#111" font-family="Liberation Sans" >300 m</text>
<line x1="166.3" y1="291.9" x2="166.3" y2="293.4" stroke="#222" stroke-width="0.5"/>
<clipPath id="cp1"><rect x="175.2" y="216.5" width="116.60000000000002" height="75.5"/></clipPath>
<rect x="175.2" y="216.5" width="116.60000000000002" height="75.5" fill="#0000ff"/>
<g clip-path="url(#cp1)"><use href="#plume" transform="translate(175.2,254.25) scale(0.3918,0.3813)"/></g>
<text x="287.9" y="224.1" font-size="7.3" font-weight="bold" text-anchor="end" fill="#111" font-family="Liberation Sans" >WCF- B</text>
<text x="249.7" y="256.18" font-size="6.1" font-weight="bold" text-anchor="middle" fill="#111" font-family="Liberation Sans" >1.00E-4</text>
<text x="195.2" y="300.1" font-size="6.0" font-weight="bold" text-anchor="middle" fill="#111" font-family="Liberation Sans" >50 m</text>
<line x1="194.6" y1="292.0" x2="194.6" y2="293.5" stroke="#222" stroke-width="0.5"/>
<text x="214.7" y="300.1" font-size="6.0" font-weight="bold" text-anchor="middle" fill="#111" font-family="Liberation Sans" >100 m</text>
<line x1="214.1" y1="292.0" x2="214.1" y2="293.5" stroke="#222" stroke-width="0.5"/>
<text x="234.1" y="300.1" font-size="6.0" font-weight="bold" text-anchor="middle" fill="#111" font-family="Liberation Sans" >150 m</text>
<line x1="233.5" y1="292.0" x2="233.5" y2="293.5" stroke="#222" stroke-width="0.5"/>
<text x="253.5" y="300.1" font-size="6.0" font-weight="bold" text-anchor="middle" fill="#111" font-family="Liberation Sans" >200 m</text>
<line x1="252.9" y1="292.0" x2="252.9" y2="293.5" stroke="#222" stroke-width="0.5"/>
<text x="273.0" y="300.1" font-size="6.0" font-weight="bold" text-anchor="middle" fill="#111" font-family="Liberation Sans" >250 m</text>
<line x1="272.4" y1="292.0" x2="272.4" y2="293.5" stroke="#222" stroke-width="0.5"/>
<text x="292.6" y="300.1" font-size="6.0" font-weight="bold" text-anchor="middle" fill="#111" font-family="Liberation Sans" >300 m</text>
<line x1="291.8" y1="292.0" x2="291.8" y2="293.5" stroke="#222" stroke-width="0.5"/>
<clipPath id="cp2"><rect x="53.3" y="308.0" width="113.00000000000001" height="75.5"/></clipPath>
<rect x="53.3" y="308.0" width="113.00000000000001" height="75.5" fill="#0000ff"/>
<g clip-path="url(#cp2)"><use href="#plume" transform="translate(53.3,345.75) scale(0.3488,0.3530)"/></g>
<text x="164.0" y="318.6" font-size="7.3" font-weight="bold" text-anchor="end" fill="#111" font-family="Liberation Sans" >WCF- C</text>
<text x="119" y="348.68" font-size="6.1" font-weight="bold" text-anchor="middle" fill="#111" font-family="Liberation Sans" >1.00E-4</text>
<text x="51.5" y="310.0" font-size="6.0" font-weight="bold" text-anchor="end" fill="#111" font-family="Liberation Sans" >100 m</text>
<line x1="51.7" y1="308.0" x2="53.3" y2="308.0" stroke="#222" stroke-width="0.5"/>
<text x="51.5" y="328.9" font-size="6.0" font-weight="bold" text-anchor="end" fill="#111" font-family="Liberation Sans" >50 m</text>
<line x1="51.7" y1="326.9" x2="53.3" y2="326.9" stroke="#222" stroke-width="0.5"/>
<text x="51.5" y="347.8" font-size="6.0" font-weight="bold" text-anchor="end" fill="#111" font-family="Liberation Sans" >0 m</text>
<line x1="51.7" y1="345.8" x2="53.3" y2="345.8" stroke="#222" stroke-width="0.5"/>
<text x="51.5" y="366.6" font-size="6.0" font-weight="bold" text-anchor="end" fill="#111" font-family="Liberation Sans" >-50 m</text>
<line x1="51.7" y1="364.6" x2="53.3" y2="364.6" stroke="#222" stroke-width="0.5"/>
<text x="51.5" y="385.5" font-size="6.0" font-weight="bold" text-anchor="end" fill="#111" font-family="Liberation Sans" >-100 m</text>
<line x1="51.7" y1="383.5" x2="53.3" y2="383.5" stroke="#222" stroke-width="0.5"/>
<text x="72.7" y="391.6" font-size="6.0" font-weight="bold" text-anchor="middle" fill="#111" font-family="Liberation Sans" >50 m</text>
<line x1="72.1" y1="383.5" x2="72.1" y2="385.0" stroke="#222" stroke-width="0.5"/>
<text x="91.6" y="391.6" font-size="6.0" font-weight="bold" text-anchor="middle" fill="#111" font-family="Liberation Sans" >100 m</text>
<line x1="91.0" y1="383.5" x2="91.0" y2="385.0" stroke="#222" stroke-width="0.5"/>
<text x="110.4" y="391.6" font-size="6.0" font-weight="bold" text-anchor="middle" fill="#111" font-family="Liberation Sans" >150 m</text>
<line x1="109.8" y1="383.5" x2="109.8" y2="385.0" stroke="#222" stroke-width="0.5"/>
<text x="129.2" y="391.6" font-size="6.0" font-weight="bold" text-anchor="middle" fill="#111" font-family="Liberation Sans" >200 m</text>
<line x1="128.6" y1="383.5" x2="128.6" y2="385.0" stroke="#222" stroke-width="0.5"/>
<text x="148.1" y="391.6" font-size="6.0" font-weight="bold" text-anchor="middle" fill="#111" font-family="Liberation Sans" >250 m</text>
<line x1="147.5" y1="383.5" x2="147.5" y2="385.0" stroke="#222" stroke-width="0.5"/>
<text x="167.1" y="391.6" font-size="6.0" font-weight="bold" text-anchor="middle" fill="#111" font-family="Liberation Sans" >300 m</text>
<line x1="166.3" y1="383.5" x2="166.3" y2="385.0" stroke="#222" stroke-width="0.5"/>
<clipPath id="cp3"><rect x="175.8" y="307.6" width="114.19999999999999" height="75.69999999999999"/></clipPath>
<rect x="175.8" y="307.6" width="114.19999999999999" height="75.69999999999999" fill="#0000ff"/>
<g clip-path="url(#cp3)"><use href="#plume" transform="translate(175.8,345.45) scale(0.4313,0.4391)"/></g>
<text x="287.0" y="315.8" font-size="7.3" font-weight="bold" text-anchor="end" fill="#111" font-family="Liberation Sans" >WCF- D</text>
<text x="256.4" y="347.93" font-size="6.1" font-weight="bold" text-anchor="middle" fill="#111" font-family="Liberation Sans" >1.00E-4</text>
<text x="195.4" y="391.4" font-size="6.0" font-weight="bold" text-anchor="middle" fill="#111" font-family="Liberation Sans" >50 m</text>
<line x1="194.8" y1="383.3" x2="194.8" y2="384.8" stroke="#222" stroke-width="0.5"/>
<text x="214.5" y="391.4" font-size="6.0" font-weight="bold" text-anchor="middle" fill="#111" font-family="Liberation Sans" >100 m</text>
<line x1="213.9" y1="383.3" x2="213.9" y2="384.8" stroke="#222" stroke-width="0.5"/>
<text x="233.5" y="391.4" font-size="6.0" font-weight="bold" text-anchor="middle" fill="#111" font-family="Liberation Sans" >150 m</text>
<line x1="232.9" y1="383.3" x2="232.9" y2="384.8" stroke="#222" stroke-width="0.5"/>
<text x="252.5" y="391.4" font-size="6.0" font-weight="bold" text-anchor="middle" fill="#111" font-family="Liberation Sans" >200 m</text>
<line x1="251.9" y1="383.3" x2="251.9" y2="384.8" stroke="#222" stroke-width="0.5"/>
<text x="271.6" y="391.4" font-size="6.0" font-weight="bold" text-anchor="middle" fill="#111" font-family="Liberation Sans" >250 m</text>
<line x1="271.0" y1="383.3" x2="271.0" y2="384.8" stroke="#222" stroke-width="0.5"/>
<text x="290.8" y="391.4" font-size="6.0" font-weight="bold" text-anchor="middle" fill="#111" font-family="Liberation Sans" >300 m</text>
<line x1="290.0" y1="383.3" x2="290.0" y2="384.8" stroke="#222" stroke-width="0.5"/>
<clipPath id="cp4"><rect x="53.8" y="399.0" width="113.2" height="75.5"/></clipPath>
<rect x="53.8" y="399.0" width="113.2" height="75.5" fill="#0000ff"/>
<g clip-path="url(#cp4)"><use href="#plume" transform="translate(53.8,436.75) scale(0.3494,0.3522)"/></g>
<text x="164.5" y="407.6" font-size="7.3" font-weight="bold" text-anchor="end" fill="#111" font-family="Liberation Sans" >WCF- E</text>
<text x="120.1" y="440.43" font-size="6.1" font-weight="bold" text-anchor="middle" fill="#111" font-family="Liberation Sans" >1.00E-4</text>
<text x="52.0" y="401.0" font-size="6.0" font-weight="bold" text-anchor="end" fill="#111" font-family="Liberation Sans" >100 m</text>
<line x1="52.2" y1="399.0" x2="53.8" y2="399.0" stroke="#222" stroke-width="0.5"/>
<text x="52.0" y="419.9" font-size="6.0" font-weight="bold" text-anchor="end" fill="#111" font-family="Liberation Sans" >50 m</text>
<line x1="52.2" y1="417.9" x2="53.8" y2="417.9" stroke="#222" stroke-width="0.5"/>
<text x="52.0" y="438.8" font-size="6.0" font-weight="bold" text-anchor="end" fill="#111" font-family="Liberation Sans" >0 m</text>
<line x1="52.2" y1="436.8" x2="53.8" y2="436.8" stroke="#222" stroke-width="0.5"/>
<text x="52.0" y="457.6" font-size="6.0" font-weight="bold" text-anchor="end" fill="#111" font-family="Liberation Sans" >-50 m</text>
<line x1="52.2" y1="455.6" x2="53.8" y2="455.6" stroke="#222" stroke-width="0.5"/>
<text x="52.0" y="476.5" font-size="6.0" font-weight="bold" text-anchor="end" fill="#111" font-family="Liberation Sans" >-100 m</text>
<line x1="52.2" y1="474.5" x2="53.8" y2="474.5" stroke="#222" stroke-width="0.5"/>
<text x="73.3" y="482.6" font-size="6.0" font-weight="bold" text-anchor="middle" fill="#111" font-family="Liberation Sans" >50 m</text>
<line x1="72.7" y1="474.5" x2="72.7" y2="476.0" stroke="#222" stroke-width="0.5"/>
<text x="92.1" y="482.6" font-size="6.0" font-weight="bold" text-anchor="middle" fill="#111" font-family="Liberation Sans" >100 m</text>
<line x1="91.5" y1="474.5" x2="91.5" y2="476.0" stroke="#222" stroke-width="0.5"/>
<text x="111.0" y="482.6" font-size="6.0" font-weight="bold" text-anchor="middle" fill="#111" font-family="Liberation Sans" >150 m</text>
<line x1="110.4" y1="474.5" x2="110.4" y2="476.0" stroke="#222" stroke-width="0.5"/>
<text x="129.9" y="482.6" font-size="6.0" font-weight="bold" text-anchor="middle" fill="#111" font-family="Liberation Sans" >200 m</text>
<line x1="129.3" y1="474.5" x2="129.3" y2="476.0" stroke="#222" stroke-width="0.5"/>
<text x="148.7" y="482.6" font-size="6.0" font-weight="bold" text-anchor="middle" fill="#111" font-family="Liberation Sans" >250 m</text>
<line x1="148.1" y1="474.5" x2="148.1" y2="476.0" stroke="#222" stroke-width="0.5"/>
<text x="167.8" y="482.6" font-size="6.0" font-weight="bold" text-anchor="middle" fill="#111" font-family="Liberation Sans" >300 m</text>
<line x1="167.0" y1="474.5" x2="167.0" y2="476.0" stroke="#222" stroke-width="0.5"/>
<clipPath id="cp5"><rect x="177.0" y="399.0" width="114.80000000000001" height="75.5"/></clipPath>
<rect x="177.0" y="399.0" width="114.80000000000001" height="75.5" fill="#0000ff"/>
<g clip-path="url(#cp5)"><use href="#plume" transform="translate(177.0,436.75) scale(0.3421,0.3416)"/></g>
<text x="288.0" y="408.3" font-size="7.3" font-weight="bold" text-anchor="end" fill="#111" font-family="Liberation Sans" >WCF- F</text>
<text x="244.3" y="440.68" font-size="6.1" font-weight="bold" text-anchor="middle" fill="#111" font-family="Liberation Sans" >1.00E-4</text>
<text x="196.7" y="482.6" font-size="6.0" font-weight="bold" text-anchor="middle" fill="#111" font-family="Liberation Sans" >50 m</text>
<line x1="196.1" y1="474.5" x2="196.1" y2="476.0" stroke="#222" stroke-width="0.5"/>
<text x="215.9" y="482.6" font-size="6.0" font-weight="bold" text-anchor="middle" fill="#111" font-family="Liberation Sans" >100 m</text>
<line x1="215.3" y1="474.5" x2="215.3" y2="476.0" stroke="#222" stroke-width="0.5"/>
<text x="235.0" y="482.6" font-size="6.0" font-weight="bold" text-anchor="middle" fill="#111" font-family="Liberation Sans" >150 m</text>
<line x1="234.4" y1="474.5" x2="234.4" y2="476.0" stroke="#222" stroke-width="0.5"/>
<text x="254.1" y="482.6" font-size="6.0" font-weight="bold" text-anchor="middle" fill="#111" font-family="Liberation Sans" >200 m</text>
<line x1="253.5" y1="474.5" x2="253.5" y2="476.0" stroke="#222" stroke-width="0.5"/>
<text x="273.3" y="482.6" font-size="6.0" font-weight="bold" text-anchor="middle" fill="#111" font-family="Liberation Sans" >250 m</text>
<line x1="272.7" y1="474.5" x2="272.7" y2="476.0" stroke="#222" stroke-width="0.5"/>
<text x="292.6" y="482.6" font-size="6.0" font-weight="bold" text-anchor="middle" fill="#111" font-family="Liberation Sans" >300 m</text>
<line x1="291.8" y1="474.5" x2="291.8" y2="476.0" stroke="#222" stroke-width="0.5"/>
<text transform="translate(23.8,342) rotate(-90)" font-size="10" font-weight="bold" text-anchor="middle" fill="#111">Distance</text>
<text x="173.7" y="503.6" font-size="10" font-weight="bold" text-anchor="middle" fill="#111" font-family="Liberation Sans" >Distance</text>
<defs><linearGradient id="cbg" x1="0" x2="0" y1="0" y2="1">
<stop offset="0.0000" stop-color="#b00000"/>
<stop offset="0.0113" stop-color="#ff0000"/>
<stop offset="0.0733" stop-color="#ff3200"/>
<stop offset="0.1598" stop-color="#ff8c00"/>
<stop offset="0.2350" stop-color="#ffcd00"/>
<stop offset="0.2951" stop-color="#ffff00"/>
<stop offset="0.3327" stop-color="#beff00"/>
<stop offset="0.3853" stop-color="#5aff00"/>
<stop offset="0.4417" stop-color="#00ff1e"/>
<stop offset="0.5094" stop-color="#00ff8c"/>
<stop offset="0.5733" stop-color="#00ffff"/>
<stop offset="0.6485" stop-color="#00afff"/>
<stop offset="0.7350" stop-color="#005aff"/>
<stop offset="0.8177" stop-color="#281eff"/>
<stop offset="0.9004" stop-color="#6400ff"/>
<stop offset="1.0000" stop-color="#aa00ff"/>
</linearGradient></defs>
<rect x="303.2" y="212.5" width="9.2" height="266.0" fill="url(#cbg)"/>
<line x1="312.4" y1="214.4" x2="314.9" y2="214.4" stroke="#222" stroke-width="0.9"/>
<text transform="translate(317,216.4) scale(1.1,1)" font-size="8.7" font-weight="bold" fill="#111">5<tspan font-size="10.4" dy="0.9">×</tspan><tspan dy="-0.9">10</tspan><tspan font-size="5.6" dx="0.4" dy="-3.7">-3</tspan></text>
<line x1="312.4" y1="255.1" x2="314.9" y2="255.1" stroke="#222" stroke-width="0.9"/>
<text transform="translate(317,258.2) scale(1.1,1)" font-size="8.7" font-weight="bold" fill="#111">9<tspan font-size="10.4" dy="0.9">×</tspan><tspan dy="-0.9">10</tspan><tspan font-size="5.6" dx="0.4" dy="-3.7">-4</tspan></text>
<line x1="312.4" y1="294.4" x2="314.9" y2="294.4" stroke="#222" stroke-width="0.9"/>
<text transform="translate(317,297.5) scale(1.1,1)" font-size="8.7" font-weight="bold" fill="#111">1<tspan font-size="10.4" dy="0.9">×</tspan><tspan dy="-0.9">10</tspan><tspan font-size="5.6" dx="0.4" dy="-3.7">-4</tspan></text>
<line x1="312.4" y1="334.5" x2="314.9" y2="334.5" stroke="#222" stroke-width="0.9"/>
<text transform="translate(317,337.6) scale(1.1,1)" font-size="8.7" font-weight="bold" fill="#111">2<tspan font-size="10.4" dy="0.9">×</tspan><tspan dy="-0.9">10</tspan><tspan font-size="5.6" dx="0.4" dy="-3.7">-5</tspan></text>
<line x1="312.4" y1="374.3" x2="314.9" y2="374.3" stroke="#222" stroke-width="0.9"/>
<text transform="translate(317,377.4) scale(1.1,1)" font-size="8.7" font-weight="bold" fill="#111">2<tspan font-size="10.4" dy="0.9">×</tspan><tspan dy="-0.9">10</tspan><tspan font-size="5.6" dx="0.4" dy="-3.7">-6</tspan></text>
<line x1="312.4" y1="415.6" x2="314.9" y2="415.6" stroke="#222" stroke-width="0.9"/>
<text transform="translate(317,418.7) scale(1.1,1)" font-size="8.7" font-weight="bold" fill="#111">2<tspan font-size="10.4" dy="0.9">×</tspan><tspan dy="-0.9">10</tspan><tspan font-size="5.6" dx="0.4" dy="-3.7">-7</tspan></text>
<line x1="312.4" y1="452" x2="314.9" y2="452" stroke="#222" stroke-width="0.9"/>
<text transform="translate(317,455.1) scale(1.1,1)" font-size="8.7" font-weight="bold" fill="#111">2<tspan font-size="10.4" dy="0.9">×</tspan><tspan dy="-0.9">10</tspan><tspan font-size="5.6" dx="0.4" dy="-3.7">-8</tspan></text>
<line x1="312.4" y1="477.6" x2="314.9" y2="477.6" stroke="#222" stroke-width="0.9"/>
<text transform="translate(317,480.7) scale(1.1,1)" font-size="8.7" font-weight="bold" fill="#111">2<tspan font-size="10.4" dy="0.9">×</tspan><tspan dy="-0.9">10</tspan><tspan font-size="5.6" dx="0.4" dy="-3.7">-9</tspan></text>
<text x="8.2" y="17.8" font-size="15.1" font-weight="bold" text-anchor="start" fill="#000" font-family="Liberation Sans" >(a)</text>
<text x="338" y="15.9" font-size="15.1" font-weight="bold" text-anchor="start" fill="#000" font-family="Liberation Sans" >(b)</text>
<text x="523" y="17.4" font-size="15.1" font-weight="bold" text-anchor="start" fill="#000" font-family="Liberation Sans" >(c)</text>
<text x="8.3" y="192.9" font-size="15.1" font-weight="bold" text-anchor="start" fill="#000" font-family="Liberation Sans" >(d)</text>
<text x="339.5" y="192.9" font-size="15.1" font-weight="bold" text-anchor="start" fill="#000" font-family="Liberation Sans" >(e)</text>
</svg></body></html>
